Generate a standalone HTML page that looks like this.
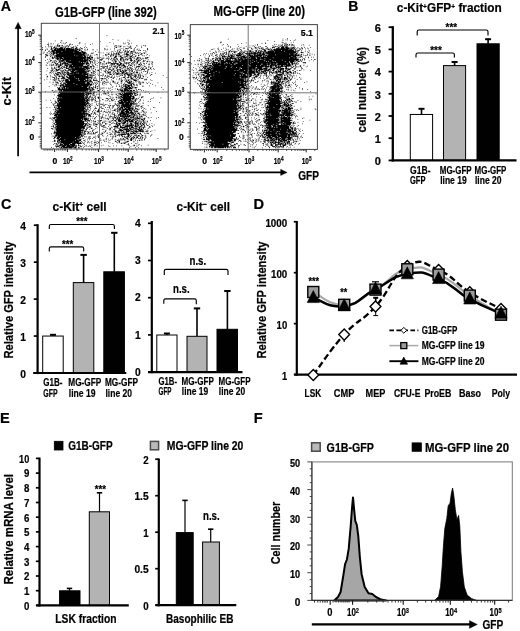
<!DOCTYPE html>
<html><head><meta charset="utf-8"><title>figure</title>
<style>html,body{margin:0;padding:0;background:#fff}svg{display:block;opacity:0.999;will-change:transform}text{stroke:#000;stroke-width:0.22px;font-family:"Liberation Sans",sans-serif;font-weight:bold}</style>
</head><body>
<svg width="520" height="631" viewBox="0 0 520 631">
<defs><filter id="soft" x="-2%" y="-2%" width="104%" height="104%"><feGaussianBlur stdDeviation="0.38"/></filter></defs>
<rect x="0" y="0" width="520" height="631" fill="#fff"/>
<text x="55.10" y="17.40" font-size="14.1" text-anchor="start" fill="#000" textLength="101.60" lengthAdjust="spacingAndGlyphs" >G1B-GFP (line 392)</text>
<text x="213.60" y="15.80" font-size="14.1" text-anchor="start" fill="#000" textLength="91.40" lengthAdjust="spacingAndGlyphs" >MG-GFP (line 20)</text>
<line x1="18.10" y1="28.00" x2="18.10" y2="156.20" stroke="#000" stroke-width="1.7" />
<path d="M18.1 22.2 L14.9 28.8 L21.3 28.8 Z" fill="#000" stroke="#000" stroke-width="0.3" />
<text transform="translate(11.40,91.30) rotate(-90)" x="0" y="0" font-size="13.4" text-anchor="middle" textLength="28.50" lengthAdjust="spacingAndGlyphs">c-Kit</text>
<line x1="29.50" y1="172.40" x2="281.50" y2="172.40" stroke="#000" stroke-width="1.7" />
<path d="M287.2 172.4 L280.6 169.2 L280.6 175.6 Z" fill="#000" stroke="#000" stroke-width="0.3" />
<text x="298.20" y="179.90" font-size="13.6" text-anchor="start" fill="#000" textLength="20.80" lengthAdjust="spacingAndGlyphs" >GFP</text>
<g filter="url(#soft)"><path d="M87 16h1v1h-1zM46 20h1v1h-1zM95 21h1v1h-1zM102 22h1v1h-1zM115 22h1v1h-1zM18 23h1v1h-1zM26 23h2v1h-2zM117 23h1v1h-1zM78 24h1v1h-1zM25 25h1v1h-1zM33 25h1v1h-1zM51 25h1v1h-1zM91 25h1v1h-1zM115 25h1v1h-1zM9 26h1v1h-1zM27 26h1v1h-1zM29 26h1v1h-1zM32 26h1v1h-1zM51 26h1v1h-1zM109 26h1v1h-1zM112 26h1v1h-1zM116 26h1v1h-1zM120 26h1v1h-1zM12 27h2v1h-2zM16 27h1v1h-1zM22 27h1v1h-1zM31 27h1v1h-1zM38 27h1v1h-1zM50 27h1v1h-1zM58 27h1v1h-1zM68 27h1v1h-1zM96 27h1v1h-1zM110 27h1v1h-1zM117 27h1v1h-1zM8 28h2v1h-2zM21 28h1v1h-1zM37 28h1v1h-1zM39 28h1v1h-1zM41 28h1v1h-1zM65 28h1v1h-1zM116 28h1v1h-1zM9 29h1v1h-1zM21 29h1v1h-1zM23 29h2v1h-2zM26 29h1v1h-1zM28 29h1v1h-1zM34 29h1v1h-1zM37 29h1v1h-1zM48 29h1v1h-1zM98 29h1v1h-1zM100 29h1v1h-1zM103 29h1v1h-1zM127 29h1v1h-1zM136 29h1v1h-1zM138 29h1v1h-1zM12 30h1v1h-1zM14 30h1v1h-1zM18 30h1v1h-1zM20 30h3v1h-3zM24 30h1v1h-1zM28 30h1v1h-1zM31 30h1v1h-1zM33 30h2v1h-2zM36 30h1v1h-1zM45 30h1v1h-1zM58 30h1v1h-1zM87 30h1v1h-1zM98 30h1v1h-1zM105 30h2v1h-2zM114 30h1v1h-1zM118 30h2v1h-2zM127 30h1v1h-1zM133 30h1v1h-1zM138 30h1v1h-1zM5 31h1v1h-1zM9 31h1v1h-1zM11 31h1v1h-1zM13 31h1v1h-1zM17 31h1v1h-1zM22 31h1v1h-1zM24 31h1v1h-1zM26 31h1v1h-1zM29 31h1v1h-1zM32 31h1v1h-1zM36 31h1v1h-1zM39 31h1v1h-1zM42 31h2v1h-2zM46 31h1v1h-1zM97 31h1v1h-1zM100 31h1v1h-1zM102 31h1v1h-1zM104 31h2v1h-2zM109 31h1v1h-1zM111 31h1v1h-1zM116 31h1v1h-1zM118 31h1v1h-1zM1 32h1v1h-1zM13 32h1v1h-1zM16 32h3v1h-3zM20 32h1v1h-1zM25 32h4v1h-4zM30 32h1v1h-1zM32 32h1v1h-1zM35 32h1v1h-1zM40 32h3v1h-3zM46 32h2v1h-2zM52 32h1v1h-1zM57 32h1v1h-1zM60 32h1v1h-1zM99 32h2v1h-2zM117 32h1v1h-1zM119 32h1v1h-1zM125 32h1v1h-1zM133 32h1v1h-1zM13 33h2v1h-2zM16 33h1v1h-1zM18 33h4v1h-4zM23 33h6v1h-6zM30 33h2v1h-2zM33 33h6v1h-6zM40 33h1v1h-1zM42 33h1v1h-1zM45 33h3v1h-3zM51 33h1v1h-1zM53 33h2v1h-2zM77 33h1v1h-1zM84 33h1v1h-1zM97 33h1v1h-1zM107 33h1v1h-1zM112 33h3v1h-3zM116 33h1v1h-1zM119 33h2v1h-2zM124 33h1v1h-1zM141 33h1v1h-1zM1 34h1v1h-1zM7 34h2v1h-2zM12 34h2v1h-2zM17 34h3v1h-3zM21 34h25v1h-25zM47 34h2v1h-2zM50 34h1v1h-1zM54 34h1v1h-1zM58 34h1v1h-1zM61 34h1v1h-1zM85 34h1v1h-1zM88 34h1v1h-1zM92 34h1v1h-1zM105 34h1v1h-1zM109 34h1v1h-1zM114 34h1v1h-1zM128 34h1v1h-1zM130 34h1v1h-1zM141 34h1v1h-1zM1 35h1v1h-1zM5 35h1v1h-1zM13 35h3v1h-3zM17 35h15v1h-15zM33 35h11v1h-11zM45 35h8v1h-8zM57 35h1v1h-1zM61 35h1v1h-1zM68 35h2v1h-2zM74 35h1v1h-1zM84 35h1v1h-1zM87 35h1v1h-1zM97 35h1v1h-1zM102 35h1v1h-1zM104 35h1v1h-1zM111 35h1v1h-1zM123 35h2v1h-2zM127 35h1v1h-1zM141 35h1v1h-1zM5 36h1v1h-1zM10 36h1v1h-1zM14 36h34v1h-34zM50 36h2v1h-2zM53 36h1v1h-1zM59 36h1v1h-1zM101 36h1v1h-1zM105 36h1v1h-1zM109 36h1v1h-1zM112 36h1v1h-1zM114 36h1v1h-1zM117 36h1v1h-1zM123 36h1v1h-1zM129 36h1v1h-1zM131 36h2v1h-2zM136 36h1v1h-1zM138 36h1v1h-1zM9 37h1v1h-1zM11 37h1v1h-1zM13 37h5v1h-5zM19 37h8v1h-8zM28 37h22v1h-22zM53 37h3v1h-3zM72 37h1v1h-1zM94 37h1v1h-1zM98 37h1v1h-1zM101 37h1v1h-1zM104 37h1v1h-1zM111 37h2v1h-2zM114 37h1v1h-1zM116 37h1v1h-1zM119 37h3v1h-3zM123 37h1v1h-1zM139 37h1v1h-1zM2 38h1v1h-1zM4 38h1v1h-1zM11 38h1v1h-1zM15 38h3v1h-3zM19 38h24v1h-24zM44 38h9v1h-9zM54 38h5v1h-5zM76 38h1v1h-1zM93 38h1v1h-1zM96 38h1v1h-1zM103 38h2v1h-2zM106 38h1v1h-1zM108 38h1v1h-1zM111 38h1v1h-1zM114 38h3v1h-3zM119 38h2v1h-2zM122 38h1v1h-1zM124 38h2v1h-2zM7 39h2v1h-2zM12 39h2v1h-2zM15 39h45v1h-45zM67 39h1v1h-1zM69 39h1v1h-1zM79 39h1v1h-1zM82 39h1v1h-1zM87 39h1v1h-1zM90 39h1v1h-1zM100 39h2v1h-2zM103 39h1v1h-1zM105 39h2v1h-2zM110 39h1v1h-1zM113 39h1v1h-1zM115 39h1v1h-1zM118 39h1v1h-1zM121 39h1v1h-1zM125 39h1v1h-1zM127 39h2v1h-2zM130 39h1v1h-1zM132 39h1v1h-1zM136 39h2v1h-2zM139 39h1v1h-1zM2 40h1v1h-1zM10 40h1v1h-1zM13 40h1v1h-1zM15 40h3v1h-3zM19 40h3v1h-3zM23 40h31v1h-31zM55 40h4v1h-4zM60 40h1v1h-1zM66 40h1v1h-1zM68 40h1v1h-1zM89 40h1v1h-1zM93 40h1v1h-1zM96 40h2v1h-2zM99 40h2v1h-2zM102 40h2v1h-2zM111 40h1v1h-1zM113 40h2v1h-2zM118 40h1v1h-1zM120 40h2v1h-2zM126 40h1v1h-1zM129 40h1v1h-1zM133 40h2v1h-2zM137 40h1v1h-1zM5 41h2v1h-2zM12 41h1v1h-1zM15 41h2v1h-2zM20 41h38v1h-38zM59 41h1v1h-1zM62 41h1v1h-1zM73 41h2v1h-2zM85 41h1v1h-1zM87 41h1v1h-1zM89 41h2v1h-2zM93 41h2v1h-2zM96 41h1v1h-1zM98 41h1v1h-1zM100 41h1v1h-1zM102 41h3v1h-3zM110 41h1v1h-1zM112 41h5v1h-5zM118 41h1v1h-1zM122 41h1v1h-1zM124 41h1v1h-1zM132 41h2v1h-2zM141 41h1v1h-1zM6 42h3v1h-3zM10 42h1v1h-1zM13 42h2v1h-2zM16 42h2v1h-2zM19 42h25v1h-25zM45 42h14v1h-14zM60 42h3v1h-3zM65 42h1v1h-1zM67 42h1v1h-1zM71 42h1v1h-1zM85 42h1v1h-1zM87 42h1v1h-1zM92 42h1v1h-1zM96 42h1v1h-1zM100 42h1v1h-1zM102 42h1v1h-1zM108 42h1v1h-1zM110 42h1v1h-1zM113 42h3v1h-3zM121 42h1v1h-1zM129 42h2v1h-2zM134 42h1v1h-1zM140 42h1v1h-1zM6 43h1v1h-1zM8 43h1v1h-1zM12 43h1v1h-1zM18 43h29v1h-29zM48 43h7v1h-7zM56 43h3v1h-3zM63 43h1v1h-1zM65 43h1v1h-1zM74 43h1v1h-1zM82 43h1v1h-1zM86 43h1v1h-1zM92 43h3v1h-3zM96 43h1v1h-1zM98 43h2v1h-2zM104 43h3v1h-3zM114 43h1v1h-1zM116 43h3v1h-3zM120 43h2v1h-2zM125 43h2v1h-2zM129 43h1v1h-1zM135 43h1v1h-1zM137 43h1v1h-1zM144 43h1v1h-1zM5 44h1v1h-1zM12 44h1v1h-1zM14 44h1v1h-1zM17 44h1v1h-1zM19 44h37v1h-37zM57 44h3v1h-3zM61 44h1v1h-1zM64 44h2v1h-2zM67 44h1v1h-1zM89 44h1v1h-1zM92 44h1v1h-1zM98 44h3v1h-3zM103 44h1v1h-1zM105 44h2v1h-2zM110 44h1v1h-1zM112 44h3v1h-3zM118 44h3v1h-3zM123 44h1v1h-1zM125 44h1v1h-1zM5 45h1v1h-1zM14 45h2v1h-2zM17 45h2v1h-2zM20 45h3v1h-3zM24 45h4v1h-4zM29 45h31v1h-31zM61 45h4v1h-4zM66 45h3v1h-3zM74 45h1v1h-1zM77 45h2v1h-2zM97 45h3v1h-3zM106 45h3v1h-3zM110 45h1v1h-1zM112 45h1v1h-1zM115 45h1v1h-1zM118 45h1v1h-1zM121 45h1v1h-1zM123 45h1v1h-1zM128 45h2v1h-2zM131 45h1v1h-1zM139 45h1v1h-1zM141 45h2v1h-2zM11 46h1v1h-1zM14 46h3v1h-3zM18 46h1v1h-1zM20 46h9v1h-9zM30 46h36v1h-36zM67 46h2v1h-2zM71 46h1v1h-1zM75 46h2v1h-2zM80 46h4v1h-4zM87 46h4v1h-4zM93 46h1v1h-1zM96 46h2v1h-2zM100 46h1v1h-1zM105 46h1v1h-1zM107 46h1v1h-1zM109 46h1v1h-1zM117 46h4v1h-4zM124 46h1v1h-1zM127 46h2v1h-2zM130 46h1v1h-1zM132 46h1v1h-1zM135 46h1v1h-1zM138 46h4v1h-4zM15 47h1v1h-1zM19 47h5v1h-5zM25 47h34v1h-34zM61 47h1v1h-1zM63 47h4v1h-4zM74 47h1v1h-1zM86 47h1v1h-1zM93 47h1v1h-1zM95 47h1v1h-1zM98 47h1v1h-1zM100 47h2v1h-2zM105 47h4v1h-4zM112 47h3v1h-3zM116 47h1v1h-1zM118 47h2v1h-2zM123 47h1v1h-1zM126 47h1v1h-1zM128 47h2v1h-2zM132 47h1v1h-1zM134 47h1v1h-1zM136 47h1v1h-1zM139 47h1v1h-1zM8 48h1v1h-1zM11 48h1v1h-1zM21 48h2v1h-2zM24 48h2v1h-2zM28 48h28v1h-28zM57 48h6v1h-6zM65 48h2v1h-2zM68 48h1v1h-1zM70 48h1v1h-1zM78 48h4v1h-4zM89 48h1v1h-1zM92 48h1v1h-1zM96 48h2v1h-2zM99 48h1v1h-1zM101 48h1v1h-1zM105 48h2v1h-2zM109 48h2v1h-2zM112 48h1v1h-1zM114 48h2v1h-2zM119 48h2v1h-2zM126 48h2v1h-2zM130 48h1v1h-1zM133 48h1v1h-1zM142 48h1v1h-1zM5 49h1v1h-1zM12 49h2v1h-2zM18 49h1v1h-1zM22 49h1v1h-1zM24 49h7v1h-7zM32 49h6v1h-6zM39 49h23v1h-23zM63 49h2v1h-2zM69 49h1v1h-1zM71 49h1v1h-1zM78 49h1v1h-1zM80 49h1v1h-1zM94 49h1v1h-1zM97 49h1v1h-1zM99 49h1v1h-1zM102 49h1v1h-1zM105 49h2v1h-2zM109 49h1v1h-1zM111 49h1v1h-1zM114 49h1v1h-1zM118 49h4v1h-4zM124 49h1v1h-1zM127 49h1v1h-1zM129 49h2v1h-2zM132 49h1v1h-1zM136 49h1v1h-1zM138 49h1v1h-1zM12 50h1v1h-1zM14 50h1v1h-1zM16 50h3v1h-3zM20 50h1v1h-1zM24 50h1v1h-1zM26 50h1v1h-1zM28 50h4v1h-4zM33 50h29v1h-29zM63 50h3v1h-3zM67 50h1v1h-1zM71 50h1v1h-1zM74 50h1v1h-1zM83 50h1v1h-1zM89 50h1v1h-1zM94 50h1v1h-1zM96 50h1v1h-1zM98 50h2v1h-2zM108 50h2v1h-2zM119 50h2v1h-2zM123 50h3v1h-3zM128 50h3v1h-3zM136 50h2v1h-2zM141 50h1v1h-1zM143 50h1v1h-1zM9 51h1v1h-1zM11 51h1v1h-1zM20 51h1v1h-1zM23 51h6v1h-6zM31 51h1v1h-1zM33 51h17v1h-17zM51 51h9v1h-9zM61 51h1v1h-1zM65 51h2v1h-2zM68 51h1v1h-1zM71 51h1v1h-1zM83 51h2v1h-2zM98 51h3v1h-3zM103 51h2v1h-2zM106 51h1v1h-1zM110 51h2v1h-2zM123 51h1v1h-1zM127 51h2v1h-2zM134 51h1v1h-1zM136 51h1v1h-1zM140 51h2v1h-2zM144 51h1v1h-1zM146 51h1v1h-1zM148 51h1v1h-1zM7 52h1v1h-1zM14 52h2v1h-2zM17 52h2v1h-2zM23 52h1v1h-1zM25 52h1v1h-1zM29 52h4v1h-4zM34 52h1v1h-1zM36 52h17v1h-17zM54 52h2v1h-2zM57 52h1v1h-1zM59 52h4v1h-4zM65 52h1v1h-1zM68 52h1v1h-1zM71 52h1v1h-1zM76 52h1v1h-1zM78 52h2v1h-2zM87 52h1v1h-1zM89 52h4v1h-4zM96 52h1v1h-1zM98 52h1v1h-1zM104 52h2v1h-2zM111 52h1v1h-1zM113 52h2v1h-2zM116 52h3v1h-3zM121 52h2v1h-2zM124 52h1v1h-1zM127 52h2v1h-2zM132 52h1v1h-1zM148 52h1v1h-1zM8 53h1v1h-1zM18 53h2v1h-2zM21 53h1v1h-1zM25 53h1v1h-1zM27 53h9v1h-9zM38 53h1v1h-1zM40 53h18v1h-18zM59 53h5v1h-5zM65 53h1v1h-1zM70 53h1v1h-1zM74 53h1v1h-1zM78 53h1v1h-1zM81 53h1v1h-1zM83 53h1v1h-1zM86 53h2v1h-2zM89 53h1v1h-1zM91 53h1v1h-1zM93 53h10v1h-10zM105 53h3v1h-3zM110 53h1v1h-1zM112 53h2v1h-2zM115 53h2v1h-2zM120 53h1v1h-1zM122 53h1v1h-1zM126 53h1v1h-1zM128 53h1v1h-1zM132 53h1v1h-1zM136 53h2v1h-2zM140 53h1v1h-1zM147 53h1v1h-1zM11 54h1v1h-1zM13 54h1v1h-1zM16 54h1v1h-1zM19 54h4v1h-4zM25 54h2v1h-2zM28 54h1v1h-1zM31 54h2v1h-2zM34 54h5v1h-5zM40 54h18v1h-18zM59 54h3v1h-3zM63 54h1v1h-1zM67 54h2v1h-2zM72 54h1v1h-1zM79 54h1v1h-1zM86 54h1v1h-1zM92 54h3v1h-3zM97 54h1v1h-1zM101 54h1v1h-1zM103 54h1v1h-1zM105 54h2v1h-2zM109 54h1v1h-1zM113 54h1v1h-1zM117 54h1v1h-1zM120 54h2v1h-2zM124 54h1v1h-1zM130 54h2v1h-2zM133 54h1v1h-1zM143 54h2v1h-2zM147 54h1v1h-1zM6 55h1v1h-1zM14 55h1v1h-1zM16 55h1v1h-1zM20 55h1v1h-1zM22 55h1v1h-1zM24 55h3v1h-3zM28 55h1v1h-1zM30 55h1v1h-1zM32 55h3v1h-3zM36 55h1v1h-1zM38 55h18v1h-18zM60 55h1v1h-1zM62 55h1v1h-1zM64 55h1v1h-1zM72 55h1v1h-1zM77 55h1v1h-1zM81 55h2v1h-2zM84 55h1v1h-1zM94 55h4v1h-4zM100 55h7v1h-7zM108 55h3v1h-3zM116 55h1v1h-1zM118 55h1v1h-1zM123 55h1v1h-1zM126 55h1v1h-1zM129 55h3v1h-3zM133 55h1v1h-1zM137 55h1v1h-1zM143 55h1v1h-1zM148 55h1v1h-1zM7 56h1v1h-1zM11 56h1v1h-1zM13 56h1v1h-1zM15 56h1v1h-1zM18 56h1v1h-1zM20 56h1v1h-1zM22 56h1v1h-1zM24 56h3v1h-3zM31 56h5v1h-5zM37 56h4v1h-4zM42 56h14v1h-14zM58 56h1v1h-1zM61 56h3v1h-3zM68 56h2v1h-2zM74 56h1v1h-1zM88 56h1v1h-1zM91 56h1v1h-1zM93 56h1v1h-1zM98 56h1v1h-1zM103 56h2v1h-2zM106 56h1v1h-1zM108 56h4v1h-4zM116 56h1v1h-1zM118 56h3v1h-3zM124 56h1v1h-1zM132 56h1v1h-1zM135 56h1v1h-1zM22 57h3v1h-3zM28 57h1v1h-1zM30 57h1v1h-1zM33 57h3v1h-3zM37 57h25v1h-25zM63 57h1v1h-1zM65 57h3v1h-3zM69 57h2v1h-2zM79 57h3v1h-3zM83 57h1v1h-1zM85 57h2v1h-2zM88 57h1v1h-1zM93 57h1v1h-1zM96 57h4v1h-4zM101 57h1v1h-1zM103 57h1v1h-1zM107 57h1v1h-1zM110 57h3v1h-3zM114 57h1v1h-1zM121 57h1v1h-1zM127 57h5v1h-5zM137 57h2v1h-2zM143 57h1v1h-1zM148 57h1v1h-1zM13 58h1v1h-1zM17 58h1v1h-1zM20 58h1v1h-1zM22 58h3v1h-3zM26 58h2v1h-2zM29 58h3v1h-3zM33 58h1v1h-1zM37 58h14v1h-14zM52 58h2v1h-2zM56 58h8v1h-8zM65 58h2v1h-2zM74 58h1v1h-1zM83 58h2v1h-2zM87 58h2v1h-2zM91 58h1v1h-1zM94 58h1v1h-1zM101 58h1v1h-1zM104 58h2v1h-2zM107 58h1v1h-1zM109 58h1v1h-1zM111 58h1v1h-1zM114 58h2v1h-2zM117 58h1v1h-1zM119 58h1v1h-1zM124 58h1v1h-1zM126 58h2v1h-2zM129 58h1v1h-1zM131 58h1v1h-1zM133 58h1v1h-1zM135 58h1v1h-1zM143 58h1v1h-1zM14 59h1v1h-1zM17 59h1v1h-1zM19 59h1v1h-1zM22 59h1v1h-1zM26 59h1v1h-1zM30 59h1v1h-1zM32 59h3v1h-3zM36 59h2v1h-2zM39 59h3v1h-3zM43 59h1v1h-1zM45 59h17v1h-17zM63 59h1v1h-1zM66 59h1v1h-1zM69 59h1v1h-1zM71 59h1v1h-1zM81 59h3v1h-3zM91 59h2v1h-2zM97 59h1v1h-1zM99 59h3v1h-3zM104 59h2v1h-2zM109 59h1v1h-1zM111 59h2v1h-2zM118 59h2v1h-2zM126 59h1v1h-1zM136 59h1v1h-1zM139 59h2v1h-2zM143 59h1v1h-1zM145 59h2v1h-2zM8 60h1v1h-1zM13 60h1v1h-1zM15 60h1v1h-1zM17 60h1v1h-1zM19 60h1v1h-1zM24 60h2v1h-2zM27 60h2v1h-2zM33 60h4v1h-4zM38 60h1v1h-1zM40 60h18v1h-18zM59 60h6v1h-6zM67 60h1v1h-1zM69 60h1v1h-1zM78 60h1v1h-1zM80 60h1v1h-1zM83 60h1v1h-1zM86 60h1v1h-1zM88 60h1v1h-1zM90 60h1v1h-1zM95 60h2v1h-2zM100 60h1v1h-1zM106 60h1v1h-1zM108 60h1v1h-1zM114 60h3v1h-3zM118 60h1v1h-1zM120 60h2v1h-2zM125 60h1v1h-1zM129 60h1v1h-1zM132 60h1v1h-1zM134 60h2v1h-2zM138 60h1v1h-1zM140 60h1v1h-1zM145 60h1v1h-1zM149 60h1v1h-1zM15 61h1v1h-1zM19 61h2v1h-2zM22 61h3v1h-3zM31 61h1v1h-1zM36 61h24v1h-24zM61 61h1v1h-1zM67 61h1v1h-1zM72 61h1v1h-1zM79 61h1v1h-1zM85 61h1v1h-1zM89 61h4v1h-4zM95 61h2v1h-2zM101 61h1v1h-1zM103 61h3v1h-3zM111 61h1v1h-1zM115 61h1v1h-1zM117 61h1v1h-1zM120 61h1v1h-1zM123 61h1v1h-1zM125 61h1v1h-1zM128 61h1v1h-1zM133 61h5v1h-5zM142 61h2v1h-2zM146 61h1v1h-1zM150 61h1v1h-1zM13 62h3v1h-3zM19 62h5v1h-5zM25 62h1v1h-1zM27 62h1v1h-1zM29 62h1v1h-1zM31 62h2v1h-2zM36 62h3v1h-3zM41 62h17v1h-17zM59 62h6v1h-6zM69 62h1v1h-1zM72 62h1v1h-1zM75 62h2v1h-2zM80 62h1v1h-1zM86 62h1v1h-1zM93 62h2v1h-2zM97 62h1v1h-1zM100 62h3v1h-3zM105 62h1v1h-1zM107 62h2v1h-2zM110 62h1v1h-1zM112 62h3v1h-3zM116 62h2v1h-2zM119 62h3v1h-3zM126 62h1v1h-1zM129 62h1v1h-1zM131 62h1v1h-1zM137 62h1v1h-1zM141 62h1v1h-1zM7 63h1v1h-1zM12 63h1v1h-1zM14 63h1v1h-1zM17 63h1v1h-1zM20 63h2v1h-2zM26 63h1v1h-1zM28 63h2v1h-2zM32 63h5v1h-5zM38 63h7v1h-7zM46 63h1v1h-1zM48 63h11v1h-11zM63 63h1v1h-1zM65 63h1v1h-1zM68 63h1v1h-1zM74 63h1v1h-1zM76 63h1v1h-1zM83 63h1v1h-1zM85 63h1v1h-1zM87 63h1v1h-1zM89 63h1v1h-1zM93 63h1v1h-1zM95 63h1v1h-1zM98 63h1v1h-1zM101 63h1v1h-1zM104 63h2v1h-2zM108 63h2v1h-2zM111 63h3v1h-3zM118 63h1v1h-1zM121 63h1v1h-1zM126 63h1v1h-1zM128 63h1v1h-1zM131 63h1v1h-1zM133 63h1v1h-1zM142 63h1v1h-1zM13 64h1v1h-1zM16 64h1v1h-1zM19 64h1v1h-1zM26 64h1v1h-1zM28 64h1v1h-1zM30 64h1v1h-1zM34 64h1v1h-1zM39 64h5v1h-5zM45 64h19v1h-19zM69 64h3v1h-3zM77 64h1v1h-1zM84 64h2v1h-2zM88 64h1v1h-1zM90 64h1v1h-1zM92 64h1v1h-1zM96 64h2v1h-2zM101 64h2v1h-2zM105 64h3v1h-3zM109 64h2v1h-2zM112 64h1v1h-1zM117 64h1v1h-1zM120 64h2v1h-2zM124 64h1v1h-1zM127 64h1v1h-1zM136 64h1v1h-1zM138 64h2v1h-2zM141 64h1v1h-1zM11 65h2v1h-2zM15 65h1v1h-1zM21 65h4v1h-4zM26 65h1v1h-1zM28 65h1v1h-1zM30 65h3v1h-3zM34 65h3v1h-3zM40 65h21v1h-21zM66 65h2v1h-2zM69 65h1v1h-1zM72 65h1v1h-1zM79 65h1v1h-1zM85 65h1v1h-1zM88 65h5v1h-5zM96 65h1v1h-1zM98 65h2v1h-2zM103 65h1v1h-1zM107 65h4v1h-4zM113 65h1v1h-1zM115 65h1v1h-1zM118 65h1v1h-1zM122 65h2v1h-2zM126 65h3v1h-3zM133 65h1v1h-1zM141 65h1v1h-1zM147 65h1v1h-1zM13 66h1v1h-1zM18 66h2v1h-2zM22 66h1v1h-1zM24 66h2v1h-2zM28 66h2v1h-2zM33 66h2v1h-2zM36 66h11v1h-11zM48 66h1v1h-1zM50 66h10v1h-10zM61 66h3v1h-3zM67 66h1v1h-1zM70 66h1v1h-1zM75 66h1v1h-1zM77 66h1v1h-1zM86 66h1v1h-1zM89 66h1v1h-1zM94 66h1v1h-1zM100 66h4v1h-4zM107 66h3v1h-3zM111 66h3v1h-3zM115 66h1v1h-1zM117 66h1v1h-1zM120 66h1v1h-1zM124 66h1v1h-1zM126 66h1v1h-1zM128 66h1v1h-1zM130 66h2v1h-2zM141 66h1v1h-1zM144 66h1v1h-1zM152 66h1v1h-1zM11 67h1v1h-1zM16 67h1v1h-1zM19 67h4v1h-4zM25 67h2v1h-2zM28 67h1v1h-1zM30 67h2v1h-2zM34 67h3v1h-3zM38 67h4v1h-4zM43 67h12v1h-12zM56 67h6v1h-6zM67 67h1v1h-1zM69 67h2v1h-2zM82 67h1v1h-1zM88 67h1v1h-1zM90 67h3v1h-3zM96 67h3v1h-3zM100 67h3v1h-3zM104 67h3v1h-3zM108 67h1v1h-1zM110 67h1v1h-1zM112 67h4v1h-4zM118 67h5v1h-5zM134 67h1v1h-1zM140 67h1v1h-1zM6 68h1v1h-1zM17 68h1v1h-1zM20 68h4v1h-4zM26 68h1v1h-1zM29 68h2v1h-2zM32 68h1v1h-1zM34 68h5v1h-5zM40 68h23v1h-23zM64 68h2v1h-2zM67 68h1v1h-1zM72 68h1v1h-1zM75 68h1v1h-1zM82 68h1v1h-1zM91 68h3v1h-3zM96 68h1v1h-1zM100 68h2v1h-2zM103 68h1v1h-1zM107 68h1v1h-1zM110 68h2v1h-2zM114 68h5v1h-5zM120 68h1v1h-1zM124 68h2v1h-2zM127 68h1v1h-1zM129 68h2v1h-2zM132 68h1v1h-1zM138 68h1v1h-1zM146 68h2v1h-2zM12 69h1v1h-1zM17 69h1v1h-1zM19 69h1v1h-1zM21 69h1v1h-1zM23 69h1v1h-1zM27 69h1v1h-1zM30 69h2v1h-2zM35 69h24v1h-24zM61 69h2v1h-2zM64 69h3v1h-3zM68 69h3v1h-3zM76 69h1v1h-1zM78 69h1v1h-1zM80 69h1v1h-1zM82 69h1v1h-1zM85 69h1v1h-1zM88 69h1v1h-1zM94 69h1v1h-1zM105 69h1v1h-1zM107 69h2v1h-2zM111 69h1v1h-1zM115 69h4v1h-4zM120 69h2v1h-2zM123 69h1v1h-1zM125 69h2v1h-2zM129 69h2v1h-2zM132 69h1v1h-1zM134 69h1v1h-1zM145 69h1v1h-1zM162 69h1v1h-1zM8 70h1v1h-1zM19 70h1v1h-1zM23 70h4v1h-4zM28 70h1v1h-1zM33 70h1v1h-1zM37 70h26v1h-26zM66 70h2v1h-2zM72 70h1v1h-1zM81 70h1v1h-1zM85 70h1v1h-1zM89 70h2v1h-2zM97 70h1v1h-1zM100 70h1v1h-1zM103 70h2v1h-2zM111 70h2v1h-2zM116 70h1v1h-1zM118 70h1v1h-1zM123 70h3v1h-3zM127 70h1v1h-1zM132 70h1v1h-1zM136 70h1v1h-1zM139 70h1v1h-1zM7 71h2v1h-2zM12 71h1v1h-1zM14 71h1v1h-1zM18 71h1v1h-1zM20 71h1v1h-1zM23 71h2v1h-2zM27 71h5v1h-5zM33 71h3v1h-3zM37 71h7v1h-7zM45 71h18v1h-18zM64 71h2v1h-2zM68 71h1v1h-1zM77 71h1v1h-1zM84 71h1v1h-1zM87 71h2v1h-2zM90 71h1v1h-1zM93 71h2v1h-2zM101 71h1v1h-1zM110 71h1v1h-1zM116 71h1v1h-1zM118 71h3v1h-3zM124 71h2v1h-2zM127 71h1v1h-1zM129 71h2v1h-2zM132 71h1v1h-1zM135 71h2v1h-2zM15 72h3v1h-3zM20 72h1v1h-1zM28 72h3v1h-3zM34 72h34v1h-34zM70 72h1v1h-1zM72 72h1v1h-1zM87 72h1v1h-1zM92 72h2v1h-2zM96 72h2v1h-2zM107 72h1v1h-1zM109 72h3v1h-3zM114 72h3v1h-3zM118 72h1v1h-1zM120 72h1v1h-1zM122 72h1v1h-1zM125 72h1v1h-1zM128 72h1v1h-1zM130 72h1v1h-1zM132 72h1v1h-1zM141 72h1v1h-1zM167 72h1v1h-1zM17 73h1v1h-1zM20 73h1v1h-1zM22 73h2v1h-2zM26 73h6v1h-6zM36 73h10v1h-10zM47 73h2v1h-2zM50 73h14v1h-14zM66 73h2v1h-2zM71 73h1v1h-1zM79 73h4v1h-4zM84 73h2v1h-2zM89 73h1v1h-1zM95 73h2v1h-2zM104 73h1v1h-1zM106 73h1v1h-1zM112 73h1v1h-1zM119 73h3v1h-3zM126 73h1v1h-1zM130 73h2v1h-2zM133 73h3v1h-3zM7 74h1v1h-1zM12 74h1v1h-1zM17 74h3v1h-3zM22 74h1v1h-1zM27 74h1v1h-1zM30 74h1v1h-1zM32 74h27v1h-27zM61 74h1v1h-1zM64 74h1v1h-1zM66 74h1v1h-1zM69 74h1v1h-1zM71 74h1v1h-1zM73 74h1v1h-1zM81 74h1v1h-1zM86 74h1v1h-1zM100 74h1v1h-1zM104 74h1v1h-1zM110 74h1v1h-1zM112 74h1v1h-1zM115 74h1v1h-1zM119 74h5v1h-5zM126 74h1v1h-1zM128 74h1v1h-1zM138 74h1v1h-1zM140 74h1v1h-1zM4 75h1v1h-1zM15 75h2v1h-2zM20 75h1v1h-1zM23 75h1v1h-1zM29 75h1v1h-1zM32 75h4v1h-4zM38 75h11v1h-11zM50 75h10v1h-10zM61 75h3v1h-3zM65 75h1v1h-1zM69 75h1v1h-1zM80 75h1v1h-1zM83 75h1v1h-1zM87 75h1v1h-1zM93 75h1v1h-1zM103 75h1v1h-1zM106 75h2v1h-2zM113 75h1v1h-1zM116 75h2v1h-2zM123 75h3v1h-3zM129 75h1v1h-1zM137 75h2v1h-2zM140 75h1v1h-1zM145 75h1v1h-1zM17 76h2v1h-2zM22 76h1v1h-1zM24 76h1v1h-1zM26 76h1v1h-1zM28 76h2v1h-2zM31 76h6v1h-6zM38 76h12v1h-12zM51 76h6v1h-6zM58 76h5v1h-5zM64 76h3v1h-3zM69 76h6v1h-6zM80 76h1v1h-1zM87 76h1v1h-1zM95 76h1v1h-1zM106 76h1v1h-1zM108 76h1v1h-1zM111 76h1v1h-1zM113 76h1v1h-1zM115 76h2v1h-2zM119 76h1v1h-1zM123 76h5v1h-5zM147 76h1v1h-1zM19 77h1v1h-1zM24 77h2v1h-2zM28 77h1v1h-1zM32 77h30v1h-30zM63 77h5v1h-5zM75 77h3v1h-3zM83 77h2v1h-2zM95 77h2v1h-2zM106 77h2v1h-2zM112 77h3v1h-3zM117 77h1v1h-1zM119 77h2v1h-2zM125 77h1v1h-1zM127 77h1v1h-1zM130 77h1v1h-1zM11 78h1v1h-1zM16 78h1v1h-1zM19 78h1v1h-1zM21 78h1v1h-1zM27 78h1v1h-1zM29 78h1v1h-1zM31 78h28v1h-28zM61 78h3v1h-3zM65 78h1v1h-1zM67 78h1v1h-1zM71 78h1v1h-1zM73 78h1v1h-1zM78 78h1v1h-1zM81 78h1v1h-1zM85 78h1v1h-1zM87 78h3v1h-3zM92 78h1v1h-1zM95 78h2v1h-2zM98 78h1v1h-1zM102 78h1v1h-1zM106 78h1v1h-1zM114 78h5v1h-5zM120 78h1v1h-1zM122 78h1v1h-1zM129 78h2v1h-2zM132 78h1v1h-1zM134 78h1v1h-1zM136 78h1v1h-1zM143 78h1v1h-1zM15 79h1v1h-1zM19 79h4v1h-4zM26 79h1v1h-1zM31 79h1v1h-1zM33 79h26v1h-26zM60 79h5v1h-5zM67 79h2v1h-2zM71 79h1v1h-1zM75 79h1v1h-1zM82 79h2v1h-2zM86 79h1v1h-1zM97 79h1v1h-1zM101 79h1v1h-1zM107 79h1v1h-1zM111 79h1v1h-1zM114 79h1v1h-1zM116 79h4v1h-4zM123 79h1v1h-1zM126 79h1v1h-1zM131 79h1v1h-1zM134 79h1v1h-1zM136 79h1v1h-1zM140 79h1v1h-1zM155 79h1v1h-1zM22 80h1v1h-1zM25 80h2v1h-2zM29 80h4v1h-4zM34 80h9v1h-9zM44 80h15v1h-15zM60 80h5v1h-5zM66 80h1v1h-1zM69 80h1v1h-1zM72 80h1v1h-1zM74 80h1v1h-1zM81 80h1v1h-1zM84 80h1v1h-1zM91 80h1v1h-1zM99 80h1v1h-1zM101 80h1v1h-1zM106 80h1v1h-1zM110 80h1v1h-1zM116 80h3v1h-3zM120 80h3v1h-3zM130 80h1v1h-1zM132 80h1v1h-1zM141 80h1v1h-1zM145 80h1v1h-1zM15 81h1v1h-1zM18 81h1v1h-1zM20 81h1v1h-1zM26 81h1v1h-1zM28 81h2v1h-2zM31 81h16v1h-16zM48 81h20v1h-20zM69 81h1v1h-1zM73 81h1v1h-1zM81 81h1v1h-1zM86 81h1v1h-1zM92 81h1v1h-1zM103 81h1v1h-1zM109 81h1v1h-1zM111 81h4v1h-4zM119 81h2v1h-2zM122 81h2v1h-2zM127 81h1v1h-1zM131 81h2v1h-2zM148 81h1v1h-1zM20 82h1v1h-1zM22 82h1v1h-1zM25 82h5v1h-5zM32 82h32v1h-32zM65 82h3v1h-3zM72 82h1v1h-1zM76 82h1v1h-1zM83 82h1v1h-1zM93 82h1v1h-1zM100 82h1v1h-1zM107 82h1v1h-1zM109 82h1v1h-1zM112 82h1v1h-1zM115 82h6v1h-6zM123 82h2v1h-2zM126 82h2v1h-2zM17 83h1v1h-1zM19 83h1v1h-1zM24 83h3v1h-3zM28 83h35v1h-35zM64 83h2v1h-2zM72 83h1v1h-1zM77 83h1v1h-1zM104 83h1v1h-1zM107 83h1v1h-1zM110 83h8v1h-8zM119 83h2v1h-2zM128 83h1v1h-1zM135 83h1v1h-1zM144 83h1v1h-1zM152 83h1v1h-1zM10 84h1v1h-1zM25 84h1v1h-1zM27 84h1v1h-1zM29 84h25v1h-25zM55 84h7v1h-7zM63 84h2v1h-2zM69 84h1v1h-1zM72 84h1v1h-1zM74 84h2v1h-2zM95 84h1v1h-1zM100 84h1v1h-1zM104 84h1v1h-1zM106 84h1v1h-1zM109 84h1v1h-1zM111 84h3v1h-3zM115 84h3v1h-3zM120 84h2v1h-2zM123 84h1v1h-1zM135 84h1v1h-1zM21 85h1v1h-1zM24 85h1v1h-1zM26 85h1v1h-1zM28 85h4v1h-4zM33 85h28v1h-28zM63 85h2v1h-2zM66 85h2v1h-2zM69 85h1v1h-1zM71 85h2v1h-2zM83 85h1v1h-1zM94 85h1v1h-1zM107 85h2v1h-2zM112 85h4v1h-4zM117 85h3v1h-3zM121 85h2v1h-2zM124 85h4v1h-4zM160 85h1v1h-1zM22 86h3v1h-3zM27 86h2v1h-2zM30 86h2v1h-2zM33 86h2v1h-2zM36 86h27v1h-27zM64 86h2v1h-2zM67 86h2v1h-2zM72 86h1v1h-1zM74 86h2v1h-2zM78 86h1v1h-1zM80 86h2v1h-2zM86 86h1v1h-1zM89 86h1v1h-1zM92 86h1v1h-1zM105 86h1v1h-1zM107 86h1v1h-1zM109 86h1v1h-1zM111 86h10v1h-10zM125 86h1v1h-1zM22 87h4v1h-4zM27 87h38v1h-38zM67 87h3v1h-3zM74 87h1v1h-1zM83 87h1v1h-1zM90 87h1v1h-1zM98 87h1v1h-1zM101 87h1v1h-1zM107 87h1v1h-1zM110 87h4v1h-4zM115 87h7v1h-7zM123 87h1v1h-1zM126 87h1v1h-1zM22 88h41v1h-41zM64 88h3v1h-3zM68 88h3v1h-3zM78 88h1v1h-1zM94 88h1v1h-1zM101 88h2v1h-2zM104 88h3v1h-3zM108 88h1v1h-1zM110 88h6v1h-6zM117 88h1v1h-1zM126 88h1v1h-1zM129 88h2v1h-2zM132 88h1v1h-1zM162 88h1v1h-1zM14 89h2v1h-2zM19 89h1v1h-1zM22 89h1v1h-1zM24 89h4v1h-4zM29 89h33v1h-33zM63 89h1v1h-1zM65 89h2v1h-2zM68 89h1v1h-1zM75 89h2v1h-2zM81 89h1v1h-1zM88 89h1v1h-1zM92 89h1v1h-1zM103 89h1v1h-1zM105 89h4v1h-4zM110 89h7v1h-7zM118 89h3v1h-3zM122 89h3v1h-3zM127 89h1v1h-1zM133 89h1v1h-1zM136 89h1v1h-1zM24 90h1v1h-1zM26 90h2v1h-2zM29 90h31v1h-31zM61 90h1v1h-1zM64 90h4v1h-4zM69 90h1v1h-1zM71 90h1v1h-1zM74 90h1v1h-1zM76 90h1v1h-1zM83 90h2v1h-2zM103 90h1v1h-1zM106 90h7v1h-7zM114 90h7v1h-7zM123 90h1v1h-1zM127 90h1v1h-1zM139 90h1v1h-1zM5 91h1v1h-1zM17 91h1v1h-1zM19 91h1v1h-1zM24 91h38v1h-38zM63 91h3v1h-3zM70 91h1v1h-1zM83 91h1v1h-1zM89 91h1v1h-1zM94 91h1v1h-1zM107 91h5v1h-5zM113 91h2v1h-2zM116 91h6v1h-6zM123 91h1v1h-1zM125 91h1v1h-1zM127 91h1v1h-1zM142 91h1v1h-1zM16 92h1v1h-1zM23 92h30v1h-30zM54 92h3v1h-3zM58 92h6v1h-6zM65 92h1v1h-1zM67 92h1v1h-1zM69 92h3v1h-3zM73 92h1v1h-1zM84 92h1v1h-1zM88 92h2v1h-2zM93 92h1v1h-1zM107 92h1v1h-1zM110 92h2v1h-2zM113 92h8v1h-8zM122 92h3v1h-3zM127 92h2v1h-2zM138 92h1v1h-1zM155 92h1v1h-1zM22 93h1v1h-1zM25 93h34v1h-34zM60 93h8v1h-8zM69 93h2v1h-2zM82 93h1v1h-1zM84 93h2v1h-2zM87 93h1v1h-1zM89 93h1v1h-1zM102 93h1v1h-1zM104 93h2v1h-2zM108 93h1v1h-1zM110 93h12v1h-12zM123 93h4v1h-4zM144 93h1v1h-1zM23 94h34v1h-34zM59 94h2v1h-2zM62 94h2v1h-2zM65 94h1v1h-1zM69 94h1v1h-1zM74 94h1v1h-1zM76 94h2v1h-2zM83 94h1v1h-1zM85 94h1v1h-1zM93 94h1v1h-1zM95 94h1v1h-1zM98 94h1v1h-1zM100 94h1v1h-1zM103 94h19v1h-19zM124 94h1v1h-1zM128 94h1v1h-1zM131 94h2v1h-2zM17 95h1v1h-1zM22 95h42v1h-42zM67 95h2v1h-2zM70 95h1v1h-1zM73 95h1v1h-1zM80 95h1v1h-1zM87 95h1v1h-1zM90 95h1v1h-1zM94 95h1v1h-1zM100 95h1v1h-1zM105 95h3v1h-3zM109 95h11v1h-11zM121 95h1v1h-1zM124 95h2v1h-2zM127 95h2v1h-2zM21 96h37v1h-37zM60 96h2v1h-2zM65 96h1v1h-1zM69 96h1v1h-1zM71 96h1v1h-1zM89 96h1v1h-1zM101 96h1v1h-1zM103 96h1v1h-1zM107 96h10v1h-10zM118 96h3v1h-3zM123 96h1v1h-1zM125 96h2v1h-2zM131 96h1v1h-1zM22 97h35v1h-35zM58 97h1v1h-1zM60 97h2v1h-2zM64 97h2v1h-2zM72 97h1v1h-1zM91 97h1v1h-1zM103 97h1v1h-1zM105 97h3v1h-3zM109 97h15v1h-15zM135 97h1v1h-1zM20 98h1v1h-1zM23 98h39v1h-39zM63 98h1v1h-1zM65 98h1v1h-1zM67 98h2v1h-2zM70 98h2v1h-2zM75 98h2v1h-2zM92 98h1v1h-1zM94 98h1v1h-1zM99 98h2v1h-2zM102 98h1v1h-1zM104 98h1v1h-1zM106 98h14v1h-14zM122 98h2v1h-2zM130 98h1v1h-1zM133 98h3v1h-3zM22 99h2v1h-2zM25 99h1v1h-1zM27 99h30v1h-30zM58 99h1v1h-1zM60 99h2v1h-2zM63 99h2v1h-2zM67 99h1v1h-1zM72 99h1v1h-1zM75 99h2v1h-2zM79 99h1v1h-1zM96 99h1v1h-1zM100 99h1v1h-1zM102 99h1v1h-1zM104 99h2v1h-2zM107 99h13v1h-13zM121 99h4v1h-4zM133 99h1v1h-1zM149 99h1v1h-1zM159 99h1v1h-1zM16 100h1v1h-1zM21 100h40v1h-40zM62 100h2v1h-2zM67 100h1v1h-1zM69 100h1v1h-1zM72 100h1v1h-1zM76 100h1v1h-1zM86 100h3v1h-3zM90 100h1v1h-1zM92 100h1v1h-1zM94 100h1v1h-1zM103 100h1v1h-1zM105 100h1v1h-1zM107 100h1v1h-1zM109 100h15v1h-15zM126 100h2v1h-2zM129 100h1v1h-1zM147 100h1v1h-1zM21 101h1v1h-1zM23 101h36v1h-36zM60 101h3v1h-3zM64 101h1v1h-1zM66 101h1v1h-1zM68 101h2v1h-2zM71 101h1v1h-1zM77 101h1v1h-1zM81 101h2v1h-2zM89 101h1v1h-1zM93 101h1v1h-1zM97 101h1v1h-1zM100 101h1v1h-1zM106 101h14v1h-14zM121 101h1v1h-1zM123 101h1v1h-1zM125 101h1v1h-1zM127 101h1v1h-1zM132 101h1v1h-1zM145 101h1v1h-1zM6 102h1v1h-1zM12 102h1v1h-1zM18 102h1v1h-1zM22 102h37v1h-37zM60 102h3v1h-3zM66 102h3v1h-3zM72 102h1v1h-1zM77 102h1v1h-1zM88 102h1v1h-1zM93 102h4v1h-4zM104 102h4v1h-4zM109 102h11v1h-11zM121 102h1v1h-1zM123 102h1v1h-1zM125 102h2v1h-2zM131 102h1v1h-1zM136 102h1v1h-1zM21 103h44v1h-44zM71 103h2v1h-2zM77 103h2v1h-2zM85 103h1v1h-1zM87 103h1v1h-1zM90 103h1v1h-1zM94 103h1v1h-1zM103 103h18v1h-18zM124 103h2v1h-2zM132 103h1v1h-1zM18 104h2v1h-2zM22 104h2v1h-2zM25 104h33v1h-33zM59 104h3v1h-3zM67 104h1v1h-1zM73 104h1v1h-1zM75 104h1v1h-1zM77 104h1v1h-1zM91 104h1v1h-1zM98 104h1v1h-1zM102 104h2v1h-2zM106 104h3v1h-3zM110 104h4v1h-4zM115 104h4v1h-4zM120 104h4v1h-4zM125 104h1v1h-1zM130 104h1v1h-1zM142 104h1v1h-1zM145 104h1v1h-1zM13 105h1v1h-1zM19 105h2v1h-2zM23 105h37v1h-37zM61 105h2v1h-2zM71 105h1v1h-1zM103 105h16v1h-16zM120 105h1v1h-1zM122 105h2v1h-2zM129 105h1v1h-1zM157 105h1v1h-1zM18 106h2v1h-2zM21 106h43v1h-43zM73 106h1v1h-1zM77 106h1v1h-1zM82 106h1v1h-1zM98 106h1v1h-1zM103 106h8v1h-8zM112 106h10v1h-10zM123 106h2v1h-2zM126 106h1v1h-1zM135 106h2v1h-2zM15 107h1v1h-1zM17 107h1v1h-1zM21 107h1v1h-1zM23 107h36v1h-36zM60 107h3v1h-3zM64 107h1v1h-1zM66 107h1v1h-1zM68 107h1v1h-1zM76 107h1v1h-1zM79 107h1v1h-1zM91 107h1v1h-1zM98 107h1v1h-1zM101 107h2v1h-2zM104 107h6v1h-6zM111 107h6v1h-6zM118 107h6v1h-6zM125 107h2v1h-2zM128 107h1v1h-1zM131 107h1v1h-1zM16 108h1v1h-1zM21 108h40v1h-40zM63 108h1v1h-1zM65 108h1v1h-1zM73 108h1v1h-1zM78 108h1v1h-1zM80 108h2v1h-2zM83 108h1v1h-1zM85 108h1v1h-1zM87 108h1v1h-1zM98 108h1v1h-1zM100 108h1v1h-1zM103 108h1v1h-1zM107 108h14v1h-14zM122 108h1v1h-1zM124 108h1v1h-1zM126 108h1v1h-1zM16 109h1v1h-1zM18 109h1v1h-1zM20 109h40v1h-40zM61 109h1v1h-1zM63 109h2v1h-2zM67 109h1v1h-1zM74 109h2v1h-2zM82 109h1v1h-1zM84 109h1v1h-1zM89 109h1v1h-1zM91 109h2v1h-2zM95 109h1v1h-1zM97 109h1v1h-1zM100 109h3v1h-3zM104 109h1v1h-1zM106 109h15v1h-15zM127 109h1v1h-1zM129 109h2v1h-2zM135 109h1v1h-1zM142 109h1v1h-1zM18 110h1v1h-1zM20 110h40v1h-40zM61 110h1v1h-1zM64 110h2v1h-2zM71 110h1v1h-1zM83 110h1v1h-1zM95 110h2v1h-2zM102 110h1v1h-1zM104 110h1v1h-1zM106 110h1v1h-1zM108 110h12v1h-12zM121 110h3v1h-3zM125 110h4v1h-4zM133 110h1v1h-1zM17 111h1v1h-1zM22 111h35v1h-35zM59 111h2v1h-2zM62 111h1v1h-1zM65 111h1v1h-1zM77 111h1v1h-1zM79 111h2v1h-2zM90 111h2v1h-2zM95 111h1v1h-1zM101 111h1v1h-1zM104 111h1v1h-1zM106 111h14v1h-14zM129 111h1v1h-1zM132 111h3v1h-3zM7 112h1v1h-1zM11 112h1v1h-1zM17 112h2v1h-2zM20 112h1v1h-1zM22 112h3v1h-3zM26 112h33v1h-33zM61 112h1v1h-1zM63 112h2v1h-2zM72 112h1v1h-1zM79 112h1v1h-1zM85 112h1v1h-1zM88 112h1v1h-1zM90 112h1v1h-1zM95 112h1v1h-1zM102 112h2v1h-2zM105 112h4v1h-4zM110 112h2v1h-2zM113 112h6v1h-6zM120 112h2v1h-2zM123 112h1v1h-1zM125 112h1v1h-1zM135 112h1v1h-1zM149 112h1v1h-1zM151 112h1v1h-1zM19 113h1v1h-1zM21 113h38v1h-38zM61 113h1v1h-1zM65 113h1v1h-1zM71 113h3v1h-3zM77 113h1v1h-1zM80 113h3v1h-3zM91 113h1v1h-1zM94 113h1v1h-1zM101 113h1v1h-1zM104 113h2v1h-2zM107 113h2v1h-2zM111 113h3v1h-3zM115 113h8v1h-8zM125 113h3v1h-3zM133 113h1v1h-1zM137 113h1v1h-1zM18 114h42v1h-42zM62 114h1v1h-1zM70 114h1v1h-1zM76 114h1v1h-1zM98 114h1v1h-1zM100 114h20v1h-20zM121 114h2v1h-2zM125 114h1v1h-1zM128 114h1v1h-1zM130 114h1v1h-1zM136 114h1v1h-1zM139 114h1v1h-1zM145 114h1v1h-1zM16 115h1v1h-1zM18 115h1v1h-1zM23 115h34v1h-34zM59 115h4v1h-4zM65 115h1v1h-1zM76 115h1v1h-1zM84 115h1v1h-1zM87 115h1v1h-1zM89 115h1v1h-1zM92 115h1v1h-1zM97 115h2v1h-2zM104 115h2v1h-2zM108 115h11v1h-11zM120 115h2v1h-2zM123 115h2v1h-2zM127 115h3v1h-3zM19 116h40v1h-40zM60 116h1v1h-1zM64 116h1v1h-1zM69 116h1v1h-1zM72 116h1v1h-1zM75 116h2v1h-2zM80 116h1v1h-1zM94 116h1v1h-1zM96 116h3v1h-3zM101 116h2v1h-2zM104 116h1v1h-1zM106 116h5v1h-5zM113 116h3v1h-3zM117 116h4v1h-4zM122 116h1v1h-1zM124 116h1v1h-1zM126 116h1v1h-1zM134 116h2v1h-2zM18 117h2v1h-2zM21 117h40v1h-40zM62 117h1v1h-1zM68 117h1v1h-1zM74 117h3v1h-3zM78 117h1v1h-1zM80 117h1v1h-1zM83 117h2v1h-2zM89 117h1v1h-1zM91 117h1v1h-1zM99 117h1v1h-1zM101 117h1v1h-1zM103 117h1v1h-1zM106 117h4v1h-4zM111 117h6v1h-6zM119 117h2v1h-2zM124 117h5v1h-5zM135 117h2v1h-2zM153 117h1v1h-1zM12 118h1v1h-1zM17 118h1v1h-1zM19 118h35v1h-35zM55 118h4v1h-4zM62 118h1v1h-1zM64 118h1v1h-1zM68 118h1v1h-1zM71 118h1v1h-1zM74 118h1v1h-1zM76 118h2v1h-2zM85 118h3v1h-3zM92 118h1v1h-1zM95 118h1v1h-1zM101 118h1v1h-1zM103 118h2v1h-2zM106 118h5v1h-5zM112 118h11v1h-11zM124 118h1v1h-1zM128 118h1v1h-1zM133 118h1v1h-1zM137 118h2v1h-2zM140 118h1v1h-1zM18 119h1v1h-1zM20 119h38v1h-38zM59 119h2v1h-2zM70 119h2v1h-2zM82 119h1v1h-1zM88 119h1v1h-1zM90 119h2v1h-2zM95 119h1v1h-1zM105 119h7v1h-7zM113 119h4v1h-4zM118 119h4v1h-4zM123 119h1v1h-1zM125 119h2v1h-2zM129 119h1v1h-1zM131 119h1v1h-1zM136 119h1v1h-1zM146 119h1v1h-1zM11 120h1v1h-1zM13 120h1v1h-1zM16 120h3v1h-3zM20 120h3v1h-3zM24 120h39v1h-39zM66 120h2v1h-2zM70 120h1v1h-1zM72 120h1v1h-1zM78 120h1v1h-1zM94 120h1v1h-1zM97 120h1v1h-1zM101 120h1v1h-1zM104 120h11v1h-11zM116 120h3v1h-3zM120 120h4v1h-4zM125 120h1v1h-1zM128 120h3v1h-3zM138 120h1v1h-1zM12 121h1v1h-1zM15 121h1v1h-1zM18 121h41v1h-41zM60 121h5v1h-5zM66 121h1v1h-1zM69 121h1v1h-1zM72 121h1v1h-1zM74 121h1v1h-1zM77 121h1v1h-1zM82 121h1v1h-1zM89 121h1v1h-1zM94 121h1v1h-1zM96 121h2v1h-2zM103 121h4v1h-4zM108 121h9v1h-9zM120 121h5v1h-5zM126 121h1v1h-1zM130 121h2v1h-2zM134 121h1v1h-1zM136 121h1v1h-1zM17 122h39v1h-39zM57 122h4v1h-4zM63 122h3v1h-3zM81 122h1v1h-1zM86 122h1v1h-1zM92 122h1v1h-1zM97 122h1v1h-1zM99 122h1v1h-1zM102 122h2v1h-2zM105 122h8v1h-8zM114 122h2v1h-2zM117 122h4v1h-4zM124 122h3v1h-3zM128 122h1v1h-1zM131 122h1v1h-1zM135 122h5v1h-5zM17 123h4v1h-4zM22 123h36v1h-36zM60 123h1v1h-1zM62 123h4v1h-4zM76 123h1v1h-1zM85 123h1v1h-1zM89 123h1v1h-1zM97 123h1v1h-1zM99 123h1v1h-1zM102 123h1v1h-1zM104 123h3v1h-3zM108 123h2v1h-2zM111 123h8v1h-8zM121 123h4v1h-4zM127 123h1v1h-1zM130 123h1v1h-1zM133 123h1v1h-1zM19 124h41v1h-41zM63 124h1v1h-1zM65 124h1v1h-1zM67 124h1v1h-1zM69 124h1v1h-1zM73 124h1v1h-1zM77 124h1v1h-1zM79 124h1v1h-1zM81 124h1v1h-1zM91 124h3v1h-3zM95 124h1v1h-1zM97 124h1v1h-1zM100 124h1v1h-1zM102 124h1v1h-1zM105 124h14v1h-14zM120 124h1v1h-1zM122 124h2v1h-2zM126 124h1v1h-1zM128 124h1v1h-1zM130 124h1v1h-1zM132 124h3v1h-3zM140 124h1v1h-1zM15 125h1v1h-1zM17 125h41v1h-41zM59 125h1v1h-1zM72 125h1v1h-1zM80 125h2v1h-2zM83 125h1v1h-1zM91 125h1v1h-1zM95 125h1v1h-1zM97 125h3v1h-3zM101 125h1v1h-1zM103 125h2v1h-2zM108 125h4v1h-4zM113 125h1v1h-1zM115 125h2v1h-2zM118 125h6v1h-6zM125 125h1v1h-1zM127 125h2v1h-2zM131 125h1v1h-1zM134 125h1v1h-1zM142 125h1v1h-1zM146 125h1v1h-1zM156 125h1v1h-1zM11 126h2v1h-2zM15 126h4v1h-4zM20 126h36v1h-36zM57 126h7v1h-7zM65 126h1v1h-1zM68 126h1v1h-1zM71 126h1v1h-1zM78 126h1v1h-1zM80 126h1v1h-1zM85 126h1v1h-1zM88 126h1v1h-1zM91 126h1v1h-1zM94 126h1v1h-1zM96 126h1v1h-1zM98 126h1v1h-1zM101 126h1v1h-1zM103 126h2v1h-2zM106 126h2v1h-2zM110 126h5v1h-5zM119 126h1v1h-1zM122 126h1v1h-1zM124 126h1v1h-1zM126 126h1v1h-1zM128 126h5v1h-5zM137 126h2v1h-2zM143 126h1v1h-1zM153 126h1v1h-1zM13 127h1v1h-1zM16 127h2v1h-2zM20 127h41v1h-41zM62 127h1v1h-1zM70 127h2v1h-2zM77 127h1v1h-1zM80 127h1v1h-1zM83 127h1v1h-1zM86 127h1v1h-1zM88 127h2v1h-2zM94 127h1v1h-1zM96 127h1v1h-1zM99 127h4v1h-4zM104 127h6v1h-6zM111 127h8v1h-8zM120 127h1v1h-1zM122 127h1v1h-1zM124 127h7v1h-7zM133 127h1v1h-1zM135 127h3v1h-3zM14 128h1v1h-1zM18 128h35v1h-35zM54 128h2v1h-2zM57 128h6v1h-6zM65 128h1v1h-1zM89 128h1v1h-1zM96 128h1v1h-1zM100 128h1v1h-1zM102 128h3v1h-3zM106 128h1v1h-1zM108 128h1v1h-1zM110 128h3v1h-3zM115 128h5v1h-5zM121 128h3v1h-3zM125 128h1v1h-1zM127 128h1v1h-1zM131 128h1v1h-1zM133 128h3v1h-3zM137 128h1v1h-1zM15 129h1v1h-1zM18 129h37v1h-37zM58 129h2v1h-2zM61 129h4v1h-4zM66 129h1v1h-1zM69 129h1v1h-1zM75 129h1v1h-1zM78 129h3v1h-3zM94 129h2v1h-2zM97 129h3v1h-3zM102 129h5v1h-5zM108 129h3v1h-3zM112 129h6v1h-6zM119 129h4v1h-4zM124 129h1v1h-1zM127 129h2v1h-2zM130 129h1v1h-1zM135 129h2v1h-2zM145 129h1v1h-1zM16 130h1v1h-1zM18 130h43v1h-43zM63 130h1v1h-1zM67 130h1v1h-1zM72 130h1v1h-1zM76 130h1v1h-1zM78 130h1v1h-1zM82 130h1v1h-1zM84 130h2v1h-2zM87 130h1v1h-1zM90 130h1v1h-1zM92 130h2v1h-2zM98 130h2v1h-2zM102 130h4v1h-4zM109 130h1v1h-1zM111 130h5v1h-5zM117 130h6v1h-6zM125 130h2v1h-2zM129 130h1v1h-1zM131 130h4v1h-4zM136 130h2v1h-2zM139 130h1v1h-1zM141 130h1v1h-1zM19 131h38v1h-38zM61 131h1v1h-1zM64 131h1v1h-1zM69 131h4v1h-4zM78 131h1v1h-1zM90 131h1v1h-1zM96 131h1v1h-1zM100 131h1v1h-1zM103 131h6v1h-6zM110 131h3v1h-3zM114 131h2v1h-2zM117 131h6v1h-6zM125 131h3v1h-3zM130 131h1v1h-1zM136 131h1v1h-1zM141 131h1v1h-1zM15 132h1v1h-1zM18 132h39v1h-39zM61 132h1v1h-1zM66 132h1v1h-1zM75 132h1v1h-1zM81 132h2v1h-2zM84 132h1v1h-1zM90 132h1v1h-1zM92 132h1v1h-1zM95 132h1v1h-1zM100 132h2v1h-2zM107 132h1v1h-1zM109 132h4v1h-4zM115 132h1v1h-1zM119 132h1v1h-1zM122 132h1v1h-1zM124 132h3v1h-3zM128 132h2v1h-2zM132 132h2v1h-2zM136 132h2v1h-2zM139 132h1v1h-1zM16 133h2v1h-2zM20 133h39v1h-39zM60 133h1v1h-1zM62 133h1v1h-1zM69 133h1v1h-1zM71 133h1v1h-1zM76 133h1v1h-1zM78 133h1v1h-1zM81 133h1v1h-1zM85 133h1v1h-1zM87 133h1v1h-1zM93 133h1v1h-1zM95 133h1v1h-1zM97 133h1v1h-1zM99 133h2v1h-2zM102 133h4v1h-4zM107 133h5v1h-5zM114 133h2v1h-2zM118 133h3v1h-3zM124 133h6v1h-6zM131 133h2v1h-2zM134 133h2v1h-2zM137 133h1v1h-1zM139 133h1v1h-1zM147 133h1v1h-1zM17 134h1v1h-1zM19 134h38v1h-38zM58 134h4v1h-4zM63 134h2v1h-2zM70 134h1v1h-1zM72 134h3v1h-3zM78 134h1v1h-1zM85 134h2v1h-2zM100 134h2v1h-2zM103 134h2v1h-2zM109 134h2v1h-2zM113 134h1v1h-1zM115 134h1v1h-1zM119 134h4v1h-4zM125 134h1v1h-1zM127 134h2v1h-2zM132 134h1v1h-1zM135 134h2v1h-2zM140 134h1v1h-1zM144 134h1v1h-1zM15 135h1v1h-1zM18 135h39v1h-39zM58 135h2v1h-2zM64 135h3v1h-3zM69 135h1v1h-1zM72 135h3v1h-3zM79 135h2v1h-2zM90 135h3v1h-3zM99 135h3v1h-3zM103 135h3v1h-3zM108 135h1v1h-1zM112 135h1v1h-1zM114 135h2v1h-2zM117 135h4v1h-4zM123 135h1v1h-1zM125 135h2v1h-2zM128 135h3v1h-3zM132 135h2v1h-2zM135 135h3v1h-3zM140 135h1v1h-1zM150 135h1v1h-1zM16 136h1v1h-1zM19 136h1v1h-1zM21 136h35v1h-35zM57 136h3v1h-3zM61 136h2v1h-2zM70 136h1v1h-1zM79 136h1v1h-1zM82 136h3v1h-3zM98 136h1v1h-1zM101 136h3v1h-3zM105 136h1v1h-1zM108 136h3v1h-3zM112 136h12v1h-12zM125 136h2v1h-2zM128 136h2v1h-2zM133 136h2v1h-2zM137 136h1v1h-1zM141 136h2v1h-2zM147 136h1v1h-1zM13 137h1v1h-1zM15 137h2v1h-2zM19 137h40v1h-40zM64 137h2v1h-2zM72 137h2v1h-2zM80 137h3v1h-3zM89 137h1v1h-1zM96 137h7v1h-7zM105 137h2v1h-2zM111 137h8v1h-8zM120 137h2v1h-2zM124 137h5v1h-5zM131 137h3v1h-3zM137 137h1v1h-1zM144 137h1v1h-1zM148 137h1v1h-1zM16 138h1v1h-1zM19 138h39v1h-39zM60 138h6v1h-6zM77 138h1v1h-1zM83 138h3v1h-3zM93 138h1v1h-1zM97 138h5v1h-5zM105 138h11v1h-11zM117 138h1v1h-1zM119 138h4v1h-4zM125 138h2v1h-2zM129 138h3v1h-3zM134 138h1v1h-1zM136 138h3v1h-3zM144 138h2v1h-2zM17 139h3v1h-3zM21 139h37v1h-37zM67 139h1v1h-1zM74 139h1v1h-1zM77 139h1v1h-1zM82 139h1v1h-1zM86 139h1v1h-1zM91 139h1v1h-1zM94 139h1v1h-1zM101 139h1v1h-1zM103 139h1v1h-1zM105 139h7v1h-7zM114 139h1v1h-1zM117 139h1v1h-1zM119 139h5v1h-5zM126 139h1v1h-1zM128 139h1v1h-1zM130 139h2v1h-2zM133 139h1v1h-1zM135 139h2v1h-2zM143 139h1v1h-1zM13 140h3v1h-3zM19 140h35v1h-35zM55 140h3v1h-3zM60 140h2v1h-2zM66 140h2v1h-2zM72 140h1v1h-1zM88 140h1v1h-1zM91 140h2v1h-2zM97 140h1v1h-1zM99 140h1v1h-1zM102 140h1v1h-1zM104 140h1v1h-1zM108 140h1v1h-1zM110 140h1v1h-1zM112 140h4v1h-4zM117 140h3v1h-3zM122 140h1v1h-1zM124 140h4v1h-4zM130 140h2v1h-2zM133 140h1v1h-1zM136 140h1v1h-1zM142 140h1v1h-1zM15 141h1v1h-1zM19 141h34v1h-34zM54 141h1v1h-1zM56 141h1v1h-1zM59 141h2v1h-2zM64 141h1v1h-1zM70 141h1v1h-1zM81 141h1v1h-1zM83 141h1v1h-1zM90 141h1v1h-1zM92 141h1v1h-1zM96 141h2v1h-2zM104 141h3v1h-3zM109 141h8v1h-8zM118 141h5v1h-5zM125 141h1v1h-1zM127 141h4v1h-4zM132 141h3v1h-3zM138 141h1v1h-1zM17 142h1v1h-1zM19 142h37v1h-37zM59 142h1v1h-1zM68 142h2v1h-2zM86 142h1v1h-1zM91 142h1v1h-1zM97 142h1v1h-1zM99 142h1v1h-1zM104 142h5v1h-5zM110 142h1v1h-1zM112 142h3v1h-3zM116 142h3v1h-3zM123 142h2v1h-2zM126 142h1v1h-1zM129 142h8v1h-8zM141 142h1v1h-1zM151 142h1v1h-1zM20 143h38v1h-38zM59 143h1v1h-1zM68 143h1v1h-1zM85 143h1v1h-1zM94 143h1v1h-1zM98 143h2v1h-2zM102 143h8v1h-8zM113 143h5v1h-5zM119 143h2v1h-2zM122 143h2v1h-2zM125 143h3v1h-3zM130 143h3v1h-3zM134 143h1v1h-1zM140 143h1v1h-1zM142 143h1v1h-1zM147 143h1v1h-1zM17 144h2v1h-2zM20 144h33v1h-33zM54 144h1v1h-1zM57 144h3v1h-3zM61 144h1v1h-1zM63 144h1v1h-1zM65 144h1v1h-1zM68 144h1v1h-1zM74 144h1v1h-1zM83 144h1v1h-1zM85 144h1v1h-1zM95 144h1v1h-1zM98 144h3v1h-3zM102 144h1v1h-1zM106 144h1v1h-1zM109 144h1v1h-1zM111 144h1v1h-1zM113 144h4v1h-4zM118 144h1v1h-1zM120 144h3v1h-3zM124 144h6v1h-6zM131 144h6v1h-6zM138 144h1v1h-1zM140 144h2v1h-2zM145 144h1v1h-1zM17 145h39v1h-39zM57 145h1v1h-1zM62 145h2v1h-2zM69 145h1v1h-1zM72 145h3v1h-3zM84 145h1v1h-1zM91 145h1v1h-1zM95 145h1v1h-1zM98 145h1v1h-1zM100 145h5v1h-5zM106 145h1v1h-1zM108 145h3v1h-3zM112 145h2v1h-2zM118 145h1v1h-1zM122 145h2v1h-2zM126 145h2v1h-2zM135 145h1v1h-1zM16 146h2v1h-2zM19 146h34v1h-34zM55 146h1v1h-1zM57 146h2v1h-2zM62 146h1v1h-1zM66 146h2v1h-2zM69 146h1v1h-1zM72 146h1v1h-1zM80 146h3v1h-3zM87 146h2v1h-2zM97 146h2v1h-2zM102 146h1v1h-1zM104 146h1v1h-1zM106 146h1v1h-1zM110 146h2v1h-2zM113 146h4v1h-4zM119 146h7v1h-7zM128 146h2v1h-2zM131 146h2v1h-2zM137 146h1v1h-1zM140 146h3v1h-3zM13 147h1v1h-1zM17 147h1v1h-1zM19 147h36v1h-36zM56 147h1v1h-1zM58 147h1v1h-1zM61 147h2v1h-2zM64 147h2v1h-2zM69 147h3v1h-3zM81 147h1v1h-1zM92 147h2v1h-2zM98 147h1v1h-1zM107 147h3v1h-3zM111 147h1v1h-1zM113 147h1v1h-1zM115 147h2v1h-2zM118 147h4v1h-4zM123 147h3v1h-3zM127 147h1v1h-1zM131 147h2v1h-2zM138 147h1v1h-1zM142 147h1v1h-1zM19 148h35v1h-35zM55 148h1v1h-1zM57 148h2v1h-2zM67 148h1v1h-1zM76 148h1v1h-1zM78 148h1v1h-1zM80 148h1v1h-1zM90 148h1v1h-1zM92 148h1v1h-1zM94 148h1v1h-1zM97 148h1v1h-1zM99 148h1v1h-1zM102 148h11v1h-11zM114 148h4v1h-4zM126 148h1v1h-1zM133 148h1v1h-1zM147 148h1v1h-1zM18 149h34v1h-34zM53 149h2v1h-2zM56 149h1v1h-1zM75 149h1v1h-1zM81 149h1v1h-1zM88 149h1v1h-1zM99 149h1v1h-1zM101 149h2v1h-2zM104 149h1v1h-1zM106 149h2v1h-2zM115 149h3v1h-3zM120 149h1v1h-1zM124 149h2v1h-2zM127 149h1v1h-1zM129 149h2v1h-2zM134 149h2v1h-2zM138 149h1v1h-1zM146 149h1v1h-1zM14 150h1v1h-1zM16 150h1v1h-1zM19 150h2v1h-2zM22 150h34v1h-34zM72 150h1v1h-1zM76 150h1v1h-1zM82 150h1v1h-1zM92 150h1v1h-1zM95 150h2v1h-2zM98 150h1v1h-1zM104 150h1v1h-1zM107 150h2v1h-2zM110 150h2v1h-2zM115 150h2v1h-2zM118 150h2v1h-2zM123 150h1v1h-1zM126 150h2v1h-2zM129 150h2v1h-2zM133 150h2v1h-2zM139 150h1v1h-1zM145 150h1v1h-1zM17 151h3v1h-3zM21 151h29v1h-29zM51 151h1v1h-1zM54 151h1v1h-1zM57 151h2v1h-2zM60 151h1v1h-1zM63 151h3v1h-3zM70 151h1v1h-1zM74 151h1v1h-1zM76 151h1v1h-1zM87 151h1v1h-1zM94 151h1v1h-1zM98 151h2v1h-2zM108 151h1v1h-1zM110 151h1v1h-1zM113 151h4v1h-4zM118 151h1v1h-1zM122 151h2v1h-2zM128 151h1v1h-1zM132 151h1v1h-1zM138 151h1v1h-1zM17 152h2v1h-2zM21 152h4v1h-4zM26 152h19v1h-19zM46 152h7v1h-7zM63 152h1v1h-1zM69 152h1v1h-1zM71 152h1v1h-1zM76 152h1v1h-1zM95 152h1v1h-1zM111 152h2v1h-2zM114 152h1v1h-1zM117 152h1v1h-1zM120 152h2v1h-2zM123 152h2v1h-2zM126 152h3v1h-3zM132 152h1v1h-1zM134 152h2v1h-2zM139 152h1v1h-1zM16 153h2v1h-2zM20 153h4v1h-4zM25 153h26v1h-26zM55 153h2v1h-2zM62 153h1v1h-1zM64 153h2v1h-2zM68 153h1v1h-1zM72 153h1v1h-1zM78 153h1v1h-1zM86 153h1v1h-1zM94 153h1v1h-1zM105 153h1v1h-1zM107 153h1v1h-1zM109 153h1v1h-1zM113 153h3v1h-3zM119 153h2v1h-2zM122 153h2v1h-2zM126 153h1v1h-1zM129 153h2v1h-2zM132 153h1v1h-1zM134 153h1v1h-1zM138 153h1v1h-1zM155 153h1v1h-1zM21 154h27v1h-27zM49 154h2v1h-2zM52 154h2v1h-2zM86 154h1v1h-1zM89 154h1v1h-1zM94 154h1v1h-1zM103 154h1v1h-1zM109 154h2v1h-2zM112 154h1v1h-1zM115 154h1v1h-1zM119 154h3v1h-3zM125 154h1v1h-1zM131 154h1v1h-1zM134 154h1v1h-1zM137 154h1v1h-1zM17 155h1v1h-1zM23 155h8v1h-8zM32 155h17v1h-17zM50 155h3v1h-3zM58 155h1v1h-1zM61 155h1v1h-1zM64 155h1v1h-1zM77 155h1v1h-1zM79 155h1v1h-1zM83 155h1v1h-1zM86 155h1v1h-1zM92 155h1v1h-1zM98 155h2v1h-2zM103 155h1v1h-1zM105 155h4v1h-4zM110 155h1v1h-1zM114 155h1v1h-1zM116 155h1v1h-1zM118 155h3v1h-3zM123 155h1v1h-1zM133 155h1v1h-1zM137 155h1v1h-1zM17 156h2v1h-2zM21 156h4v1h-4zM26 156h19v1h-19zM46 156h7v1h-7zM56 156h2v1h-2zM71 156h1v1h-1zM79 156h1v1h-1zM83 156h1v1h-1zM90 156h1v1h-1zM101 156h2v1h-2zM104 156h1v1h-1zM111 156h1v1h-1zM119 156h2v1h-2zM125 156h1v1h-1zM128 156h1v1h-1zM130 156h2v1h-2zM134 156h1v1h-1zM15 157h1v1h-1zM17 157h2v1h-2zM21 157h2v1h-2zM24 157h27v1h-27zM53 157h1v1h-1zM58 157h1v1h-1zM62 157h1v1h-1zM67 157h1v1h-1zM74 157h1v1h-1zM77 157h1v1h-1zM84 157h1v1h-1zM86 157h1v1h-1zM98 157h2v1h-2zM103 157h2v1h-2zM114 157h3v1h-3zM123 157h1v1h-1zM21 158h1v1h-1zM23 158h1v1h-1zM26 158h16v1h-16zM43 158h7v1h-7zM52 158h1v1h-1zM54 158h1v1h-1zM62 158h1v1h-1zM66 158h1v1h-1zM71 158h2v1h-2zM76 158h1v1h-1zM89 158h1v1h-1zM100 158h1v1h-1zM102 158h1v1h-1zM104 158h1v1h-1zM111 158h4v1h-4zM123 158h1v1h-1zM128 158h1v1h-1zM22 159h31v1h-31zM55 159h1v1h-1zM57 159h1v1h-1zM61 159h1v1h-1zM64 159h1v1h-1zM70 159h2v1h-2zM73 159h1v1h-1zM76 159h1v1h-1zM80 159h1v1h-1zM91 159h1v1h-1zM101 159h1v1h-1zM104 159h1v1h-1zM107 159h1v1h-1zM109 159h1v1h-1zM111 159h1v1h-1zM17 160h1v1h-1zM19 160h2v1h-2zM22 160h1v1h-1zM25 160h1v1h-1zM27 160h1v1h-1zM29 160h10v1h-10zM41 160h5v1h-5zM47 160h7v1h-7zM56 160h1v1h-1zM67 160h1v1h-1zM74 160h1v1h-1zM95 160h1v1h-1zM106 160h2v1h-2zM110 160h2v1h-2zM116 160h1v1h-1zM120 160h1v1h-1zM125 160h1v1h-1zM127 160h1v1h-1zM16 161h1v1h-1zM20 161h2v1h-2zM25 161h4v1h-4zM30 161h7v1h-7zM38 161h7v1h-7zM49 161h1v1h-1zM57 161h1v1h-1zM71 161h2v1h-2zM114 161h1v1h-1zM116 161h1v1h-1zM130 161h1v1h-1zM19 162h1v1h-1zM22 162h1v1h-1zM24 162h3v1h-3zM28 162h19v1h-19zM49 162h1v1h-1zM51 162h1v1h-1zM66 162h1v1h-1zM70 162h1v1h-1zM82 162h1v1h-1zM116 162h1v1h-1zM123 162h2v1h-2zM127 162h1v1h-1zM129 162h1v1h-1zM142 162h1v1h-1zM19 163h1v1h-1zM21 163h1v1h-1zM23 163h10v1h-10zM34 163h5v1h-5zM40 163h5v1h-5zM46 163h2v1h-2zM49 163h2v1h-2zM52 163h1v1h-1zM55 163h1v1h-1zM59 163h2v1h-2zM64 163h1v1h-1zM71 163h1v1h-1zM74 163h1v1h-1zM80 163h1v1h-1zM89 163h1v1h-1zM96 163h1v1h-1zM100 163h1v1h-1zM107 163h1v1h-1zM117 163h1v1h-1zM122 163h1v1h-1zM124 163h1v1h-1zM133 163h1v1h-1zM19 164h5v1h-5zM27 164h5v1h-5zM33 164h11v1h-11zM45 164h2v1h-2zM52 164h2v1h-2zM57 164h1v1h-1zM62 164h1v1h-1zM65 164h1v1h-1zM91 164h1v1h-1zM119 164h1v1h-1zM127 164h1v1h-1zM13 165h1v1h-1zM20 165h1v1h-1zM24 165h1v1h-1zM26 165h2v1h-2zM29 165h14v1h-14zM44 165h3v1h-3zM49 165h2v1h-2zM56 165h1v1h-1zM67 165h1v1h-1zM117 165h1v1h-1zM125 165h1v1h-1zM129 165h1v1h-1zM16 166h1v1h-1zM22 166h1v1h-1zM25 166h11v1h-11zM37 166h4v1h-4zM43 166h4v1h-4zM49 166h1v1h-1zM51 166h1v1h-1zM53 166h1v1h-1zM109 166h1v1h-1z" fill="#000" stroke="none" transform="translate(41.3,23.3) scale(0.75)"/></g>
<rect x="41.30" y="23.30" width="126.90" height="125.70" fill="none" stroke="#444" stroke-width="1"/>
<line x1="99.50" y1="23.30" x2="99.50" y2="149.00" stroke="#666" stroke-width="0.9" />
<line x1="41.30" y1="92.00" x2="168.20" y2="92.00" stroke="#666" stroke-width="0.9" />
<text x="152.40" y="34.40" font-size="9.4" text-anchor="start" fill="#000" textLength="12.20" lengthAdjust="spacingAndGlyphs" >2.1</text>
<line x1="38.30" y1="35.20" x2="41.30" y2="35.20" stroke="#222" stroke-width="1.0" />
<text x="29.80" y="37.20" font-size="9.6" text-anchor="middle" textLength="9.80" lengthAdjust="spacingAndGlyphs">10<tspan font-size="6.91" dy="-3.4">5</tspan></text>
<line x1="38.30" y1="62.60" x2="41.30" y2="62.60" stroke="#222" stroke-width="1.0" />
<text x="29.80" y="64.60" font-size="9.6" text-anchor="middle" textLength="9.80" lengthAdjust="spacingAndGlyphs">10<tspan font-size="6.91" dy="-3.4">4</tspan></text>
<line x1="38.30" y1="92.20" x2="41.30" y2="92.20" stroke="#222" stroke-width="1.0" />
<text x="29.80" y="94.20" font-size="9.6" text-anchor="middle" textLength="9.80" lengthAdjust="spacingAndGlyphs">10<tspan font-size="6.91" dy="-3.4">3</tspan></text>
<line x1="38.30" y1="122.80" x2="41.30" y2="122.80" stroke="#222" stroke-width="1.0" />
<text x="29.80" y="124.80" font-size="9.6" text-anchor="middle" textLength="9.80" lengthAdjust="spacingAndGlyphs">10<tspan font-size="6.91" dy="-3.4">2</tspan></text>
<text x="31.80" y="139.80" font-size="9.6" text-anchor="middle" fill="#000" textLength="4.80" lengthAdjust="spacingAndGlyphs" >0</text>
<line x1="38.30" y1="137.00" x2="41.30" y2="137.00" stroke="#222" stroke-width="1.0" />
<line x1="39.70" y1="113.59" x2="41.30" y2="113.59" stroke="#333" stroke-width="0.8" />
<line x1="39.70" y1="108.20" x2="41.30" y2="108.20" stroke="#333" stroke-width="0.8" />
<line x1="39.70" y1="104.38" x2="41.30" y2="104.38" stroke="#333" stroke-width="0.8" />
<line x1="39.70" y1="101.41" x2="41.30" y2="101.41" stroke="#333" stroke-width="0.8" />
<line x1="39.70" y1="98.99" x2="41.30" y2="98.99" stroke="#333" stroke-width="0.8" />
<line x1="39.70" y1="96.94" x2="41.30" y2="96.94" stroke="#333" stroke-width="0.8" />
<line x1="39.70" y1="95.17" x2="41.30" y2="95.17" stroke="#333" stroke-width="0.8" />
<line x1="39.70" y1="93.60" x2="41.30" y2="93.60" stroke="#333" stroke-width="0.8" />
<line x1="39.70" y1="83.29" x2="41.30" y2="83.29" stroke="#333" stroke-width="0.8" />
<line x1="39.70" y1="78.08" x2="41.30" y2="78.08" stroke="#333" stroke-width="0.8" />
<line x1="39.70" y1="74.38" x2="41.30" y2="74.38" stroke="#333" stroke-width="0.8" />
<line x1="39.70" y1="71.51" x2="41.30" y2="71.51" stroke="#333" stroke-width="0.8" />
<line x1="39.70" y1="69.17" x2="41.30" y2="69.17" stroke="#333" stroke-width="0.8" />
<line x1="39.70" y1="67.19" x2="41.30" y2="67.19" stroke="#333" stroke-width="0.8" />
<line x1="39.70" y1="65.47" x2="41.30" y2="65.47" stroke="#333" stroke-width="0.8" />
<line x1="39.70" y1="63.95" x2="41.30" y2="63.95" stroke="#333" stroke-width="0.8" />
<line x1="39.70" y1="54.35" x2="41.30" y2="54.35" stroke="#333" stroke-width="0.8" />
<line x1="39.70" y1="49.53" x2="41.30" y2="49.53" stroke="#333" stroke-width="0.8" />
<line x1="39.70" y1="46.10" x2="41.30" y2="46.10" stroke="#333" stroke-width="0.8" />
<line x1="39.70" y1="43.45" x2="41.30" y2="43.45" stroke="#333" stroke-width="0.8" />
<line x1="39.70" y1="41.28" x2="41.30" y2="41.28" stroke="#333" stroke-width="0.8" />
<line x1="39.70" y1="39.44" x2="41.30" y2="39.44" stroke="#333" stroke-width="0.8" />
<line x1="39.70" y1="37.86" x2="41.30" y2="37.86" stroke="#333" stroke-width="0.8" />
<line x1="39.70" y1="36.45" x2="41.30" y2="36.45" stroke="#333" stroke-width="0.8" />
<line x1="39.70" y1="126.00" x2="41.30" y2="126.00" stroke="#333" stroke-width="0.8" />
<line x1="39.70" y1="128.60" x2="41.30" y2="128.60" stroke="#333" stroke-width="0.8" />
<line x1="39.70" y1="131.00" x2="41.30" y2="131.00" stroke="#333" stroke-width="0.8" />
<line x1="39.70" y1="133.00" x2="41.30" y2="133.00" stroke="#333" stroke-width="0.8" />
<line x1="39.70" y1="135.00" x2="41.30" y2="135.00" stroke="#333" stroke-width="0.8" />
<line x1="39.70" y1="139.40" x2="41.30" y2="139.40" stroke="#333" stroke-width="0.8" />
<line x1="39.70" y1="141.60" x2="41.30" y2="141.60" stroke="#333" stroke-width="0.8" />
<line x1="39.70" y1="143.60" x2="41.30" y2="143.60" stroke="#333" stroke-width="0.8" />
<line x1="39.70" y1="145.40" x2="41.30" y2="145.40" stroke="#333" stroke-width="0.8" />
<line x1="39.70" y1="147.00" x2="41.30" y2="147.00" stroke="#333" stroke-width="0.8" />
<line x1="54.60" y1="149.00" x2="54.60" y2="152.00" stroke="#222" stroke-width="1.0" />
<line x1="67.40" y1="149.00" x2="67.40" y2="152.00" stroke="#222" stroke-width="1.0" />
<line x1="98.60" y1="149.00" x2="98.60" y2="152.00" stroke="#222" stroke-width="1.0" />
<line x1="128.20" y1="149.00" x2="128.20" y2="152.00" stroke="#222" stroke-width="1.0" />
<line x1="156.20" y1="149.00" x2="156.20" y2="152.00" stroke="#222" stroke-width="1.0" />
<line x1="76.79" y1="149.00" x2="76.79" y2="150.60" stroke="#333" stroke-width="0.8" />
<line x1="82.29" y1="149.00" x2="82.29" y2="150.60" stroke="#333" stroke-width="0.8" />
<line x1="86.18" y1="149.00" x2="86.18" y2="150.60" stroke="#333" stroke-width="0.8" />
<line x1="89.21" y1="149.00" x2="89.21" y2="150.60" stroke="#333" stroke-width="0.8" />
<line x1="91.68" y1="149.00" x2="91.68" y2="150.60" stroke="#333" stroke-width="0.8" />
<line x1="93.77" y1="149.00" x2="93.77" y2="150.60" stroke="#333" stroke-width="0.8" />
<line x1="95.58" y1="149.00" x2="95.58" y2="150.60" stroke="#333" stroke-width="0.8" />
<line x1="97.17" y1="149.00" x2="97.17" y2="150.60" stroke="#333" stroke-width="0.8" />
<line x1="107.51" y1="149.00" x2="107.51" y2="150.60" stroke="#333" stroke-width="0.8" />
<line x1="112.72" y1="149.00" x2="112.72" y2="150.60" stroke="#333" stroke-width="0.8" />
<line x1="116.42" y1="149.00" x2="116.42" y2="150.60" stroke="#333" stroke-width="0.8" />
<line x1="119.29" y1="149.00" x2="119.29" y2="150.60" stroke="#333" stroke-width="0.8" />
<line x1="121.63" y1="149.00" x2="121.63" y2="150.60" stroke="#333" stroke-width="0.8" />
<line x1="123.61" y1="149.00" x2="123.61" y2="150.60" stroke="#333" stroke-width="0.8" />
<line x1="125.33" y1="149.00" x2="125.33" y2="150.60" stroke="#333" stroke-width="0.8" />
<line x1="126.85" y1="149.00" x2="126.85" y2="150.60" stroke="#333" stroke-width="0.8" />
<line x1="136.63" y1="149.00" x2="136.63" y2="150.60" stroke="#333" stroke-width="0.8" />
<line x1="141.56" y1="149.00" x2="141.56" y2="150.60" stroke="#333" stroke-width="0.8" />
<line x1="145.06" y1="149.00" x2="145.06" y2="150.60" stroke="#333" stroke-width="0.8" />
<line x1="147.77" y1="149.00" x2="147.77" y2="150.60" stroke="#333" stroke-width="0.8" />
<line x1="149.99" y1="149.00" x2="149.99" y2="150.60" stroke="#333" stroke-width="0.8" />
<line x1="151.86" y1="149.00" x2="151.86" y2="150.60" stroke="#333" stroke-width="0.8" />
<line x1="153.49" y1="149.00" x2="153.49" y2="150.60" stroke="#333" stroke-width="0.8" />
<line x1="154.92" y1="149.00" x2="154.92" y2="150.60" stroke="#333" stroke-width="0.8" />
<line x1="44.10" y1="149.00" x2="44.10" y2="150.60" stroke="#333" stroke-width="0.8" />
<line x1="46.00" y1="149.00" x2="46.00" y2="150.60" stroke="#333" stroke-width="0.8" />
<line x1="47.60" y1="149.00" x2="47.60" y2="150.60" stroke="#333" stroke-width="0.8" />
<line x1="49.20" y1="149.00" x2="49.20" y2="150.60" stroke="#333" stroke-width="0.8" />
<line x1="50.80" y1="149.00" x2="50.80" y2="150.60" stroke="#333" stroke-width="0.8" />
<line x1="52.40" y1="149.00" x2="52.40" y2="150.60" stroke="#333" stroke-width="0.8" />
<line x1="56.80" y1="149.00" x2="56.80" y2="150.60" stroke="#333" stroke-width="0.8" />
<line x1="58.80" y1="149.00" x2="58.80" y2="150.60" stroke="#333" stroke-width="0.8" />
<line x1="60.80" y1="149.00" x2="60.80" y2="150.60" stroke="#333" stroke-width="0.8" />
<line x1="62.60" y1="149.00" x2="62.60" y2="150.60" stroke="#333" stroke-width="0.8" />
<line x1="64.20" y1="149.00" x2="64.20" y2="150.60" stroke="#333" stroke-width="0.8" />
<line x1="65.60" y1="149.00" x2="65.60" y2="150.60" stroke="#333" stroke-width="0.8" />
<line x1="164.80" y1="149.00" x2="164.80" y2="150.60" stroke="#333" stroke-width="0.8" />
<text x="54.90" y="164.40" font-size="9.6" text-anchor="middle" fill="#000" textLength="4.80" lengthAdjust="spacingAndGlyphs" >0</text>
<text x="67.80" y="164.40" font-size="9.6" text-anchor="middle" textLength="9.80" lengthAdjust="spacingAndGlyphs">10<tspan font-size="6.91" dy="-3.4">2</tspan></text>
<text x="99.00" y="164.40" font-size="9.6" text-anchor="middle" textLength="9.80" lengthAdjust="spacingAndGlyphs">10<tspan font-size="6.91" dy="-3.4">3</tspan></text>
<text x="128.60" y="164.40" font-size="9.6" text-anchor="middle" textLength="9.80" lengthAdjust="spacingAndGlyphs">10<tspan font-size="6.91" dy="-3.4">4</tspan></text>
<text x="156.60" y="164.40" font-size="9.6" text-anchor="middle" textLength="9.80" lengthAdjust="spacingAndGlyphs">10<tspan font-size="6.91" dy="-3.4">5</tspan></text>
<g filter="url(#soft)"><path d="M129 18h1v1h-1zM50 19h1v1h-1zM123 19h1v1h-1zM127 20h1v1h-1zM129 20h1v1h-1zM140 20h1v1h-1zM103 21h1v1h-1zM123 21h1v1h-1zM133 21h1v1h-1zM138 21h1v1h-1zM112 22h1v1h-1zM40 23h2v1h-2zM122 23h1v1h-1zM137 23h1v1h-1zM40 24h1v1h-1zM74 24h1v1h-1zM100 24h1v1h-1zM122 24h1v1h-1zM124 24h1v1h-1zM127 24h1v1h-1zM134 24h1v1h-1zM68 25h1v1h-1zM95 25h1v1h-1zM100 25h1v1h-1zM125 25h1v1h-1zM127 25h1v1h-1zM44 26h1v1h-1zM49 26h1v1h-1zM63 26h1v1h-1zM89 26h1v1h-1zM112 26h1v1h-1zM114 26h1v1h-1zM122 26h1v1h-1zM126 26h1v1h-1zM128 26h2v1h-2zM132 26h1v1h-1zM134 26h1v1h-1zM136 26h1v1h-1zM150 26h1v1h-1zM42 27h1v1h-1zM86 27h1v1h-1zM89 27h1v1h-1zM117 27h2v1h-2zM120 27h1v1h-1zM122 27h1v1h-1zM125 27h1v1h-1zM127 27h1v1h-1zM129 27h1v1h-1zM131 27h2v1h-2zM136 27h3v1h-3zM148 27h1v1h-1zM158 27h1v1h-1zM50 28h1v1h-1zM79 28h1v1h-1zM82 28h1v1h-1zM84 28h1v1h-1zM109 28h1v1h-1zM111 28h1v1h-1zM121 28h2v1h-2zM125 28h1v1h-1zM127 28h2v1h-2zM134 28h2v1h-2zM151 28h1v1h-1zM50 29h1v1h-1zM53 29h1v1h-1zM64 29h1v1h-1zM74 29h1v1h-1zM85 29h1v1h-1zM91 29h1v1h-1zM93 29h1v1h-1zM100 29h2v1h-2zM111 29h1v1h-1zM113 29h2v1h-2zM116 29h1v1h-1zM118 29h1v1h-1zM120 29h1v1h-1zM122 29h3v1h-3zM126 29h1v1h-1zM128 29h2v1h-2zM138 29h1v1h-1zM53 30h1v1h-1zM67 30h1v1h-1zM79 30h1v1h-1zM86 30h2v1h-2zM90 30h1v1h-1zM95 30h1v1h-1zM102 30h1v1h-1zM109 30h4v1h-4zM117 30h2v1h-2zM121 30h4v1h-4zM126 30h4v1h-4zM131 30h1v1h-1zM134 30h1v1h-1zM136 30h2v1h-2zM139 30h1v1h-1zM143 30h1v1h-1zM148 30h1v1h-1zM152 30h1v1h-1zM160 30h1v1h-1zM37 31h1v1h-1zM44 31h1v1h-1zM47 31h1v1h-1zM62 31h1v1h-1zM65 31h1v1h-1zM70 31h3v1h-3zM76 31h1v1h-1zM81 31h1v1h-1zM86 31h1v1h-1zM88 31h1v1h-1zM90 31h1v1h-1zM92 31h1v1h-1zM94 31h1v1h-1zM96 31h2v1h-2zM102 31h1v1h-1zM107 31h1v1h-1zM109 31h1v1h-1zM114 31h1v1h-1zM116 31h2v1h-2zM119 31h1v1h-1zM121 31h5v1h-5zM127 31h5v1h-5zM133 31h2v1h-2zM136 31h4v1h-4zM149 31h1v1h-1zM156 31h1v1h-1zM31 32h1v1h-1zM36 32h1v1h-1zM56 32h1v1h-1zM58 32h1v1h-1zM63 32h1v1h-1zM81 32h1v1h-1zM83 32h1v1h-1zM87 32h1v1h-1zM92 32h1v1h-1zM94 32h2v1h-2zM100 32h3v1h-3zM104 32h1v1h-1zM106 32h1v1h-1zM112 32h1v1h-1zM114 32h19v1h-19zM134 32h3v1h-3zM138 32h1v1h-1zM141 32h1v1h-1zM143 32h1v1h-1zM145 32h2v1h-2zM148 32h2v1h-2zM153 32h1v1h-1zM157 32h1v1h-1zM28 33h2v1h-2zM37 33h1v1h-1zM41 33h1v1h-1zM48 33h1v1h-1zM50 33h1v1h-1zM55 33h1v1h-1zM62 33h1v1h-1zM66 33h2v1h-2zM76 33h2v1h-2zM82 33h1v1h-1zM89 33h1v1h-1zM96 33h4v1h-4zM103 33h3v1h-3zM107 33h2v1h-2zM110 33h21v1h-21zM132 33h4v1h-4zM137 33h1v1h-1zM139 33h2v1h-2zM146 33h1v1h-1zM38 34h1v1h-1zM46 34h1v1h-1zM53 34h1v1h-1zM64 34h1v1h-1zM68 34h1v1h-1zM78 34h1v1h-1zM80 34h1v1h-1zM86 34h1v1h-1zM88 34h1v1h-1zM90 34h1v1h-1zM92 34h1v1h-1zM94 34h1v1h-1zM98 34h3v1h-3zM106 34h1v1h-1zM108 34h2v1h-2zM111 34h10v1h-10zM122 34h16v1h-16zM140 34h1v1h-1zM143 34h3v1h-3zM148 34h1v1h-1zM158 34h1v1h-1zM26 35h1v1h-1zM33 35h1v1h-1zM48 35h1v1h-1zM51 35h2v1h-2zM54 35h1v1h-1zM56 35h2v1h-2zM59 35h1v1h-1zM62 35h1v1h-1zM66 35h1v1h-1zM68 35h1v1h-1zM71 35h3v1h-3zM75 35h1v1h-1zM79 35h3v1h-3zM83 35h1v1h-1zM87 35h2v1h-2zM91 35h1v1h-1zM93 35h3v1h-3zM98 35h3v1h-3zM103 35h22v1h-22zM126 35h13v1h-13zM140 35h3v1h-3zM153 35h1v1h-1zM34 36h1v1h-1zM37 36h1v1h-1zM39 36h1v1h-1zM42 36h1v1h-1zM44 36h1v1h-1zM51 36h2v1h-2zM54 36h2v1h-2zM58 36h4v1h-4zM67 36h1v1h-1zM69 36h1v1h-1zM75 36h2v1h-2zM78 36h3v1h-3zM82 36h1v1h-1zM84 36h1v1h-1zM86 36h1v1h-1zM88 36h1v1h-1zM90 36h2v1h-2zM93 36h1v1h-1zM95 36h4v1h-4zM100 36h2v1h-2zM103 36h9v1h-9zM113 36h28v1h-28zM142 36h1v1h-1zM144 36h1v1h-1zM148 36h1v1h-1zM156 36h1v1h-1zM158 36h1v1h-1zM30 37h2v1h-2zM34 37h1v1h-1zM45 37h1v1h-1zM47 37h2v1h-2zM51 37h1v1h-1zM58 37h2v1h-2zM65 37h2v1h-2zM68 37h1v1h-1zM70 37h3v1h-3zM76 37h1v1h-1zM79 37h1v1h-1zM81 37h2v1h-2zM84 37h4v1h-4zM89 37h6v1h-6zM97 37h2v1h-2zM100 37h41v1h-41zM142 37h1v1h-1zM147 37h4v1h-4zM157 37h1v1h-1zM18 38h1v1h-1zM21 38h1v1h-1zM27 38h1v1h-1zM29 38h1v1h-1zM32 38h1v1h-1zM40 38h1v1h-1zM42 38h1v1h-1zM44 38h2v1h-2zM48 38h1v1h-1zM51 38h1v1h-1zM56 38h1v1h-1zM63 38h5v1h-5zM69 38h1v1h-1zM71 38h1v1h-1zM73 38h18v1h-18zM92 38h3v1h-3zM96 38h3v1h-3zM100 38h38v1h-38zM139 38h1v1h-1zM141 38h2v1h-2zM159 38h1v1h-1zM24 39h1v1h-1zM27 39h1v1h-1zM34 39h1v1h-1zM40 39h1v1h-1zM43 39h1v1h-1zM47 39h2v1h-2zM50 39h2v1h-2zM53 39h1v1h-1zM56 39h1v1h-1zM58 39h1v1h-1zM60 39h1v1h-1zM63 39h1v1h-1zM65 39h2v1h-2zM68 39h2v1h-2zM74 39h1v1h-1zM76 39h4v1h-4zM81 39h1v1h-1zM83 39h1v1h-1zM85 39h3v1h-3zM89 39h1v1h-1zM91 39h3v1h-3zM95 39h5v1h-5zM102 39h30v1h-30zM133 39h9v1h-9zM143 39h1v1h-1zM145 39h1v1h-1zM148 39h1v1h-1zM150 39h1v1h-1zM156 39h1v1h-1zM162 39h1v1h-1zM17 40h1v1h-1zM20 40h1v1h-1zM29 40h1v1h-1zM34 40h1v1h-1zM36 40h1v1h-1zM39 40h1v1h-1zM41 40h1v1h-1zM43 40h2v1h-2zM47 40h1v1h-1zM51 40h1v1h-1zM54 40h2v1h-2zM57 40h1v1h-1zM59 40h1v1h-1zM61 40h8v1h-8zM70 40h2v1h-2zM75 40h6v1h-6zM82 40h1v1h-1zM84 40h3v1h-3zM88 40h12v1h-12zM101 40h1v1h-1zM104 40h9v1h-9zM114 40h24v1h-24zM139 40h3v1h-3zM143 40h2v1h-2zM147 40h2v1h-2zM156 40h1v1h-1zM159 40h1v1h-1zM165 40h1v1h-1zM13 41h1v1h-1zM25 41h1v1h-1zM28 41h1v1h-1zM33 41h2v1h-2zM39 41h1v1h-1zM41 41h1v1h-1zM43 41h1v1h-1zM45 41h1v1h-1zM50 41h2v1h-2zM53 41h4v1h-4zM58 41h1v1h-1zM61 41h7v1h-7zM70 41h1v1h-1zM72 41h2v1h-2zM76 41h8v1h-8zM85 41h11v1h-11zM97 41h1v1h-1zM99 41h47v1h-47zM147 41h1v1h-1zM151 41h1v1h-1zM153 41h1v1h-1zM155 41h1v1h-1zM159 41h1v1h-1zM1 42h1v1h-1zM25 42h1v1h-1zM30 42h1v1h-1zM36 42h1v1h-1zM39 42h1v1h-1zM42 42h5v1h-5zM48 42h1v1h-1zM50 42h3v1h-3zM54 42h4v1h-4zM59 42h1v1h-1zM63 42h2v1h-2zM66 42h1v1h-1zM68 42h5v1h-5zM74 42h1v1h-1zM76 42h2v1h-2zM79 42h12v1h-12zM92 42h3v1h-3zM97 42h2v1h-2zM100 42h1v1h-1zM102 42h33v1h-33zM136 42h5v1h-5zM142 42h1v1h-1zM147 42h2v1h-2zM19 43h1v1h-1zM24 43h1v1h-1zM34 43h2v1h-2zM39 43h1v1h-1zM42 43h2v1h-2zM45 43h3v1h-3zM49 43h2v1h-2zM52 43h4v1h-4zM57 43h2v1h-2zM61 43h3v1h-3zM65 43h12v1h-12zM78 43h9v1h-9zM88 43h54v1h-54zM144 43h4v1h-4zM149 43h1v1h-1zM153 43h1v1h-1zM157 43h1v1h-1zM161 43h1v1h-1zM164 43h1v1h-1zM33 44h1v1h-1zM37 44h2v1h-2zM40 44h1v1h-1zM42 44h1v1h-1zM44 44h1v1h-1zM49 44h1v1h-1zM51 44h1v1h-1zM53 44h4v1h-4zM58 44h1v1h-1zM60 44h1v1h-1zM63 44h3v1h-3zM67 44h2v1h-2zM70 44h5v1h-5zM76 44h4v1h-4zM81 44h7v1h-7zM89 44h4v1h-4zM94 44h16v1h-16zM111 44h21v1h-21zM133 44h5v1h-5zM139 44h3v1h-3zM143 44h1v1h-1zM157 44h1v1h-1zM12 45h1v1h-1zM20 45h2v1h-2zM23 45h2v1h-2zM29 45h3v1h-3zM34 45h3v1h-3zM38 45h3v1h-3zM42 45h3v1h-3zM46 45h16v1h-16zM63 45h2v1h-2zM66 45h5v1h-5zM72 45h2v1h-2zM75 45h4v1h-4zM80 45h8v1h-8zM89 45h10v1h-10zM100 45h42v1h-42zM143 45h1v1h-1zM150 45h1v1h-1zM152 45h1v1h-1zM14 46h1v1h-1zM24 46h1v1h-1zM27 46h1v1h-1zM29 46h1v1h-1zM33 46h2v1h-2zM36 46h1v1h-1zM39 46h2v1h-2zM44 46h2v1h-2zM47 46h4v1h-4zM52 46h2v1h-2zM56 46h1v1h-1zM59 46h3v1h-3zM63 46h8v1h-8zM72 46h21v1h-21zM94 46h1v1h-1zM96 46h10v1h-10zM107 46h38v1h-38zM146 46h1v1h-1zM149 46h1v1h-1zM152 46h1v1h-1zM161 46h1v1h-1zM165 46h2v1h-2zM9 47h1v1h-1zM12 47h1v1h-1zM15 47h1v1h-1zM20 47h3v1h-3zM24 47h1v1h-1zM31 47h1v1h-1zM33 47h1v1h-1zM35 47h10v1h-10zM46 47h1v1h-1zM48 47h6v1h-6zM57 47h6v1h-6zM64 47h3v1h-3zM68 47h15v1h-15zM84 47h15v1h-15zM100 47h22v1h-22zM123 47h21v1h-21zM146 47h2v1h-2zM149 47h1v1h-1zM152 47h1v1h-1zM5 48h1v1h-1zM10 48h1v1h-1zM12 48h1v1h-1zM22 48h1v1h-1zM24 48h1v1h-1zM26 48h3v1h-3zM30 48h2v1h-2zM33 48h1v1h-1zM35 48h1v1h-1zM37 48h1v1h-1zM39 48h1v1h-1zM41 48h4v1h-4zM46 48h11v1h-11zM58 48h1v1h-1zM60 48h20v1h-20zM81 48h7v1h-7zM89 48h9v1h-9zM99 48h10v1h-10zM110 48h29v1h-29zM141 48h2v1h-2zM144 48h1v1h-1zM147 48h1v1h-1zM158 48h1v1h-1zM164 48h1v1h-1zM15 49h1v1h-1zM18 49h1v1h-1zM23 49h1v1h-1zM25 49h1v1h-1zM29 49h3v1h-3zM37 49h2v1h-2zM40 49h26v1h-26zM67 49h18v1h-18zM86 49h15v1h-15zM102 49h2v1h-2zM105 49h6v1h-6zM112 49h1v1h-1zM114 49h12v1h-12zM127 49h5v1h-5zM133 49h6v1h-6zM140 49h1v1h-1zM143 49h3v1h-3zM148 49h1v1h-1zM14 50h1v1h-1zM20 50h2v1h-2zM23 50h2v1h-2zM28 50h1v1h-1zM30 50h7v1h-7zM38 50h1v1h-1zM40 50h8v1h-8zM49 50h7v1h-7zM57 50h25v1h-25zM83 50h7v1h-7zM91 50h41v1h-41zM133 50h4v1h-4zM138 50h1v1h-1zM142 50h1v1h-1zM150 50h4v1h-4zM18 51h1v1h-1zM22 51h1v1h-1zM24 51h1v1h-1zM27 51h1v1h-1zM29 51h4v1h-4zM34 51h2v1h-2zM37 51h3v1h-3zM41 51h6v1h-6zM48 51h1v1h-1zM50 51h2v1h-2zM53 51h7v1h-7zM63 51h17v1h-17zM81 51h25v1h-25zM107 51h8v1h-8zM116 51h17v1h-17zM134 51h3v1h-3zM138 51h1v1h-1zM140 51h2v1h-2zM143 51h1v1h-1zM153 51h1v1h-1zM1 52h1v1h-1zM10 52h1v1h-1zM14 52h1v1h-1zM16 52h1v1h-1zM20 52h1v1h-1zM23 52h1v1h-1zM25 52h3v1h-3zM29 52h2v1h-2zM32 52h13v1h-13zM46 52h12v1h-12zM59 52h36v1h-36zM96 52h6v1h-6zM103 52h8v1h-8zM112 52h3v1h-3zM116 52h13v1h-13zM130 52h3v1h-3zM135 52h5v1h-5zM141 52h1v1h-1zM144 52h1v1h-1zM151 52h1v1h-1zM6 53h1v1h-1zM10 53h1v1h-1zM13 53h2v1h-2zM20 53h1v1h-1zM22 53h2v1h-2zM29 53h25v1h-25zM55 53h4v1h-4zM60 53h17v1h-17zM78 53h17v1h-17zM96 53h10v1h-10zM107 53h7v1h-7zM115 53h19v1h-19zM135 53h2v1h-2zM140 53h1v1h-1zM142 53h1v1h-1zM15 54h1v1h-1zM19 54h1v1h-1zM22 54h1v1h-1zM24 54h5v1h-5zM30 54h9v1h-9zM40 54h29v1h-29zM70 54h9v1h-9zM80 54h8v1h-8zM89 54h4v1h-4zM94 54h8v1h-8zM104 54h1v1h-1zM106 54h10v1h-10zM117 54h1v1h-1zM119 54h1v1h-1zM121 54h3v1h-3zM125 54h1v1h-1zM127 54h7v1h-7zM135 54h1v1h-1zM140 54h1v1h-1zM146 54h1v1h-1zM151 54h1v1h-1zM10 55h1v1h-1zM13 55h1v1h-1zM16 55h1v1h-1zM19 55h4v1h-4zM24 55h1v1h-1zM26 55h2v1h-2zM29 55h26v1h-26zM56 55h23v1h-23zM80 55h18v1h-18zM99 55h10v1h-10zM110 55h1v1h-1zM113 55h2v1h-2zM116 55h18v1h-18zM137 55h1v1h-1zM139 55h2v1h-2zM146 55h2v1h-2zM156 55h1v1h-1zM15 56h1v1h-1zM17 56h6v1h-6zM25 56h1v1h-1zM27 56h3v1h-3zM31 56h16v1h-16zM49 56h56v1h-56zM106 56h4v1h-4zM111 56h1v1h-1zM113 56h3v1h-3zM117 56h2v1h-2zM120 56h4v1h-4zM126 56h3v1h-3zM130 56h1v1h-1zM134 56h2v1h-2zM137 56h1v1h-1zM141 56h2v1h-2zM144 56h1v1h-1zM146 56h1v1h-1zM154 56h1v1h-1zM4 57h1v1h-1zM12 57h1v1h-1zM17 57h2v1h-2zM20 57h1v1h-1zM22 57h1v1h-1zM24 57h4v1h-4zM29 57h25v1h-25zM55 57h6v1h-6zM62 57h4v1h-4zM67 57h20v1h-20zM89 57h7v1h-7zM100 57h2v1h-2zM103 57h1v1h-1zM106 57h3v1h-3zM110 57h1v1h-1zM112 57h1v1h-1zM114 57h7v1h-7zM127 57h2v1h-2zM135 57h2v1h-2zM140 57h1v1h-1zM148 57h1v1h-1zM7 58h1v1h-1zM16 58h1v1h-1zM18 58h3v1h-3zM22 58h4v1h-4zM27 58h19v1h-19zM47 58h20v1h-20zM69 58h18v1h-18zM88 58h8v1h-8zM97 58h6v1h-6zM106 58h1v1h-1zM108 58h7v1h-7zM117 58h2v1h-2zM120 58h5v1h-5zM126 58h4v1h-4zM131 58h1v1h-1zM133 58h2v1h-2zM138 58h1v1h-1zM140 58h1v1h-1zM148 58h2v1h-2zM12 59h2v1h-2zM18 59h1v1h-1zM20 59h2v1h-2zM23 59h6v1h-6zM30 59h35v1h-35zM66 59h16v1h-16zM83 59h7v1h-7zM91 59h6v1h-6zM98 59h5v1h-5zM104 59h3v1h-3zM108 59h1v1h-1zM110 59h3v1h-3zM114 59h1v1h-1zM116 59h1v1h-1zM119 59h6v1h-6zM127 59h2v1h-2zM130 59h3v1h-3zM138 59h2v1h-2zM2 60h1v1h-1zM8 60h1v1h-1zM14 60h2v1h-2zM19 60h1v1h-1zM21 60h7v1h-7zM29 60h55v1h-55zM85 60h1v1h-1zM87 60h3v1h-3zM91 60h8v1h-8zM100 60h2v1h-2zM103 60h4v1h-4zM110 60h2v1h-2zM116 60h2v1h-2zM119 60h4v1h-4zM124 60h1v1h-1zM127 60h1v1h-1zM129 60h5v1h-5zM148 60h1v1h-1zM151 60h1v1h-1zM4 61h1v1h-1zM11 61h14v1h-14zM26 61h33v1h-33zM60 61h3v1h-3zM64 61h8v1h-8zM73 61h4v1h-4zM78 61h5v1h-5zM84 61h2v1h-2zM87 61h2v1h-2zM90 61h3v1h-3zM94 61h1v1h-1zM98 61h7v1h-7zM106 61h1v1h-1zM109 61h3v1h-3zM115 61h1v1h-1zM117 61h1v1h-1zM119 61h2v1h-2zM122 61h1v1h-1zM124 61h1v1h-1zM126 61h2v1h-2zM129 61h1v1h-1zM136 61h2v1h-2zM142 61h1v1h-1zM145 61h2v1h-2zM160 61h1v1h-1zM15 62h1v1h-1zM18 62h7v1h-7zM26 62h8v1h-8zM35 62h51v1h-51zM87 62h4v1h-4zM92 62h1v1h-1zM94 62h7v1h-7zM103 62h1v1h-1zM105 62h1v1h-1zM107 62h1v1h-1zM111 62h1v1h-1zM113 62h3v1h-3zM117 62h4v1h-4zM123 62h6v1h-6zM132 62h2v1h-2zM139 62h2v1h-2zM9 63h1v1h-1zM11 63h1v1h-1zM15 63h1v1h-1zM17 63h5v1h-5zM23 63h15v1h-15zM39 63h27v1h-27zM67 63h2v1h-2zM70 63h6v1h-6zM77 63h13v1h-13zM91 63h2v1h-2zM94 63h1v1h-1zM96 63h2v1h-2zM100 63h3v1h-3zM105 63h4v1h-4zM110 63h1v1h-1zM114 63h7v1h-7zM122 63h3v1h-3zM126 63h1v1h-1zM128 63h7v1h-7zM137 63h1v1h-1zM139 63h1v1h-1zM4 64h1v1h-1zM6 64h1v1h-1zM8 64h1v1h-1zM13 64h18v1h-18zM32 64h36v1h-36zM69 64h17v1h-17zM88 64h4v1h-4zM93 64h2v1h-2zM96 64h4v1h-4zM101 64h1v1h-1zM105 64h1v1h-1zM108 64h8v1h-8zM120 64h3v1h-3zM124 64h1v1h-1zM128 64h3v1h-3zM133 64h3v1h-3zM137 64h1v1h-1zM140 64h1v1h-1zM142 64h1v1h-1zM11 65h1v1h-1zM19 65h6v1h-6zM27 65h33v1h-33zM61 65h9v1h-9zM72 65h11v1h-11zM84 65h3v1h-3zM90 65h3v1h-3zM94 65h2v1h-2zM98 65h4v1h-4zM105 65h1v1h-1zM109 65h1v1h-1zM114 65h1v1h-1zM116 65h1v1h-1zM119 65h1v1h-1zM122 65h3v1h-3zM127 65h1v1h-1zM129 65h1v1h-1zM131 65h1v1h-1zM135 65h1v1h-1zM137 65h1v1h-1zM139 65h1v1h-1zM143 65h1v1h-1zM145 65h1v1h-1zM6 66h1v1h-1zM10 66h2v1h-2zM14 66h1v1h-1zM16 66h2v1h-2zM19 66h1v1h-1zM22 66h52v1h-52zM75 66h7v1h-7zM85 66h3v1h-3zM89 66h3v1h-3zM99 66h1v1h-1zM101 66h1v1h-1zM106 66h1v1h-1zM115 66h8v1h-8zM124 66h1v1h-1zM128 66h1v1h-1zM130 66h1v1h-1zM132 66h2v1h-2zM146 66h1v1h-1zM11 67h1v1h-1zM14 67h1v1h-1zM16 67h3v1h-3zM21 67h10v1h-10zM32 67h26v1h-26zM59 67h7v1h-7zM67 67h2v1h-2zM70 67h4v1h-4zM76 67h1v1h-1zM79 67h4v1h-4zM84 67h2v1h-2zM87 67h1v1h-1zM89 67h3v1h-3zM93 67h2v1h-2zM98 67h1v1h-1zM100 67h2v1h-2zM105 67h1v1h-1zM108 67h1v1h-1zM110 67h1v1h-1zM114 67h2v1h-2zM117 67h6v1h-6zM125 67h2v1h-2zM129 67h1v1h-1zM137 67h1v1h-1zM3 68h1v1h-1zM8 68h1v1h-1zM14 68h1v1h-1zM17 68h10v1h-10zM28 68h38v1h-38zM67 68h15v1h-15zM84 68h1v1h-1zM87 68h2v1h-2zM90 68h1v1h-1zM97 68h1v1h-1zM101 68h1v1h-1zM103 68h1v1h-1zM107 68h1v1h-1zM113 68h4v1h-4zM118 68h1v1h-1zM120 68h1v1h-1zM122 68h1v1h-1zM125 68h1v1h-1zM127 68h1v1h-1zM129 68h1v1h-1zM132 68h4v1h-4zM138 68h1v1h-1zM141 68h1v1h-1zM12 69h1v1h-1zM14 69h1v1h-1zM19 69h8v1h-8zM28 69h49v1h-49zM78 69h3v1h-3zM86 69h4v1h-4zM93 69h1v1h-1zM101 69h1v1h-1zM104 69h1v1h-1zM111 69h7v1h-7zM119 69h1v1h-1zM121 69h2v1h-2zM129 69h2v1h-2zM136 69h1v1h-1zM3 70h3v1h-3zM8 70h1v1h-1zM13 70h1v1h-1zM17 70h8v1h-8zM26 70h40v1h-40zM67 70h10v1h-10zM78 70h1v1h-1zM82 70h1v1h-1zM84 70h3v1h-3zM88 70h1v1h-1zM92 70h1v1h-1zM103 70h1v1h-1zM111 70h3v1h-3zM115 70h5v1h-5zM121 70h2v1h-2zM125 70h3v1h-3zM130 70h1v1h-1zM132 70h1v1h-1zM136 70h1v1h-1zM145 70h1v1h-1zM7 71h2v1h-2zM11 71h1v1h-1zM14 71h1v1h-1zM16 71h4v1h-4zM22 71h1v1h-1zM24 71h1v1h-1zM26 71h41v1h-41zM68 71h4v1h-4zM73 71h2v1h-2zM76 71h3v1h-3zM85 71h1v1h-1zM90 71h1v1h-1zM93 71h1v1h-1zM97 71h1v1h-1zM101 71h1v1h-1zM103 71h1v1h-1zM105 71h1v1h-1zM112 71h6v1h-6zM120 71h1v1h-1zM122 71h1v1h-1zM124 71h6v1h-6zM132 71h1v1h-1zM135 71h1v1h-1zM139 71h1v1h-1zM147 71h1v1h-1zM4 72h1v1h-1zM6 72h1v1h-1zM13 72h1v1h-1zM15 72h1v1h-1zM18 72h7v1h-7zM26 72h44v1h-44zM71 72h3v1h-3zM82 72h2v1h-2zM85 72h1v1h-1zM102 72h1v1h-1zM111 72h3v1h-3zM115 72h1v1h-1zM117 72h6v1h-6zM125 72h2v1h-2zM128 72h1v1h-1zM130 72h1v1h-1zM132 72h1v1h-1zM134 72h1v1h-1zM9 73h1v1h-1zM14 73h1v1h-1zM17 73h1v1h-1zM20 73h1v1h-1zM22 73h5v1h-5zM28 73h44v1h-44zM73 73h1v1h-1zM75 73h3v1h-3zM81 73h1v1h-1zM86 73h1v1h-1zM99 73h1v1h-1zM106 73h2v1h-2zM110 73h1v1h-1zM113 73h1v1h-1zM115 73h6v1h-6zM122 73h1v1h-1zM124 73h3v1h-3zM128 73h2v1h-2zM133 73h2v1h-2zM142 73h1v1h-1zM147 73h1v1h-1zM10 74h1v1h-1zM12 74h1v1h-1zM14 74h1v1h-1zM17 74h3v1h-3zM22 74h50v1h-50zM73 74h1v1h-1zM75 74h2v1h-2zM78 74h1v1h-1zM81 74h2v1h-2zM84 74h1v1h-1zM96 74h1v1h-1zM98 74h1v1h-1zM103 74h1v1h-1zM114 74h3v1h-3zM118 74h1v1h-1zM120 74h1v1h-1zM126 74h1v1h-1zM130 74h2v1h-2zM133 74h1v1h-1zM12 75h2v1h-2zM15 75h60v1h-60zM76 75h2v1h-2zM79 75h3v1h-3zM84 75h1v1h-1zM90 75h1v1h-1zM101 75h1v1h-1zM108 75h1v1h-1zM110 75h1v1h-1zM112 75h1v1h-1zM114 75h7v1h-7zM122 75h4v1h-4zM128 75h2v1h-2zM131 75h1v1h-1zM140 75h1v1h-1zM6 76h1v1h-1zM13 76h1v1h-1zM15 76h2v1h-2zM18 76h1v1h-1zM21 76h43v1h-43zM65 76h1v1h-1zM67 76h10v1h-10zM89 76h1v1h-1zM96 76h1v1h-1zM103 76h2v1h-2zM108 76h1v1h-1zM110 76h1v1h-1zM114 76h1v1h-1zM117 76h2v1h-2zM120 76h1v1h-1zM122 76h2v1h-2zM127 76h1v1h-1zM129 76h1v1h-1zM131 76h1v1h-1zM155 76h1v1h-1zM15 77h1v1h-1zM18 77h24v1h-24zM43 77h28v1h-28zM73 77h2v1h-2zM80 77h1v1h-1zM86 77h2v1h-2zM107 77h8v1h-8zM116 77h4v1h-4zM121 77h2v1h-2zM126 77h1v1h-1zM128 77h1v1h-1zM131 77h1v1h-1zM136 77h1v1h-1zM139 77h1v1h-1zM152 77h1v1h-1zM9 78h1v1h-1zM13 78h2v1h-2zM21 78h1v1h-1zM23 78h1v1h-1zM25 78h41v1h-41zM67 78h4v1h-4zM72 78h2v1h-2zM78 78h1v1h-1zM103 78h1v1h-1zM108 78h1v1h-1zM110 78h1v1h-1zM112 78h7v1h-7zM121 78h1v1h-1zM123 78h2v1h-2zM126 78h1v1h-1zM130 78h1v1h-1zM137 78h1v1h-1zM10 79h1v1h-1zM13 79h1v1h-1zM15 79h3v1h-3zM20 79h55v1h-55zM76 79h2v1h-2zM94 79h1v1h-1zM107 79h10v1h-10zM118 79h3v1h-3zM122 79h1v1h-1zM127 79h1v1h-1zM132 79h1v1h-1zM140 79h1v1h-1zM15 80h4v1h-4zM21 80h1v1h-1zM24 80h48v1h-48zM73 80h1v1h-1zM75 80h2v1h-2zM98 80h1v1h-1zM102 80h1v1h-1zM112 80h2v1h-2zM115 80h7v1h-7zM124 80h1v1h-1zM127 80h1v1h-1zM131 80h1v1h-1zM134 80h1v1h-1zM140 80h1v1h-1zM12 81h1v1h-1zM15 81h2v1h-2zM20 81h55v1h-55zM77 81h1v1h-1zM81 81h1v1h-1zM99 81h1v1h-1zM110 81h9v1h-9zM120 81h2v1h-2zM126 81h1v1h-1zM128 81h1v1h-1zM130 81h3v1h-3zM142 81h1v1h-1zM12 82h1v1h-1zM15 82h1v1h-1zM18 82h1v1h-1zM21 82h4v1h-4zM26 82h41v1h-41zM68 82h4v1h-4zM74 82h2v1h-2zM79 82h1v1h-1zM88 82h1v1h-1zM95 82h1v1h-1zM97 82h1v1h-1zM103 82h1v1h-1zM107 82h13v1h-13zM121 82h2v1h-2zM126 82h1v1h-1zM133 82h1v1h-1zM141 82h1v1h-1zM13 83h1v1h-1zM18 83h2v1h-2zM21 83h45v1h-45zM67 83h6v1h-6zM74 83h1v1h-1zM77 83h1v1h-1zM79 83h1v1h-1zM82 83h1v1h-1zM84 83h1v1h-1zM96 83h1v1h-1zM106 83h1v1h-1zM108 83h7v1h-7zM116 83h3v1h-3zM120 83h1v1h-1zM122 83h1v1h-1zM127 83h1v1h-1zM129 83h1v1h-1zM131 83h1v1h-1zM16 84h1v1h-1zM18 84h1v1h-1zM21 84h53v1h-53zM75 84h2v1h-2zM87 84h2v1h-2zM101 84h1v1h-1zM106 84h13v1h-13zM120 84h4v1h-4zM130 84h1v1h-1zM134 84h1v1h-1zM145 84h1v1h-1zM14 85h2v1h-2zM17 85h1v1h-1zM20 85h3v1h-3zM24 85h44v1h-44zM71 85h8v1h-8zM82 85h1v1h-1zM86 85h1v1h-1zM90 85h1v1h-1zM95 85h1v1h-1zM98 85h1v1h-1zM106 85h1v1h-1zM108 85h6v1h-6zM115 85h8v1h-8zM140 85h1v1h-1zM149 85h1v1h-1zM16 86h4v1h-4zM21 86h46v1h-46zM68 86h1v1h-1zM70 86h1v1h-1zM72 86h1v1h-1zM74 86h1v1h-1zM76 86h2v1h-2zM86 86h1v1h-1zM89 86h1v1h-1zM91 86h2v1h-2zM95 86h1v1h-1zM97 86h1v1h-1zM100 86h1v1h-1zM105 86h1v1h-1zM107 86h1v1h-1zM109 86h11v1h-11zM121 86h1v1h-1zM128 86h1v1h-1zM130 86h1v1h-1zM149 86h1v1h-1zM156 86h1v1h-1zM19 87h3v1h-3zM23 87h45v1h-45zM69 87h2v1h-2zM72 87h1v1h-1zM74 87h1v1h-1zM81 87h1v1h-1zM107 87h5v1h-5zM113 87h7v1h-7zM122 87h1v1h-1zM130 87h1v1h-1zM134 87h1v1h-1zM137 87h1v1h-1zM16 88h1v1h-1zM19 88h46v1h-46zM66 88h2v1h-2zM69 88h2v1h-2zM74 88h3v1h-3zM78 88h1v1h-1zM100 88h1v1h-1zM104 88h1v1h-1zM107 88h13v1h-13zM121 88h1v1h-1zM123 88h1v1h-1zM139 88h1v1h-1zM13 89h1v1h-1zM15 89h1v1h-1zM19 89h2v1h-2zM22 89h46v1h-46zM70 89h2v1h-2zM73 89h1v1h-1zM75 89h1v1h-1zM79 89h1v1h-1zM99 89h1v1h-1zM105 89h13v1h-13zM119 89h4v1h-4zM125 89h1v1h-1zM160 89h1v1h-1zM4 90h1v1h-1zM7 90h1v1h-1zM14 90h1v1h-1zM16 90h2v1h-2zM19 90h3v1h-3zM24 90h1v1h-1zM26 90h36v1h-36zM63 90h3v1h-3zM67 90h1v1h-1zM69 90h2v1h-2zM72 90h2v1h-2zM75 90h1v1h-1zM77 90h1v1h-1zM82 90h2v1h-2zM87 90h3v1h-3zM92 90h1v1h-1zM96 90h1v1h-1zM102 90h2v1h-2zM105 90h6v1h-6zM113 90h7v1h-7zM121 90h2v1h-2zM5 91h1v1h-1zM19 91h2v1h-2zM22 91h39v1h-39zM62 91h6v1h-6zM70 91h3v1h-3zM75 91h1v1h-1zM81 91h1v1h-1zM85 91h1v1h-1zM89 91h1v1h-1zM97 91h1v1h-1zM100 91h1v1h-1zM103 91h1v1h-1zM105 91h15v1h-15zM15 92h1v1h-1zM17 92h2v1h-2zM20 92h46v1h-46zM67 92h2v1h-2zM70 92h2v1h-2zM76 92h1v1h-1zM84 92h3v1h-3zM100 92h1v1h-1zM102 92h6v1h-6zM109 92h11v1h-11zM121 92h1v1h-1zM167 92h1v1h-1zM15 93h1v1h-1zM19 93h1v1h-1zM21 93h43v1h-43zM65 93h1v1h-1zM67 93h1v1h-1zM70 93h2v1h-2zM73 93h1v1h-1zM75 93h1v1h-1zM80 93h1v1h-1zM84 93h1v1h-1zM88 93h1v1h-1zM91 93h1v1h-1zM101 93h1v1h-1zM105 93h9v1h-9zM115 93h3v1h-3zM122 93h1v1h-1zM127 93h2v1h-2zM135 93h1v1h-1zM19 94h2v1h-2zM22 94h43v1h-43zM66 94h1v1h-1zM68 94h1v1h-1zM70 94h1v1h-1zM73 94h1v1h-1zM78 94h1v1h-1zM96 94h1v1h-1zM103 94h2v1h-2zM106 94h13v1h-13zM120 94h1v1h-1zM128 94h1v1h-1zM133 94h1v1h-1zM17 95h1v1h-1zM22 95h43v1h-43zM66 95h2v1h-2zM70 95h1v1h-1zM76 95h1v1h-1zM81 95h1v1h-1zM105 95h16v1h-16zM124 95h1v1h-1zM131 95h1v1h-1zM135 95h1v1h-1zM163 95h1v1h-1zM17 96h2v1h-2zM21 96h2v1h-2zM24 96h38v1h-38zM63 96h6v1h-6zM88 96h1v1h-1zM102 96h1v1h-1zM104 96h3v1h-3zM108 96h11v1h-11zM127 96h1v1h-1zM129 96h3v1h-3zM135 96h1v1h-1zM158 96h1v1h-1zM18 97h49v1h-49zM70 97h1v1h-1zM73 97h1v1h-1zM75 97h1v1h-1zM93 97h1v1h-1zM103 97h7v1h-7zM111 97h11v1h-11zM125 97h1v1h-1zM127 97h1v1h-1zM20 98h1v1h-1zM22 98h41v1h-41zM64 98h1v1h-1zM67 98h1v1h-1zM76 98h1v1h-1zM78 98h1v1h-1zM83 98h1v1h-1zM104 98h17v1h-17zM127 98h1v1h-1zM131 98h2v1h-2zM135 98h3v1h-3zM14 99h1v1h-1zM18 99h5v1h-5zM24 99h33v1h-33zM58 99h3v1h-3zM62 99h1v1h-1zM66 99h3v1h-3zM70 99h1v1h-1zM74 99h1v1h-1zM77 99h1v1h-1zM83 99h1v1h-1zM86 99h1v1h-1zM96 99h1v1h-1zM100 99h1v1h-1zM102 99h1v1h-1zM105 99h14v1h-14zM120 99h2v1h-2zM128 99h5v1h-5zM159 99h1v1h-1zM161 99h1v1h-1zM15 100h1v1h-1zM18 100h1v1h-1zM21 100h41v1h-41zM63 100h3v1h-3zM67 100h1v1h-1zM71 100h1v1h-1zM74 100h1v1h-1zM76 100h2v1h-2zM81 100h1v1h-1zM94 100h2v1h-2zM100 100h3v1h-3zM104 100h15v1h-15zM121 100h1v1h-1zM128 100h2v1h-2zM131 100h4v1h-4zM158 100h1v1h-1zM19 101h1v1h-1zM23 101h45v1h-45zM74 101h2v1h-2zM79 101h1v1h-1zM81 101h1v1h-1zM87 101h1v1h-1zM103 101h17v1h-17zM121 101h1v1h-1zM124 101h1v1h-1zM126 101h2v1h-2zM129 101h1v1h-1zM131 101h1v1h-1zM134 101h2v1h-2zM143 101h1v1h-1zM13 102h2v1h-2zM21 102h42v1h-42zM64 102h2v1h-2zM67 102h6v1h-6zM98 102h1v1h-1zM100 102h2v1h-2zM103 102h2v1h-2zM106 102h16v1h-16zM125 102h1v1h-1zM128 102h1v1h-1zM130 102h1v1h-1zM132 102h2v1h-2zM135 102h2v1h-2zM138 102h1v1h-1zM147 102h1v1h-1zM12 103h1v1h-1zM20 103h1v1h-1zM22 103h42v1h-42zM66 103h1v1h-1zM73 103h1v1h-1zM79 103h1v1h-1zM84 103h1v1h-1zM87 103h1v1h-1zM94 103h1v1h-1zM102 103h1v1h-1zM104 103h16v1h-16zM122 103h7v1h-7zM131 103h2v1h-2zM140 103h2v1h-2zM16 104h1v1h-1zM20 104h43v1h-43zM64 104h1v1h-1zM66 104h1v1h-1zM70 104h1v1h-1zM72 104h1v1h-1zM75 104h2v1h-2zM92 104h2v1h-2zM98 104h1v1h-1zM102 104h20v1h-20zM123 104h1v1h-1zM125 104h1v1h-1zM128 104h2v1h-2zM131 104h1v1h-1zM133 104h1v1h-1zM14 105h1v1h-1zM17 105h2v1h-2zM20 105h43v1h-43zM64 105h1v1h-1zM66 105h1v1h-1zM69 105h2v1h-2zM75 105h1v1h-1zM84 105h2v1h-2zM87 105h1v1h-1zM100 105h22v1h-22zM123 105h1v1h-1zM125 105h3v1h-3zM129 105h2v1h-2zM135 105h3v1h-3zM19 106h42v1h-42zM62 106h2v1h-2zM66 106h1v1h-1zM69 106h1v1h-1zM77 106h1v1h-1zM91 106h1v1h-1zM96 106h1v1h-1zM100 106h1v1h-1zM104 106h11v1h-11zM116 106h4v1h-4zM124 106h5v1h-5zM130 106h2v1h-2zM133 106h1v1h-1zM12 107h1v1h-1zM18 107h47v1h-47zM67 107h1v1h-1zM70 107h2v1h-2zM77 107h1v1h-1zM82 107h1v1h-1zM86 107h1v1h-1zM88 107h1v1h-1zM90 107h1v1h-1zM95 107h1v1h-1zM99 107h1v1h-1zM102 107h1v1h-1zM104 107h17v1h-17zM122 107h5v1h-5zM128 107h4v1h-4zM133 107h3v1h-3zM19 108h43v1h-43zM63 108h7v1h-7zM77 108h1v1h-1zM83 108h1v1h-1zM88 108h1v1h-1zM100 108h1v1h-1zM102 108h2v1h-2zM105 108h18v1h-18zM125 108h8v1h-8zM134 108h2v1h-2zM13 109h1v1h-1zM18 109h45v1h-45zM64 109h1v1h-1zM66 109h2v1h-2zM71 109h1v1h-1zM79 109h2v1h-2zM82 109h1v1h-1zM85 109h1v1h-1zM99 109h1v1h-1zM102 109h19v1h-19zM122 109h1v1h-1zM124 109h1v1h-1zM127 109h3v1h-3zM131 109h1v1h-1zM133 109h1v1h-1zM138 109h1v1h-1zM21 110h41v1h-41zM64 110h3v1h-3zM69 110h1v1h-1zM74 110h2v1h-2zM77 110h1v1h-1zM83 110h1v1h-1zM95 110h1v1h-1zM97 110h1v1h-1zM100 110h11v1h-11zM112 110h8v1h-8zM121 110h3v1h-3zM127 110h1v1h-1zM130 110h3v1h-3zM135 110h1v1h-1zM11 111h1v1h-1zM18 111h50v1h-50zM70 111h1v1h-1zM73 111h1v1h-1zM88 111h1v1h-1zM101 111h19v1h-19zM123 111h3v1h-3zM127 111h10v1h-10zM147 111h1v1h-1zM14 112h1v1h-1zM21 112h2v1h-2zM24 112h39v1h-39zM64 112h1v1h-1zM67 112h2v1h-2zM70 112h2v1h-2zM74 112h1v1h-1zM85 112h1v1h-1zM87 112h1v1h-1zM100 112h1v1h-1zM102 112h1v1h-1zM105 112h14v1h-14zM121 112h1v1h-1zM123 112h2v1h-2zM126 112h3v1h-3zM130 112h5v1h-5zM136 112h1v1h-1zM166 112h1v1h-1zM17 113h1v1h-1zM20 113h44v1h-44zM66 113h1v1h-1zM70 113h1v1h-1zM74 113h1v1h-1zM76 113h1v1h-1zM82 113h1v1h-1zM85 113h1v1h-1zM90 113h1v1h-1zM101 113h17v1h-17zM119 113h1v1h-1zM122 113h1v1h-1zM125 113h9v1h-9zM139 113h1v1h-1zM142 113h1v1h-1zM147 113h1v1h-1zM167 113h1v1h-1zM19 114h39v1h-39zM59 114h3v1h-3zM63 114h1v1h-1zM65 114h2v1h-2zM75 114h1v1h-1zM79 114h1v1h-1zM88 114h2v1h-2zM93 114h1v1h-1zM98 114h1v1h-1zM101 114h1v1h-1zM103 114h18v1h-18zM122 114h9v1h-9zM132 114h3v1h-3zM136 114h1v1h-1zM141 114h1v1h-1zM144 114h1v1h-1zM17 115h1v1h-1zM19 115h42v1h-42zM62 115h3v1h-3zM69 115h3v1h-3zM74 115h2v1h-2zM77 115h3v1h-3zM85 115h1v1h-1zM99 115h1v1h-1zM101 115h1v1h-1zM103 115h31v1h-31zM135 115h1v1h-1zM137 115h2v1h-2zM15 116h47v1h-47zM63 116h1v1h-1zM74 116h1v1h-1zM84 116h1v1h-1zM100 116h17v1h-17zM118 116h2v1h-2zM123 116h1v1h-1zM125 116h5v1h-5zM131 116h2v1h-2zM134 116h1v1h-1zM11 117h1v1h-1zM16 117h1v1h-1zM19 117h39v1h-39zM59 117h5v1h-5zM70 117h1v1h-1zM76 117h1v1h-1zM79 117h1v1h-1zM82 117h1v1h-1zM90 117h1v1h-1zM99 117h1v1h-1zM101 117h18v1h-18zM121 117h13v1h-13zM135 117h3v1h-3zM13 118h2v1h-2zM18 118h3v1h-3zM22 118h41v1h-41zM66 118h2v1h-2zM73 118h2v1h-2zM77 118h1v1h-1zM80 118h1v1h-1zM83 118h1v1h-1zM86 118h2v1h-2zM93 118h1v1h-1zM97 118h1v1h-1zM99 118h3v1h-3zM103 118h16v1h-16zM122 118h13v1h-13zM139 118h1v1h-1zM13 119h1v1h-1zM19 119h46v1h-46zM78 119h1v1h-1zM82 119h2v1h-2zM88 119h1v1h-1zM90 119h1v1h-1zM94 119h2v1h-2zM97 119h2v1h-2zM100 119h6v1h-6zM107 119h15v1h-15zM123 119h3v1h-3zM127 119h7v1h-7zM135 119h3v1h-3zM15 120h2v1h-2zM18 120h46v1h-46zM72 120h1v1h-1zM75 120h2v1h-2zM78 120h1v1h-1zM81 120h1v1h-1zM87 120h3v1h-3zM96 120h1v1h-1zM100 120h19v1h-19zM120 120h13v1h-13zM134 120h3v1h-3zM139 120h1v1h-1zM13 121h1v1h-1zM17 121h5v1h-5zM23 121h41v1h-41zM67 121h1v1h-1zM70 121h1v1h-1zM72 121h1v1h-1zM76 121h1v1h-1zM79 121h1v1h-1zM82 121h1v1h-1zM86 121h1v1h-1zM90 121h2v1h-2zM98 121h1v1h-1zM101 121h2v1h-2zM104 121h3v1h-3zM108 121h17v1h-17zM126 121h10v1h-10zM138 121h1v1h-1zM141 121h1v1h-1zM15 122h1v1h-1zM17 122h1v1h-1zM20 122h40v1h-40zM61 122h3v1h-3zM65 122h2v1h-2zM99 122h1v1h-1zM101 122h18v1h-18zM121 122h2v1h-2zM124 122h2v1h-2zM129 122h2v1h-2zM132 122h1v1h-1zM135 122h1v1h-1zM140 122h1v1h-1zM142 122h1v1h-1zM17 123h43v1h-43zM61 123h2v1h-2zM65 123h1v1h-1zM73 123h1v1h-1zM75 123h2v1h-2zM91 123h1v1h-1zM100 123h18v1h-18zM119 123h3v1h-3zM123 123h10v1h-10zM11 124h1v1h-1zM13 124h1v1h-1zM16 124h1v1h-1zM19 124h49v1h-49zM73 124h2v1h-2zM77 124h1v1h-1zM81 124h1v1h-1zM85 124h1v1h-1zM98 124h2v1h-2zM101 124h16v1h-16zM118 124h2v1h-2zM121 124h8v1h-8zM130 124h5v1h-5zM140 124h1v1h-1zM151 124h1v1h-1zM17 125h43v1h-43zM61 125h1v1h-1zM63 125h1v1h-1zM67 125h1v1h-1zM73 125h1v1h-1zM88 125h1v1h-1zM97 125h2v1h-2zM101 125h1v1h-1zM103 125h12v1h-12zM116 125h2v1h-2zM120 125h14v1h-14zM136 125h1v1h-1zM149 125h1v1h-1zM14 126h1v1h-1zM17 126h43v1h-43zM61 126h5v1h-5zM67 126h1v1h-1zM69 126h1v1h-1zM75 126h1v1h-1zM77 126h1v1h-1zM86 126h1v1h-1zM90 126h1v1h-1zM92 126h1v1h-1zM98 126h1v1h-1zM100 126h19v1h-19zM120 126h3v1h-3zM124 126h9v1h-9zM143 126h1v1h-1zM15 127h1v1h-1zM20 127h44v1h-44zM67 127h1v1h-1zM76 127h2v1h-2zM81 127h1v1h-1zM92 127h1v1h-1zM99 127h19v1h-19zM119 127h1v1h-1zM121 127h15v1h-15zM159 127h1v1h-1zM19 128h42v1h-42zM62 128h1v1h-1zM65 128h1v1h-1zM82 128h1v1h-1zM88 128h3v1h-3zM97 128h2v1h-2zM100 128h19v1h-19zM120 128h14v1h-14zM135 128h1v1h-1zM17 129h1v1h-1zM20 129h39v1h-39zM60 129h5v1h-5zM66 129h3v1h-3zM72 129h1v1h-1zM74 129h1v1h-1zM76 129h1v1h-1zM78 129h1v1h-1zM80 129h1v1h-1zM82 129h1v1h-1zM87 129h1v1h-1zM95 129h1v1h-1zM98 129h4v1h-4zM103 129h14v1h-14zM118 129h1v1h-1zM120 129h13v1h-13zM138 129h1v1h-1zM150 129h1v1h-1zM8 130h1v1h-1zM14 130h1v1h-1zM16 130h45v1h-45zM62 130h4v1h-4zM67 130h2v1h-2zM72 130h1v1h-1zM75 130h1v1h-1zM77 130h1v1h-1zM79 130h1v1h-1zM82 130h1v1h-1zM88 130h1v1h-1zM93 130h1v1h-1zM98 130h3v1h-3zM102 130h22v1h-22zM125 130h11v1h-11zM137 130h1v1h-1zM143 130h1v1h-1zM12 131h1v1h-1zM19 131h1v1h-1zM21 131h36v1h-36zM58 131h2v1h-2zM61 131h1v1h-1zM63 131h2v1h-2zM66 131h1v1h-1zM69 131h1v1h-1zM73 131h1v1h-1zM77 131h3v1h-3zM82 131h1v1h-1zM99 131h1v1h-1zM101 131h18v1h-18zM121 131h1v1h-1zM123 131h12v1h-12zM137 131h4v1h-4zM19 132h2v1h-2zM22 132h38v1h-38zM64 132h2v1h-2zM67 132h1v1h-1zM74 132h1v1h-1zM79 132h1v1h-1zM83 132h1v1h-1zM85 132h1v1h-1zM90 132h2v1h-2zM100 132h15v1h-15zM116 132h2v1h-2zM119 132h7v1h-7zM127 132h7v1h-7zM136 132h2v1h-2zM149 132h1v1h-1zM20 133h44v1h-44zM69 133h1v1h-1zM75 133h2v1h-2zM79 133h1v1h-1zM84 133h1v1h-1zM86 133h1v1h-1zM94 133h1v1h-1zM101 133h1v1h-1zM103 133h7v1h-7zM111 133h7v1h-7zM121 133h2v1h-2zM124 133h10v1h-10zM17 134h4v1h-4zM22 134h35v1h-35zM58 134h9v1h-9zM73 134h2v1h-2zM93 134h1v1h-1zM95 134h2v1h-2zM98 134h1v1h-1zM100 134h8v1h-8zM109 134h5v1h-5zM115 134h15v1h-15zM131 134h2v1h-2zM135 134h1v1h-1zM138 134h1v1h-1zM144 134h1v1h-1zM17 135h42v1h-42zM60 135h2v1h-2zM63 135h1v1h-1zM67 135h1v1h-1zM70 135h2v1h-2zM75 135h2v1h-2zM87 135h1v1h-1zM90 135h1v1h-1zM97 135h1v1h-1zM99 135h2v1h-2zM102 135h1v1h-1zM104 135h5v1h-5zM110 135h5v1h-5zM116 135h16v1h-16zM133 135h1v1h-1zM135 135h1v1h-1zM137 135h1v1h-1zM142 135h1v1h-1zM18 136h1v1h-1zM20 136h2v1h-2zM23 136h37v1h-37zM62 136h2v1h-2zM68 136h1v1h-1zM70 136h2v1h-2zM76 136h3v1h-3zM85 136h1v1h-1zM91 136h1v1h-1zM96 136h1v1h-1zM101 136h7v1h-7zM110 136h22v1h-22zM133 136h1v1h-1zM15 137h1v1h-1zM19 137h40v1h-40zM60 137h2v1h-2zM66 137h1v1h-1zM74 137h1v1h-1zM77 137h1v1h-1zM86 137h3v1h-3zM92 137h1v1h-1zM96 137h1v1h-1zM99 137h1v1h-1zM101 137h11v1h-11zM113 137h2v1h-2zM116 137h16v1h-16zM133 137h4v1h-4zM138 137h1v1h-1zM140 137h1v1h-1zM18 138h3v1h-3zM22 138h2v1h-2zM25 138h35v1h-35zM61 138h2v1h-2zM65 138h1v1h-1zM68 138h1v1h-1zM75 138h1v1h-1zM82 138h1v1h-1zM88 138h1v1h-1zM91 138h1v1h-1zM99 138h2v1h-2zM102 138h30v1h-30zM134 138h3v1h-3zM138 138h1v1h-1zM140 138h1v1h-1zM143 138h1v1h-1zM9 139h1v1h-1zM18 139h4v1h-4zM23 139h39v1h-39zM67 139h1v1h-1zM70 139h1v1h-1zM80 139h1v1h-1zM88 139h2v1h-2zM91 139h1v1h-1zM102 139h1v1h-1zM104 139h16v1h-16zM121 139h13v1h-13zM135 139h2v1h-2zM138 139h4v1h-4zM146 139h1v1h-1zM18 140h4v1h-4zM23 140h40v1h-40zM67 140h1v1h-1zM69 140h3v1h-3zM75 140h1v1h-1zM77 140h2v1h-2zM82 140h2v1h-2zM88 140h1v1h-1zM96 140h1v1h-1zM98 140h1v1h-1zM100 140h4v1h-4zM105 140h6v1h-6zM112 140h17v1h-17zM130 140h5v1h-5zM136 140h1v1h-1zM139 140h1v1h-1zM144 140h1v1h-1zM17 141h45v1h-45zM63 141h2v1h-2zM72 141h1v1h-1zM79 141h1v1h-1zM83 141h1v1h-1zM88 141h1v1h-1zM91 141h1v1h-1zM96 141h1v1h-1zM98 141h5v1h-5zM104 141h31v1h-31zM136 141h1v1h-1zM138 141h3v1h-3zM145 141h1v1h-1zM149 141h1v1h-1zM15 142h1v1h-1zM17 142h1v1h-1zM19 142h1v1h-1zM21 142h35v1h-35zM57 142h4v1h-4zM68 142h1v1h-1zM73 142h1v1h-1zM77 142h1v1h-1zM81 142h1v1h-1zM96 142h1v1h-1zM98 142h1v1h-1zM101 142h1v1h-1zM103 142h4v1h-4zM108 142h8v1h-8zM117 142h1v1h-1zM119 142h19v1h-19zM141 142h1v1h-1zM146 142h1v1h-1zM16 143h1v1h-1zM18 143h2v1h-2zM22 143h38v1h-38zM68 143h1v1h-1zM73 143h1v1h-1zM76 143h2v1h-2zM89 143h2v1h-2zM97 143h17v1h-17zM115 143h13v1h-13zM130 143h4v1h-4zM135 143h4v1h-4zM140 143h2v1h-2zM18 144h2v1h-2zM22 144h37v1h-37zM60 144h1v1h-1zM70 144h1v1h-1zM78 144h1v1h-1zM80 144h1v1h-1zM92 144h1v1h-1zM94 144h1v1h-1zM97 144h1v1h-1zM99 144h1v1h-1zM101 144h30v1h-30zM132 144h2v1h-2zM135 144h4v1h-4zM140 144h1v1h-1zM143 144h1v1h-1zM11 145h1v1h-1zM14 145h1v1h-1zM16 145h1v1h-1zM18 145h1v1h-1zM21 145h36v1h-36zM63 145h2v1h-2zM82 145h1v1h-1zM85 145h1v1h-1zM89 145h1v1h-1zM93 145h1v1h-1zM96 145h2v1h-2zM100 145h14v1h-14zM115 145h3v1h-3zM119 145h12v1h-12zM132 145h3v1h-3zM136 145h6v1h-6zM145 145h1v1h-1zM150 145h1v1h-1zM18 146h41v1h-41zM60 146h1v1h-1zM77 146h1v1h-1zM80 146h2v1h-2zM90 146h1v1h-1zM95 146h1v1h-1zM98 146h4v1h-4zM103 146h4v1h-4zM108 146h11v1h-11zM120 146h20v1h-20zM141 146h1v1h-1zM144 146h1v1h-1zM17 147h2v1h-2zM21 147h2v1h-2zM24 147h37v1h-37zM70 147h1v1h-1zM75 147h1v1h-1zM78 147h1v1h-1zM81 147h2v1h-2zM88 147h1v1h-1zM91 147h1v1h-1zM95 147h2v1h-2zM98 147h2v1h-2zM101 147h14v1h-14zM116 147h13v1h-13zM130 147h3v1h-3zM134 147h2v1h-2zM139 147h4v1h-4zM14 148h1v1h-1zM17 148h1v1h-1zM19 148h1v1h-1zM22 148h4v1h-4zM27 148h26v1h-26zM54 148h6v1h-6zM65 148h1v1h-1zM70 148h1v1h-1zM72 148h1v1h-1zM76 148h1v1h-1zM89 148h1v1h-1zM91 148h1v1h-1zM93 148h2v1h-2zM96 148h1v1h-1zM101 148h33v1h-33zM135 148h5v1h-5zM143 148h1v1h-1zM148 148h1v1h-1zM20 149h1v1h-1zM22 149h38v1h-38zM65 149h1v1h-1zM70 149h1v1h-1zM82 149h1v1h-1zM93 149h1v1h-1zM96 149h2v1h-2zM99 149h2v1h-2zM103 149h5v1h-5zM109 149h7v1h-7zM117 149h12v1h-12zM130 149h3v1h-3zM135 149h1v1h-1zM137 149h1v1h-1zM139 149h5v1h-5zM147 149h1v1h-1zM17 150h1v1h-1zM19 150h1v1h-1zM21 150h1v1h-1zM23 150h34v1h-34zM61 150h1v1h-1zM66 150h1v1h-1zM71 150h1v1h-1zM79 150h1v1h-1zM82 150h1v1h-1zM92 150h1v1h-1zM96 150h4v1h-4zM102 150h8v1h-8zM112 150h7v1h-7zM121 150h15v1h-15zM143 150h1v1h-1zM147 150h1v1h-1zM149 150h1v1h-1zM21 151h2v1h-2zM24 151h33v1h-33zM58 151h1v1h-1zM61 151h1v1h-1zM69 151h1v1h-1zM71 151h1v1h-1zM79 151h1v1h-1zM90 151h1v1h-1zM99 151h5v1h-5zM105 151h4v1h-4zM110 151h2v1h-2zM113 151h5v1h-5zM119 151h9v1h-9zM129 151h5v1h-5zM135 151h2v1h-2zM139 151h1v1h-1zM142 151h2v1h-2zM15 152h1v1h-1zM18 152h1v1h-1zM21 152h38v1h-38zM60 152h2v1h-2zM63 152h2v1h-2zM70 152h1v1h-1zM77 152h1v1h-1zM80 152h1v1h-1zM86 152h1v1h-1zM92 152h1v1h-1zM98 152h1v1h-1zM103 152h1v1h-1zM106 152h7v1h-7zM114 152h2v1h-2zM117 152h4v1h-4zM122 152h5v1h-5zM128 152h1v1h-1zM130 152h5v1h-5zM145 152h1v1h-1zM17 153h3v1h-3zM21 153h5v1h-5zM27 153h29v1h-29zM58 153h3v1h-3zM62 153h1v1h-1zM73 153h1v1h-1zM76 153h1v1h-1zM79 153h1v1h-1zM83 153h1v1h-1zM88 153h1v1h-1zM90 153h1v1h-1zM95 153h1v1h-1zM98 153h3v1h-3zM103 153h2v1h-2zM106 153h1v1h-1zM108 153h3v1h-3zM112 153h8v1h-8zM121 153h6v1h-6zM128 153h6v1h-6zM136 153h2v1h-2zM140 153h1v1h-1zM142 153h1v1h-1zM24 154h2v1h-2zM28 154h29v1h-29zM58 154h3v1h-3zM65 154h2v1h-2zM80 154h1v1h-1zM83 154h2v1h-2zM87 154h1v1h-1zM91 154h1v1h-1zM99 154h6v1h-6zM106 154h7v1h-7zM114 154h1v1h-1zM117 154h5v1h-5zM123 154h6v1h-6zM130 154h1v1h-1zM133 154h1v1h-1zM135 154h1v1h-1zM137 154h1v1h-1zM146 154h1v1h-1zM18 155h1v1h-1zM20 155h5v1h-5zM26 155h1v1h-1zM28 155h28v1h-28zM58 155h2v1h-2zM64 155h1v1h-1zM67 155h1v1h-1zM71 155h1v1h-1zM73 155h2v1h-2zM79 155h1v1h-1zM81 155h1v1h-1zM83 155h1v1h-1zM88 155h1v1h-1zM90 155h1v1h-1zM97 155h2v1h-2zM103 155h3v1h-3zM107 155h2v1h-2zM110 155h1v1h-1zM112 155h2v1h-2zM115 155h1v1h-1zM117 155h2v1h-2zM120 155h9v1h-9zM130 155h3v1h-3zM138 155h1v1h-1zM140 155h2v1h-2zM143 155h1v1h-1zM16 156h1v1h-1zM19 156h1v1h-1zM21 156h1v1h-1zM25 156h5v1h-5zM31 156h19v1h-19zM51 156h3v1h-3zM56 156h2v1h-2zM67 156h1v1h-1zM82 156h1v1h-1zM87 156h1v1h-1zM93 156h2v1h-2zM98 156h3v1h-3zM103 156h1v1h-1zM106 156h1v1h-1zM109 156h3v1h-3zM113 156h2v1h-2zM117 156h1v1h-1zM119 156h4v1h-4zM125 156h1v1h-1zM129 156h4v1h-4zM137 156h1v1h-1zM139 156h1v1h-1zM141 156h1v1h-1zM23 157h27v1h-27zM54 157h4v1h-4zM76 157h1v1h-1zM83 157h1v1h-1zM86 157h1v1h-1zM99 157h1v1h-1zM104 157h1v1h-1zM106 157h5v1h-5zM112 157h8v1h-8zM122 157h1v1h-1zM124 157h3v1h-3zM128 157h3v1h-3zM132 157h1v1h-1zM135 157h1v1h-1zM137 157h1v1h-1zM16 158h1v1h-1zM22 158h1v1h-1zM24 158h1v1h-1zM27 158h26v1h-26zM54 158h1v1h-1zM61 158h2v1h-2zM78 158h1v1h-1zM84 158h1v1h-1zM96 158h2v1h-2zM102 158h1v1h-1zM106 158h1v1h-1zM108 158h1v1h-1zM110 158h4v1h-4zM117 158h2v1h-2zM120 158h3v1h-3zM124 158h1v1h-1zM126 158h2v1h-2zM129 158h2v1h-2zM132 158h1v1h-1zM134 158h1v1h-1zM140 158h1v1h-1zM145 158h1v1h-1zM19 159h1v1h-1zM25 159h1v1h-1zM27 159h16v1h-16zM44 159h8v1h-8zM53 159h1v1h-1zM58 159h2v1h-2zM62 159h1v1h-1zM67 159h1v1h-1zM97 159h1v1h-1zM100 159h1v1h-1zM103 159h1v1h-1zM107 159h2v1h-2zM113 159h1v1h-1zM115 159h9v1h-9zM126 159h2v1h-2zM129 159h1v1h-1zM131 159h2v1h-2zM134 159h1v1h-1zM139 159h1v1h-1zM144 159h1v1h-1zM21 160h1v1h-1zM23 160h1v1h-1zM25 160h7v1h-7zM33 160h18v1h-18zM53 160h1v1h-1zM55 160h1v1h-1zM58 160h3v1h-3zM71 160h2v1h-2zM80 160h1v1h-1zM82 160h2v1h-2zM88 160h1v1h-1zM101 160h2v1h-2zM107 160h4v1h-4zM113 160h3v1h-3zM117 160h1v1h-1zM119 160h2v1h-2zM123 160h5v1h-5zM133 160h2v1h-2zM26 161h25v1h-25zM54 161h4v1h-4zM64 161h2v1h-2zM73 161h1v1h-1zM97 161h1v1h-1zM103 161h1v1h-1zM107 161h3v1h-3zM113 161h2v1h-2zM116 161h1v1h-1zM120 161h1v1h-1zM123 161h4v1h-4zM132 161h1v1h-1zM136 161h1v1h-1zM25 162h2v1h-2zM28 162h24v1h-24zM53 162h2v1h-2zM56 162h1v1h-1zM58 162h1v1h-1zM64 162h1v1h-1zM80 162h1v1h-1zM86 162h1v1h-1zM100 162h1v1h-1zM104 162h1v1h-1zM109 162h4v1h-4zM114 162h2v1h-2zM117 162h1v1h-1zM119 162h3v1h-3zM123 162h2v1h-2zM129 162h1v1h-1zM19 163h1v1h-1zM21 163h2v1h-2zM25 163h1v1h-1zM27 163h3v1h-3zM32 163h16v1h-16zM49 163h2v1h-2zM52 163h1v1h-1zM54 163h1v1h-1zM57 163h2v1h-2zM60 163h1v1h-1zM83 163h1v1h-1zM105 163h1v1h-1zM111 163h1v1h-1zM113 163h1v1h-1zM116 163h1v1h-1zM118 163h2v1h-2zM121 163h1v1h-1zM123 163h2v1h-2zM128 163h1v1h-1zM133 163h1v1h-1zM138 163h1v1h-1zM28 164h2v1h-2zM31 164h4v1h-4zM36 164h9v1h-9zM46 164h2v1h-2zM49 164h2v1h-2zM52 164h1v1h-1zM54 164h1v1h-1zM57 164h4v1h-4zM64 164h1v1h-1zM85 164h1v1h-1zM96 164h1v1h-1zM105 164h1v1h-1zM113 164h1v1h-1zM115 164h1v1h-1zM117 164h1v1h-1zM123 164h1v1h-1zM131 164h1v1h-1z" fill="#000" stroke="none" transform="translate(190.3,24.6) scale(0.75)"/></g>
<rect x="190.30" y="24.60" width="127.10" height="124.80" fill="none" stroke="#444" stroke-width="1"/>
<line x1="248.20" y1="24.60" x2="248.20" y2="149.40" stroke="#666" stroke-width="0.9" />
<line x1="190.30" y1="92.80" x2="317.40" y2="92.80" stroke="#666" stroke-width="0.9" />
<text x="300.80" y="35.70" font-size="9.4" text-anchor="start" fill="#000" textLength="12.20" lengthAdjust="spacingAndGlyphs" >5.1</text>
<line x1="187.30" y1="35.20" x2="190.30" y2="35.20" stroke="#222" stroke-width="1.0" />
<text x="179.40" y="38.50" font-size="9.6" text-anchor="middle" textLength="9.80" lengthAdjust="spacingAndGlyphs">10<tspan font-size="6.91" dy="-3.4">5</tspan></text>
<line x1="187.30" y1="62.60" x2="190.30" y2="62.60" stroke="#222" stroke-width="1.0" />
<text x="179.40" y="65.90" font-size="9.6" text-anchor="middle" textLength="9.80" lengthAdjust="spacingAndGlyphs">10<tspan font-size="6.91" dy="-3.4">4</tspan></text>
<line x1="187.30" y1="92.20" x2="190.30" y2="92.20" stroke="#222" stroke-width="1.0" />
<text x="179.40" y="95.50" font-size="9.6" text-anchor="middle" textLength="9.80" lengthAdjust="spacingAndGlyphs">10<tspan font-size="6.91" dy="-3.4">3</tspan></text>
<line x1="187.30" y1="122.80" x2="190.30" y2="122.80" stroke="#222" stroke-width="1.0" />
<text x="179.40" y="126.10" font-size="9.6" text-anchor="middle" textLength="9.80" lengthAdjust="spacingAndGlyphs">10<tspan font-size="6.91" dy="-3.4">2</tspan></text>
<text x="181.40" y="139.80" font-size="9.6" text-anchor="middle" fill="#000" textLength="4.80" lengthAdjust="spacingAndGlyphs" >0</text>
<line x1="187.30" y1="137.00" x2="190.30" y2="137.00" stroke="#222" stroke-width="1.0" />
<line x1="188.70" y1="113.59" x2="190.30" y2="113.59" stroke="#333" stroke-width="0.8" />
<line x1="188.70" y1="108.20" x2="190.30" y2="108.20" stroke="#333" stroke-width="0.8" />
<line x1="188.70" y1="104.38" x2="190.30" y2="104.38" stroke="#333" stroke-width="0.8" />
<line x1="188.70" y1="101.41" x2="190.30" y2="101.41" stroke="#333" stroke-width="0.8" />
<line x1="188.70" y1="98.99" x2="190.30" y2="98.99" stroke="#333" stroke-width="0.8" />
<line x1="188.70" y1="96.94" x2="190.30" y2="96.94" stroke="#333" stroke-width="0.8" />
<line x1="188.70" y1="95.17" x2="190.30" y2="95.17" stroke="#333" stroke-width="0.8" />
<line x1="188.70" y1="93.60" x2="190.30" y2="93.60" stroke="#333" stroke-width="0.8" />
<line x1="188.70" y1="83.29" x2="190.30" y2="83.29" stroke="#333" stroke-width="0.8" />
<line x1="188.70" y1="78.08" x2="190.30" y2="78.08" stroke="#333" stroke-width="0.8" />
<line x1="188.70" y1="74.38" x2="190.30" y2="74.38" stroke="#333" stroke-width="0.8" />
<line x1="188.70" y1="71.51" x2="190.30" y2="71.51" stroke="#333" stroke-width="0.8" />
<line x1="188.70" y1="69.17" x2="190.30" y2="69.17" stroke="#333" stroke-width="0.8" />
<line x1="188.70" y1="67.19" x2="190.30" y2="67.19" stroke="#333" stroke-width="0.8" />
<line x1="188.70" y1="65.47" x2="190.30" y2="65.47" stroke="#333" stroke-width="0.8" />
<line x1="188.70" y1="63.95" x2="190.30" y2="63.95" stroke="#333" stroke-width="0.8" />
<line x1="188.70" y1="54.35" x2="190.30" y2="54.35" stroke="#333" stroke-width="0.8" />
<line x1="188.70" y1="49.53" x2="190.30" y2="49.53" stroke="#333" stroke-width="0.8" />
<line x1="188.70" y1="46.10" x2="190.30" y2="46.10" stroke="#333" stroke-width="0.8" />
<line x1="188.70" y1="43.45" x2="190.30" y2="43.45" stroke="#333" stroke-width="0.8" />
<line x1="188.70" y1="41.28" x2="190.30" y2="41.28" stroke="#333" stroke-width="0.8" />
<line x1="188.70" y1="39.44" x2="190.30" y2="39.44" stroke="#333" stroke-width="0.8" />
<line x1="188.70" y1="37.86" x2="190.30" y2="37.86" stroke="#333" stroke-width="0.8" />
<line x1="188.70" y1="36.45" x2="190.30" y2="36.45" stroke="#333" stroke-width="0.8" />
<line x1="188.70" y1="126.00" x2="190.30" y2="126.00" stroke="#333" stroke-width="0.8" />
<line x1="188.70" y1="128.60" x2="190.30" y2="128.60" stroke="#333" stroke-width="0.8" />
<line x1="188.70" y1="131.00" x2="190.30" y2="131.00" stroke="#333" stroke-width="0.8" />
<line x1="188.70" y1="133.00" x2="190.30" y2="133.00" stroke="#333" stroke-width="0.8" />
<line x1="188.70" y1="135.00" x2="190.30" y2="135.00" stroke="#333" stroke-width="0.8" />
<line x1="188.70" y1="139.40" x2="190.30" y2="139.40" stroke="#333" stroke-width="0.8" />
<line x1="188.70" y1="141.60" x2="190.30" y2="141.60" stroke="#333" stroke-width="0.8" />
<line x1="188.70" y1="143.60" x2="190.30" y2="143.60" stroke="#333" stroke-width="0.8" />
<line x1="188.70" y1="145.40" x2="190.30" y2="145.40" stroke="#333" stroke-width="0.8" />
<line x1="188.70" y1="147.00" x2="190.30" y2="147.00" stroke="#333" stroke-width="0.8" />
<line x1="204.40" y1="149.40" x2="204.40" y2="152.40" stroke="#222" stroke-width="1.0" />
<line x1="217.20" y1="149.40" x2="217.20" y2="152.40" stroke="#222" stroke-width="1.0" />
<line x1="249.00" y1="149.40" x2="249.00" y2="152.40" stroke="#222" stroke-width="1.0" />
<line x1="278.20" y1="149.40" x2="278.20" y2="152.40" stroke="#222" stroke-width="1.0" />
<line x1="306.20" y1="149.40" x2="306.20" y2="152.40" stroke="#222" stroke-width="1.0" />
<line x1="226.77" y1="149.40" x2="226.77" y2="151.00" stroke="#333" stroke-width="0.8" />
<line x1="232.37" y1="149.40" x2="232.37" y2="151.00" stroke="#333" stroke-width="0.8" />
<line x1="236.35" y1="149.40" x2="236.35" y2="151.00" stroke="#333" stroke-width="0.8" />
<line x1="239.43" y1="149.40" x2="239.43" y2="151.00" stroke="#333" stroke-width="0.8" />
<line x1="241.95" y1="149.40" x2="241.95" y2="151.00" stroke="#333" stroke-width="0.8" />
<line x1="244.07" y1="149.40" x2="244.07" y2="151.00" stroke="#333" stroke-width="0.8" />
<line x1="245.92" y1="149.40" x2="245.92" y2="151.00" stroke="#333" stroke-width="0.8" />
<line x1="247.54" y1="149.40" x2="247.54" y2="151.00" stroke="#333" stroke-width="0.8" />
<line x1="257.79" y1="149.40" x2="257.79" y2="151.00" stroke="#333" stroke-width="0.8" />
<line x1="262.93" y1="149.40" x2="262.93" y2="151.00" stroke="#333" stroke-width="0.8" />
<line x1="266.58" y1="149.40" x2="266.58" y2="151.00" stroke="#333" stroke-width="0.8" />
<line x1="269.41" y1="149.40" x2="269.41" y2="151.00" stroke="#333" stroke-width="0.8" />
<line x1="271.72" y1="149.40" x2="271.72" y2="151.00" stroke="#333" stroke-width="0.8" />
<line x1="273.68" y1="149.40" x2="273.68" y2="151.00" stroke="#333" stroke-width="0.8" />
<line x1="275.37" y1="149.40" x2="275.37" y2="151.00" stroke="#333" stroke-width="0.8" />
<line x1="276.86" y1="149.40" x2="276.86" y2="151.00" stroke="#333" stroke-width="0.8" />
<line x1="286.63" y1="149.40" x2="286.63" y2="151.00" stroke="#333" stroke-width="0.8" />
<line x1="291.56" y1="149.40" x2="291.56" y2="151.00" stroke="#333" stroke-width="0.8" />
<line x1="295.06" y1="149.40" x2="295.06" y2="151.00" stroke="#333" stroke-width="0.8" />
<line x1="297.77" y1="149.40" x2="297.77" y2="151.00" stroke="#333" stroke-width="0.8" />
<line x1="299.99" y1="149.40" x2="299.99" y2="151.00" stroke="#333" stroke-width="0.8" />
<line x1="301.86" y1="149.40" x2="301.86" y2="151.00" stroke="#333" stroke-width="0.8" />
<line x1="303.49" y1="149.40" x2="303.49" y2="151.00" stroke="#333" stroke-width="0.8" />
<line x1="304.92" y1="149.40" x2="304.92" y2="151.00" stroke="#333" stroke-width="0.8" />
<line x1="193.90" y1="149.40" x2="193.90" y2="151.00" stroke="#333" stroke-width="0.8" />
<line x1="195.80" y1="149.40" x2="195.80" y2="151.00" stroke="#333" stroke-width="0.8" />
<line x1="197.40" y1="149.40" x2="197.40" y2="151.00" stroke="#333" stroke-width="0.8" />
<line x1="199.00" y1="149.40" x2="199.00" y2="151.00" stroke="#333" stroke-width="0.8" />
<line x1="200.60" y1="149.40" x2="200.60" y2="151.00" stroke="#333" stroke-width="0.8" />
<line x1="202.20" y1="149.40" x2="202.20" y2="151.00" stroke="#333" stroke-width="0.8" />
<line x1="206.60" y1="149.40" x2="206.60" y2="151.00" stroke="#333" stroke-width="0.8" />
<line x1="208.60" y1="149.40" x2="208.60" y2="151.00" stroke="#333" stroke-width="0.8" />
<line x1="210.60" y1="149.40" x2="210.60" y2="151.00" stroke="#333" stroke-width="0.8" />
<line x1="212.40" y1="149.40" x2="212.40" y2="151.00" stroke="#333" stroke-width="0.8" />
<line x1="214.00" y1="149.40" x2="214.00" y2="151.00" stroke="#333" stroke-width="0.8" />
<line x1="215.40" y1="149.40" x2="215.40" y2="151.00" stroke="#333" stroke-width="0.8" />
<line x1="314.80" y1="149.40" x2="314.80" y2="151.00" stroke="#333" stroke-width="0.8" />
<text x="204.70" y="164.40" font-size="9.6" text-anchor="middle" fill="#000" textLength="4.80" lengthAdjust="spacingAndGlyphs" >0</text>
<text x="217.60" y="164.40" font-size="9.6" text-anchor="middle" textLength="9.80" lengthAdjust="spacingAndGlyphs">10<tspan font-size="6.91" dy="-3.4">2</tspan></text>
<text x="249.40" y="164.40" font-size="9.6" text-anchor="middle" textLength="9.80" lengthAdjust="spacingAndGlyphs">10<tspan font-size="6.91" dy="-3.4">3</tspan></text>
<text x="278.60" y="164.40" font-size="9.6" text-anchor="middle" textLength="9.80" lengthAdjust="spacingAndGlyphs">10<tspan font-size="6.91" dy="-3.4">4</tspan></text>
<text x="306.60" y="164.40" font-size="9.6" text-anchor="middle" textLength="9.80" lengthAdjust="spacingAndGlyphs">10<tspan font-size="6.91" dy="-3.4">5</tspan></text>
<text x="396.80" y="12.40" font-size="13.7" text-anchor="start" fill="#000" textLength="105.00" lengthAdjust="spacingAndGlyphs" >c-Kit<tspan font-size="7.6" dy="-3.6">+</tspan><tspan dy="3.6">GFP</tspan><tspan font-size="7.6" dy="-3.6">+</tspan><tspan dy="3.6"> fraction</tspan></text>
<rect x="410.30" y="114.45" width="22.30" height="45.95" fill="#fff" stroke="#000" stroke-width="1"/>
<line x1="421.50" y1="108.40" x2="421.50" y2="114.45" stroke="#000" stroke-width="1.6" />
<line x1="418.50" y1="108.80" x2="424.50" y2="108.80" stroke="#000" stroke-width="2.0" />
<rect x="443.50" y="65.60" width="22.10" height="94.80" fill="#b3b3b3" stroke="#000" stroke-width="1"/>
<line x1="454.60" y1="61.60" x2="454.60" y2="65.60" stroke="#000" stroke-width="1.6" />
<line x1="451.60" y1="62.00" x2="457.60" y2="62.00" stroke="#000" stroke-width="2.0" />
<rect x="477.00" y="43.80" width="22.20" height="116.60" fill="#000" stroke="#000" stroke-width="1"/>
<line x1="488.10" y1="38.80" x2="488.10" y2="43.80" stroke="#000" stroke-width="1.6" />
<line x1="485.10" y1="39.20" x2="491.10" y2="39.20" stroke="#000" stroke-width="2.0" />
<line x1="392.80" y1="26.20" x2="392.80" y2="161.50" stroke="#000" stroke-width="2.3" />
<line x1="391.70" y1="160.40" x2="516.50" y2="160.40" stroke="#000" stroke-width="2.3" />
<line x1="388.60" y1="160.40" x2="392.80" y2="160.40" stroke="#000" stroke-width="1.8" />
<text x="380.80" y="165.20" font-size="11" text-anchor="end" fill="#000" >0</text>
<line x1="388.60" y1="138.20" x2="392.80" y2="138.20" stroke="#000" stroke-width="1.8" />
<text x="380.80" y="143.00" font-size="11" text-anchor="end" fill="#000" >1</text>
<line x1="388.60" y1="116.00" x2="392.80" y2="116.00" stroke="#000" stroke-width="1.8" />
<text x="380.80" y="120.80" font-size="11" text-anchor="end" fill="#000" >2</text>
<line x1="388.60" y1="93.80" x2="392.80" y2="93.80" stroke="#000" stroke-width="1.8" />
<text x="380.80" y="98.60" font-size="11" text-anchor="end" fill="#000" >3</text>
<line x1="388.60" y1="71.60" x2="392.80" y2="71.60" stroke="#000" stroke-width="1.8" />
<text x="380.80" y="76.40" font-size="11" text-anchor="end" fill="#000" >4</text>
<line x1="388.60" y1="49.40" x2="392.80" y2="49.40" stroke="#000" stroke-width="1.8" />
<text x="380.80" y="54.20" font-size="11" text-anchor="end" fill="#000" >5</text>
<line x1="388.60" y1="27.20" x2="392.80" y2="27.20" stroke="#000" stroke-width="1.8" />
<text x="380.80" y="32.00" font-size="11" text-anchor="end" fill="#000" >6</text>
<text transform="translate(366.20,89.70) rotate(-90)" x="0" y="0" font-size="12.6" text-anchor="middle" textLength="85.40" lengthAdjust="spacingAndGlyphs">cell number (%)</text>
<path d="M416.00 57.50 V54.70 Q416.00 53.00 417.70 53.00 H452.70 Q454.40 53.00 454.40 54.70 V57.50" fill="none" stroke="#000" stroke-width="1.15" />
<path d="M417.20 35.40 V31.70 Q417.20 30.00 418.90 30.00 H486.30 Q488.00 30.00 488.00 31.70 V35.40" fill="none" stroke="#000" stroke-width="1.15" />
<text x="436.00" y="54.20" font-size="10" text-anchor="middle" fill="#000" textLength="11.50" lengthAdjust="spacingAndGlyphs" >***</text>
<text x="451.30" y="30.60" font-size="10" text-anchor="middle" fill="#000" textLength="11.50" lengthAdjust="spacingAndGlyphs" >***</text>
<text x="410.00" y="174.20" font-size="10.6" text-anchor="start" fill="#000" textLength="20.50" lengthAdjust="spacingAndGlyphs" >G1B-</text>
<text x="410.00" y="184.20" font-size="10.6" text-anchor="start" fill="#000" textLength="15.50" lengthAdjust="spacingAndGlyphs" >GFP</text>
<text x="439.80" y="174.20" font-size="10.6" text-anchor="start" fill="#000" textLength="31.80" lengthAdjust="spacingAndGlyphs" >MG-GFP</text>
<text x="440.20" y="184.20" font-size="10.6" text-anchor="start" fill="#000" textLength="26.50" lengthAdjust="spacingAndGlyphs" >line 19</text>
<text x="474.60" y="174.20" font-size="10.6" text-anchor="start" fill="#000" textLength="31.80" lengthAdjust="spacingAndGlyphs" >MG-GFP</text>
<text x="475.00" y="184.20" font-size="10.6" text-anchor="start" fill="#000" textLength="26.50" lengthAdjust="spacingAndGlyphs" >line 20</text>
<text x="52.60" y="210.90" font-size="13.5" text-anchor="start" fill="#000" textLength="54.00" lengthAdjust="spacingAndGlyphs" >c-Kit<tspan font-size="7.6" dy="-3.6">+</tspan><tspan dy="3.6"> cell</tspan></text>
<rect x="42.70" y="336.05" width="20.50" height="36.95" fill="#fff" stroke="#000" stroke-width="1"/>
<line x1="53.00" y1="334.40" x2="53.00" y2="336.05" stroke="#000" stroke-width="1.6" />
<line x1="50.00" y1="334.80" x2="56.00" y2="334.80" stroke="#000" stroke-width="2.0" />
<rect x="73.30" y="282.60" width="20.50" height="90.40" fill="#b3b3b3" stroke="#000" stroke-width="1"/>
<line x1="83.60" y1="254.50" x2="83.60" y2="282.60" stroke="#000" stroke-width="1.6" />
<line x1="80.40" y1="254.90" x2="86.80" y2="254.90" stroke="#000" stroke-width="2.0" />
<rect x="103.80" y="271.80" width="20.60" height="101.20" fill="#000" stroke="#000" stroke-width="1"/>
<line x1="114.30" y1="232.40" x2="114.30" y2="271.80" stroke="#000" stroke-width="1.6" />
<line x1="111.10" y1="232.80" x2="117.50" y2="232.80" stroke="#000" stroke-width="2.0" />
<line x1="37.60" y1="224.20" x2="37.60" y2="374.10" stroke="#000" stroke-width="2.2" />
<line x1="33.20" y1="373.00" x2="126.30" y2="373.00" stroke="#000" stroke-width="2.2" />
<line x1="33.80" y1="373.00" x2="37.60" y2="373.00" stroke="#000" stroke-width="1.7" />
<text x="26.00" y="377.60" font-size="11.8" text-anchor="end" fill="#000" textLength="5.70" lengthAdjust="spacingAndGlyphs" >0</text>
<line x1="33.80" y1="336.05" x2="37.60" y2="336.05" stroke="#000" stroke-width="1.7" />
<text x="26.00" y="340.65" font-size="11.8" text-anchor="end" fill="#000" textLength="5.70" lengthAdjust="spacingAndGlyphs" >1</text>
<line x1="33.80" y1="299.10" x2="37.60" y2="299.10" stroke="#000" stroke-width="1.7" />
<text x="26.00" y="303.70" font-size="11.8" text-anchor="end" fill="#000" textLength="5.70" lengthAdjust="spacingAndGlyphs" >2</text>
<line x1="33.80" y1="262.15" x2="37.60" y2="262.15" stroke="#000" stroke-width="1.7" />
<text x="26.00" y="266.75" font-size="11.8" text-anchor="end" fill="#000" textLength="5.70" lengthAdjust="spacingAndGlyphs" >3</text>
<line x1="33.80" y1="225.20" x2="37.60" y2="225.20" stroke="#000" stroke-width="1.7" />
<text x="26.00" y="229.80" font-size="11.8" text-anchor="end" fill="#000" textLength="5.70" lengthAdjust="spacingAndGlyphs" >4</text>
<text transform="translate(13.00,300.00) rotate(-90)" x="0" y="0" font-size="12.6" text-anchor="middle" textLength="117.00" lengthAdjust="spacingAndGlyphs">Relative GFP intensity</text>
<path d="M49.30 251.40 V248.50 Q49.30 246.80 51.00 246.80 H82.00 Q83.70 246.80 83.70 248.50 V251.40" fill="none" stroke="#000" stroke-width="1.15" />
<path d="M49.30 228.90 V226.20 Q49.30 224.50 51.00 224.50 H112.70 Q114.40 224.50 114.40 226.20 V228.90" fill="none" stroke="#000" stroke-width="1.15" />
<text x="67.60" y="248.00" font-size="10" text-anchor="middle" fill="#000" textLength="11.20" lengthAdjust="spacingAndGlyphs" >***</text>
<text x="81.80" y="224.80" font-size="10" text-anchor="middle" fill="#000" textLength="11.20" lengthAdjust="spacingAndGlyphs" >***</text>
<text x="43.30" y="386.30" font-size="11.2" text-anchor="start" fill="#000" textLength="19.20" lengthAdjust="spacingAndGlyphs" >G1B-</text>
<text x="43.30" y="397.10" font-size="11.2" text-anchor="start" fill="#000" textLength="14.30" lengthAdjust="spacingAndGlyphs" >GFP</text>
<text x="68.30" y="386.30" font-size="11.2" text-anchor="start" fill="#000" textLength="33.00" lengthAdjust="spacingAndGlyphs" >MG-GFP</text>
<text x="68.80" y="397.10" font-size="11.2" text-anchor="start" fill="#000" textLength="26.70" lengthAdjust="spacingAndGlyphs" >line 19</text>
<text x="105.00" y="386.30" font-size="11.2" text-anchor="start" fill="#000" textLength="33.00" lengthAdjust="spacingAndGlyphs" >MG-GFP</text>
<text x="105.50" y="397.10" font-size="11.2" text-anchor="start" fill="#000" textLength="26.50" lengthAdjust="spacingAndGlyphs" >line 20</text>
<text x="176.60" y="210.90" font-size="13.5" text-anchor="start" fill="#000" textLength="53.40" lengthAdjust="spacingAndGlyphs" >c-Kit<tspan font-size="8.4" dy="-4.0">&#8722;</tspan><tspan dy="4.0"> cell</tspan></text>
<rect x="156.80" y="335.00" width="20.20" height="37.10" fill="#fff" stroke="#000" stroke-width="1"/>
<line x1="166.90" y1="333.10" x2="166.90" y2="335.00" stroke="#000" stroke-width="1.6" />
<line x1="163.90" y1="333.50" x2="169.90" y2="333.50" stroke="#000" stroke-width="2.0" />
<rect x="187.00" y="336.30" width="20.00" height="35.80" fill="#b3b3b3" stroke="#000" stroke-width="1"/>
<line x1="197.00" y1="308.00" x2="197.00" y2="336.30" stroke="#000" stroke-width="1.6" />
<line x1="193.80" y1="308.40" x2="200.20" y2="308.40" stroke="#000" stroke-width="2.0" />
<rect x="217.00" y="329.30" width="20.50" height="42.80" fill="#000" stroke="#000" stroke-width="1"/>
<line x1="227.40" y1="290.60" x2="227.40" y2="329.30" stroke="#000" stroke-width="1.6" />
<line x1="224.20" y1="291.00" x2="230.60" y2="291.00" stroke="#000" stroke-width="2.0" />
<line x1="151.80" y1="221.00" x2="151.80" y2="373.20" stroke="#000" stroke-width="2.2" />
<line x1="148.00" y1="372.10" x2="242.50" y2="372.10" stroke="#000" stroke-width="2.2" />
<line x1="148.00" y1="372.10" x2="151.80" y2="372.10" stroke="#000" stroke-width="1.7" />
<text x="140.60" y="375.80" font-size="11.8" text-anchor="end" fill="#000" textLength="5.70" lengthAdjust="spacingAndGlyphs" >0</text>
<line x1="148.00" y1="334.90" x2="151.80" y2="334.90" stroke="#000" stroke-width="1.7" />
<text x="140.60" y="338.60" font-size="11.8" text-anchor="end" fill="#000" textLength="5.70" lengthAdjust="spacingAndGlyphs" >1</text>
<line x1="148.00" y1="297.70" x2="151.80" y2="297.70" stroke="#000" stroke-width="1.7" />
<text x="140.60" y="301.40" font-size="11.8" text-anchor="end" fill="#000" textLength="5.70" lengthAdjust="spacingAndGlyphs" >2</text>
<line x1="148.00" y1="260.50" x2="151.80" y2="260.50" stroke="#000" stroke-width="1.7" />
<text x="140.60" y="264.20" font-size="11.8" text-anchor="end" fill="#000" textLength="5.70" lengthAdjust="spacingAndGlyphs" >3</text>
<line x1="148.00" y1="223.30" x2="151.80" y2="223.30" stroke="#000" stroke-width="1.7" />
<text x="140.60" y="227.00" font-size="11.8" text-anchor="end" fill="#000" textLength="5.70" lengthAdjust="spacingAndGlyphs" >4</text>
<path d="M163.80 303.80 V300.50 Q163.80 298.80 165.50 298.80 H194.60 Q196.30 298.80 196.30 300.50 V304.20" fill="none" stroke="#000" stroke-width="1.15" />
<path d="M164.30 275.00 V271.00 Q164.30 269.30 166.00 269.30 H226.30 Q228.00 269.30 228.00 271.00 V275.00" fill="none" stroke="#000" stroke-width="1.15" />
<text x="173.00" y="293.00" font-size="12.6" text-anchor="start" fill="#000" textLength="16.70" lengthAdjust="spacingAndGlyphs" >n.s.</text>
<text x="189.50" y="265.00" font-size="12.6" text-anchor="start" fill="#000" textLength="16.70" lengthAdjust="spacingAndGlyphs" >n.s.</text>
<text x="158.50" y="385.10" font-size="11.2" text-anchor="start" fill="#000" textLength="18.50" lengthAdjust="spacingAndGlyphs" >G1B-</text>
<text x="158.50" y="395.20" font-size="11.2" text-anchor="start" fill="#000" textLength="13.00" lengthAdjust="spacingAndGlyphs" >GFP</text>
<text x="181.50" y="385.10" font-size="11.2" text-anchor="start" fill="#000" textLength="32.30" lengthAdjust="spacingAndGlyphs" >MG-GFP</text>
<text x="181.80" y="395.20" font-size="11.2" text-anchor="start" fill="#000" textLength="26.30" lengthAdjust="spacingAndGlyphs" >line 19</text>
<text x="218.50" y="385.10" font-size="11.2" text-anchor="start" fill="#000" textLength="32.00" lengthAdjust="spacingAndGlyphs" >MG-GFP</text>
<text x="218.80" y="395.20" font-size="11.2" text-anchor="start" fill="#000" textLength="26.30" lengthAdjust="spacingAndGlyphs" >line 20</text>
<line x1="296.80" y1="221.00" x2="296.80" y2="375.70" stroke="#000" stroke-width="2.2" />
<line x1="294.20" y1="374.60" x2="517.00" y2="374.60" stroke="#000" stroke-width="2.2" />
<line x1="293.80" y1="374.60" x2="296.80" y2="374.60" stroke="#000" stroke-width="1.7" />
<text x="287.20" y="379.70" font-size="10.8" text-anchor="end" fill="#000" textLength="5.20" lengthAdjust="spacingAndGlyphs" >1</text>
<line x1="293.80" y1="323.65" x2="296.80" y2="323.65" stroke="#000" stroke-width="1.7" />
<text x="287.20" y="328.55" font-size="10.8" text-anchor="end" fill="#000" textLength="10.60" lengthAdjust="spacingAndGlyphs" >10</text>
<line x1="293.80" y1="272.70" x2="296.80" y2="272.70" stroke="#000" stroke-width="1.7" />
<text x="287.20" y="277.60" font-size="10.8" text-anchor="end" fill="#000" textLength="16.20" lengthAdjust="spacingAndGlyphs" >100</text>
<line x1="293.80" y1="221.75" x2="296.80" y2="221.75" stroke="#000" stroke-width="1.7" />
<text x="287.20" y="226.65" font-size="10.8" text-anchor="end" fill="#000" textLength="21.80" lengthAdjust="spacingAndGlyphs" >1000</text>
<text transform="translate(266.20,300.00) rotate(-90)" x="0" y="0" font-size="12.6" text-anchor="middle" textLength="117.00" lengthAdjust="spacingAndGlyphs">Relative GFP intensity</text>
<path d="M313.30 292.00 C321.54 295.41 327.61 305.44 344.20 304.80 C360.79 304.16 358.67 299.07 375.50 289.60 C392.33 280.13 390.47 273.30 407.30 269.30 C424.13 265.30 421.93 267.59 438.60 274.60 C455.27 281.61 453.16 284.91 469.80 295.60 C486.44 306.29 492.68 309.61 501.00 314.70" fill="none" stroke="#a9a9a9" stroke-width="2.2" />
<path d="M313.30 375.00 C320.72 365.30 329.27 351.04 344.20 334.60 C359.13 318.16 360.36 322.96 375.50 306.50 C390.64 290.04 392.16 274.76 407.30 266.00 C422.44 257.24 423.60 263.69 438.60 270.00 C453.60 276.31 454.82 282.94 469.80 292.30 C484.78 301.66 493.51 304.99 501.00 309.00" fill="none" stroke="#000" stroke-width="2.3" stroke-dasharray="6.4 3.2"/>
<path d="M313.30 297.80 C321.54 299.99 327.61 308.29 344.20 306.00 C360.79 303.71 358.67 297.73 375.50 289.20 C392.33 280.67 390.47 276.77 407.30 274.00 C424.13 271.23 421.93 272.08 438.60 278.80 C455.27 285.52 453.16 289.97 469.80 299.20 C486.44 308.43 492.68 309.61 501.00 313.40" fill="none" stroke="#000" stroke-width="2.5" />
<line x1="375.70" y1="297.40" x2="375.70" y2="306.00" stroke="#000" stroke-width="1.6" />
<line x1="373.20" y1="297.80" x2="378.20" y2="297.80" stroke="#000" stroke-width="2.0" />
<line x1="375.70" y1="306.00" x2="375.70" y2="315.60" stroke="#000" stroke-width="1" />
<line x1="373.20" y1="315.60" x2="378.20" y2="315.60" stroke="#000" stroke-width="1" />
<line x1="344.20" y1="334.00" x2="344.20" y2="342.00" stroke="#000" stroke-width="1" />
<line x1="375.50" y1="281.80" x2="375.50" y2="284.00" stroke="#000" stroke-width="1" />
<line x1="372.00" y1="281.80" x2="379.00" y2="281.80" stroke="#000" stroke-width="1.2" />
<path d="M313.30 369.40 L318.70 375.00 L313.30 380.60 L307.90 375.00 Z" fill="#fff" stroke="#000" stroke-width="1.4" />
<path d="M344.20 329.00 L349.60 334.60 L344.20 340.20 L338.80 334.60 Z" fill="#fff" stroke="#000" stroke-width="1.4" />
<path d="M375.50 300.90 L380.90 306.50 L375.50 312.10 L370.10 306.50 Z" fill="#fff" stroke="#000" stroke-width="1.4" />
<path d="M407.30 260.40 L412.70 266.00 L407.30 271.60 L401.90 266.00 Z" fill="#fff" stroke="#000" stroke-width="1.4" />
<path d="M438.60 264.40 L444.00 270.00 L438.60 275.60 L433.20 270.00 Z" fill="#fff" stroke="#000" stroke-width="1.4" />
<path d="M469.80 286.70 L475.20 292.30 L469.80 297.90 L464.40 292.30 Z" fill="#fff" stroke="#000" stroke-width="1.4" />
<path d="M501.00 303.40 L506.40 309.00 L501.00 314.60 L495.60 309.00 Z" fill="#fff" stroke="#000" stroke-width="1.4" />
<rect x="307.80" y="286.50" width="11.00" height="11.00" fill="#9c9c9c" stroke="#000" stroke-width="1.4"/>
<rect x="338.70" y="299.30" width="11.00" height="11.00" fill="#9c9c9c" stroke="#000" stroke-width="1.4"/>
<rect x="370.00" y="284.10" width="11.00" height="11.00" fill="#9c9c9c" stroke="#000" stroke-width="1.4"/>
<rect x="401.80" y="263.80" width="11.00" height="11.00" fill="#9c9c9c" stroke="#000" stroke-width="1.4"/>
<rect x="433.10" y="269.10" width="11.00" height="11.00" fill="#9c9c9c" stroke="#000" stroke-width="1.4"/>
<rect x="464.30" y="290.10" width="11.00" height="11.00" fill="#9c9c9c" stroke="#000" stroke-width="1.4"/>
<rect x="495.50" y="309.20" width="11.00" height="11.00" fill="#9c9c9c" stroke="#000" stroke-width="1.4"/>
<path d="M313.30 290.60 L319.40 302.60 L307.20 302.60 Z" fill="#000" stroke="#000" stroke-width="0.6" />
<path d="M344.20 298.80 L350.30 310.80 L338.10 310.80 Z" fill="#000" stroke="#000" stroke-width="0.6" />
<path d="M375.50 282.00 L381.60 294.00 L369.40 294.00 Z" fill="#000" stroke="#000" stroke-width="0.6" />
<path d="M407.30 266.80 L413.40 278.80 L401.20 278.80 Z" fill="#000" stroke="#000" stroke-width="0.6" />
<path d="M438.60 271.60 L444.70 283.60 L432.50 283.60 Z" fill="#000" stroke="#000" stroke-width="0.6" />
<path d="M469.80 292.00 L475.90 304.00 L463.70 304.00 Z" fill="#000" stroke="#000" stroke-width="0.6" />
<path d="M501.00 306.20 L507.10 318.20 L494.90 318.20 Z" fill="#000" stroke="#000" stroke-width="0.6" />
<text x="313.80" y="285.20" font-size="10" text-anchor="middle" fill="#000" textLength="10.60" lengthAdjust="spacingAndGlyphs" >***</text>
<text x="343.80" y="295.80" font-size="10" text-anchor="middle" fill="#000" textLength="7.00" lengthAdjust="spacingAndGlyphs" >**</text>
<line x1="389.40" y1="330.30" x2="418.40" y2="330.30" stroke="#000" stroke-width="1.7" stroke-dasharray="4.6 2.4"/>
<path d="M403.80 327.40 L406.70 330.30 L403.80 333.20 L400.90 330.30 Z" fill="#fff" stroke="#000" stroke-width="1.0" />
<text x="421.70" y="334.00" font-size="10.5" text-anchor="start" fill="#000" textLength="35.60" lengthAdjust="spacingAndGlyphs" >G1B-GFP</text>
<line x1="389.40" y1="345.60" x2="418.40" y2="345.60" stroke="#a9a9a9" stroke-width="1.5" />
<rect x="400.80" y="342.60" width="6.00" height="6.00" fill="#9c9c9c" stroke="#000" stroke-width="1.3"/>
<text x="421.70" y="349.40" font-size="10.5" text-anchor="start" fill="#000" textLength="62.80" lengthAdjust="spacingAndGlyphs" >MG-GFP line 19</text>
<line x1="389.40" y1="361.20" x2="418.40" y2="361.20" stroke="#000" stroke-width="1.9" />
<path d="M403.80 357.00 L407.60 364.20 L400.00 364.20 Z" fill="#000" stroke="#000" stroke-width="0.6" />
<text x="421.70" y="365.00" font-size="10.5" text-anchor="start" fill="#000" textLength="62.80" lengthAdjust="spacingAndGlyphs" >MG-GFP line 20</text>
<text x="304.60" y="397.40" font-size="11.4" text-anchor="start" fill="#000" textLength="16.60" lengthAdjust="spacingAndGlyphs" >LSK</text>
<text x="333.80" y="397.40" font-size="11.4" text-anchor="start" fill="#000" textLength="20.60" lengthAdjust="spacingAndGlyphs" >CMP</text>
<text x="365.60" y="397.40" font-size="11.4" text-anchor="start" fill="#000" textLength="19.80" lengthAdjust="spacingAndGlyphs" >MEP</text>
<text x="394.00" y="397.40" font-size="11.4" text-anchor="start" fill="#000" textLength="26.40" lengthAdjust="spacingAndGlyphs" >CFU-E</text>
<text x="424.40" y="397.40" font-size="11.4" text-anchor="start" fill="#000" textLength="27.00" lengthAdjust="spacingAndGlyphs" >ProEB</text>
<text x="459.00" y="397.40" font-size="11.4" text-anchor="start" fill="#000" textLength="22.00" lengthAdjust="spacingAndGlyphs" >Baso</text>
<text x="491.70" y="397.40" font-size="11.4" text-anchor="start" fill="#000" textLength="18.40" lengthAdjust="spacingAndGlyphs" >Poly</text>
<rect x="54.30" y="441.30" width="8.70" height="8.70" fill="#000" stroke="#000" stroke-width="0.8"/>
<text x="68.20" y="450.20" font-size="12.4" text-anchor="start" fill="#000" textLength="44.40" lengthAdjust="spacingAndGlyphs" >G1B-GFP</text>
<rect x="150.4" y="441.4" width="8.2" height="8.4" fill="#b9b9b9" stroke="#4a4a4a" stroke-width="1.5"/>
<text x="166.80" y="450.20" font-size="12" text-anchor="start" fill="#000" textLength="76.60" lengthAdjust="spacingAndGlyphs" >MG-GFP line 20</text>
<rect x="59.60" y="590.80" width="20.40" height="14.60" fill="#000" stroke="#000" stroke-width="1"/>
<line x1="69.50" y1="588.00" x2="69.50" y2="590.80" stroke="#000" stroke-width="1.2" />
<line x1="66.80" y1="588.40" x2="72.20" y2="588.40" stroke="#000" stroke-width="1.6" />
<rect x="89.30" y="511.80" width="20.20" height="93.60" fill="#b3b3b3" stroke="#000" stroke-width="1"/>
<line x1="99.50" y1="492.40" x2="99.50" y2="511.80" stroke="#000" stroke-width="1.2" />
<line x1="96.80" y1="492.80" x2="102.20" y2="492.80" stroke="#000" stroke-width="1.6" />
<line x1="39.50" y1="457.60" x2="39.50" y2="606.50" stroke="#000" stroke-width="2.2" />
<line x1="36.20" y1="605.40" x2="128.80" y2="605.40" stroke="#000" stroke-width="2.2" />
<line x1="35.90" y1="605.40" x2="39.50" y2="605.40" stroke="#000" stroke-width="1.7" />
<text x="29.30" y="609.70" font-size="11.5" text-anchor="end" fill="#000" textLength="5.40" lengthAdjust="spacingAndGlyphs" >0</text>
<line x1="35.90" y1="590.70" x2="39.50" y2="590.70" stroke="#000" stroke-width="1.7" />
<text x="29.30" y="595.00" font-size="11.5" text-anchor="end" fill="#000" textLength="5.40" lengthAdjust="spacingAndGlyphs" >1</text>
<line x1="35.90" y1="576.00" x2="39.50" y2="576.00" stroke="#000" stroke-width="1.7" />
<text x="29.30" y="580.30" font-size="11.5" text-anchor="end" fill="#000" textLength="5.40" lengthAdjust="spacingAndGlyphs" >2</text>
<line x1="35.90" y1="561.30" x2="39.50" y2="561.30" stroke="#000" stroke-width="1.7" />
<text x="29.30" y="565.60" font-size="11.5" text-anchor="end" fill="#000" textLength="5.40" lengthAdjust="spacingAndGlyphs" >3</text>
<line x1="35.90" y1="546.60" x2="39.50" y2="546.60" stroke="#000" stroke-width="1.7" />
<text x="29.30" y="550.90" font-size="11.5" text-anchor="end" fill="#000" textLength="5.40" lengthAdjust="spacingAndGlyphs" >4</text>
<line x1="35.90" y1="531.90" x2="39.50" y2="531.90" stroke="#000" stroke-width="1.7" />
<text x="29.30" y="536.20" font-size="11.5" text-anchor="end" fill="#000" textLength="5.40" lengthAdjust="spacingAndGlyphs" >5</text>
<line x1="35.90" y1="517.20" x2="39.50" y2="517.20" stroke="#000" stroke-width="1.7" />
<text x="29.30" y="521.50" font-size="11.5" text-anchor="end" fill="#000" textLength="5.40" lengthAdjust="spacingAndGlyphs" >6</text>
<line x1="35.90" y1="502.50" x2="39.50" y2="502.50" stroke="#000" stroke-width="1.7" />
<text x="29.30" y="506.80" font-size="11.5" text-anchor="end" fill="#000" textLength="5.40" lengthAdjust="spacingAndGlyphs" >7</text>
<line x1="35.90" y1="487.80" x2="39.50" y2="487.80" stroke="#000" stroke-width="1.7" />
<text x="29.30" y="492.10" font-size="11.5" text-anchor="end" fill="#000" textLength="5.40" lengthAdjust="spacingAndGlyphs" >8</text>
<line x1="35.90" y1="473.10" x2="39.50" y2="473.10" stroke="#000" stroke-width="1.7" />
<text x="29.30" y="477.40" font-size="11.5" text-anchor="end" fill="#000" textLength="5.40" lengthAdjust="spacingAndGlyphs" >9</text>
<line x1="35.90" y1="458.40" x2="39.50" y2="458.40" stroke="#000" stroke-width="1.7" />
<text x="29.30" y="462.70" font-size="11.5" text-anchor="end" fill="#000" textLength="10.20" lengthAdjust="spacingAndGlyphs" >10</text>
<text transform="translate(13.20,529.20) rotate(-90)" x="0" y="0" font-size="12.6" text-anchor="middle" textLength="110.50" lengthAdjust="spacingAndGlyphs">Relative mRNA level</text>
<text x="100.40" y="493.20" font-size="10" text-anchor="middle" fill="#000" textLength="11.20" lengthAdjust="spacingAndGlyphs" >***</text>
<text x="55.30" y="623.20" font-size="12.4" text-anchor="start" fill="#000" textLength="61.20" lengthAdjust="spacingAndGlyphs" >LSK fraction</text>
<rect x="176.30" y="532.60" width="16.90" height="72.60" fill="#000" stroke="#000" stroke-width="1"/>
<line x1="185.00" y1="500.00" x2="185.00" y2="532.60" stroke="#000" stroke-width="1.2" />
<line x1="182.30" y1="500.40" x2="187.70" y2="500.40" stroke="#000" stroke-width="1.6" />
<rect x="202.60" y="542.00" width="16.80" height="63.20" fill="#b3b3b3" stroke="#000" stroke-width="1"/>
<line x1="210.70" y1="528.80" x2="210.70" y2="542.00" stroke="#000" stroke-width="1.2" />
<line x1="208.00" y1="529.20" x2="213.40" y2="529.20" stroke="#000" stroke-width="1.6" />
<line x1="158.80" y1="458.50" x2="158.80" y2="606.30" stroke="#000" stroke-width="2.2" />
<line x1="155.40" y1="605.20" x2="236.30" y2="605.20" stroke="#000" stroke-width="2.2" />
<line x1="155.20" y1="605.20" x2="158.80" y2="605.20" stroke="#000" stroke-width="1.7" />
<text x="148.60" y="609.60" font-size="11.5" text-anchor="end" fill="#000" textLength="5.40" lengthAdjust="spacingAndGlyphs" >0</text>
<line x1="155.20" y1="568.70" x2="158.80" y2="568.70" stroke="#000" stroke-width="1.7" />
<text x="148.60" y="573.10" font-size="11.5" text-anchor="end" fill="#000" textLength="14.20" lengthAdjust="spacingAndGlyphs" >0.5</text>
<line x1="155.20" y1="532.20" x2="158.80" y2="532.20" stroke="#000" stroke-width="1.7" />
<text x="148.60" y="536.60" font-size="11.5" text-anchor="end" fill="#000" textLength="5.40" lengthAdjust="spacingAndGlyphs" >1</text>
<line x1="155.20" y1="495.70" x2="158.80" y2="495.70" stroke="#000" stroke-width="1.7" />
<text x="148.60" y="500.10" font-size="11.5" text-anchor="end" fill="#000" textLength="14.20" lengthAdjust="spacingAndGlyphs" >1.5</text>
<line x1="155.20" y1="459.20" x2="158.80" y2="459.20" stroke="#000" stroke-width="1.7" />
<text x="148.60" y="463.60" font-size="11.5" text-anchor="end" fill="#000" textLength="5.40" lengthAdjust="spacingAndGlyphs" >2</text>
<text x="203.00" y="520.00" font-size="12.6" text-anchor="start" fill="#000" textLength="16.70" lengthAdjust="spacingAndGlyphs" >n.s.</text>
<text x="166.00" y="623.00" font-size="12.4" text-anchor="start" fill="#000" textLength="67.40" lengthAdjust="spacingAndGlyphs" >Basophilic EB</text>
<rect x="311.6" y="442.8" width="8.6" height="8.4" fill="#b9b9b9" stroke="#4a4a4a" stroke-width="1.5"/>
<text x="326.60" y="451.80" font-size="13.4" text-anchor="start" fill="#000" textLength="47.40" lengthAdjust="spacingAndGlyphs" >G1B-GFP</text>
<rect x="412.00" y="442.80" width="9.60" height="8.70" fill="#000" stroke="#000" stroke-width="0.6"/>
<text x="425.00" y="452.00" font-size="13.4" text-anchor="start" fill="#000" textLength="84.00" lengthAdjust="spacingAndGlyphs" >MG-GFP line 20</text>
<path d="M334.2 600.4 L338.0 597.0 L340.6 592.0 L343.1 576.8 L345.1 564.1 L346.9 559.5 L348.7 548.9 L350.7 526.0 L352.0 508.3 L353.0 497.4 L354.0 508.3 L355.3 521.0 L356.8 524.8 L358.3 536.2 L359.8 556.5 L361.6 574.2 L364.7 586.9 L368.5 593.3 L372.3 594.0 L376.0 597.0 L381.1 599.6 L386.2 600.4 Z" fill="#a6a6a6" stroke="#000" stroke-width="2.0" stroke-linejoin="round"/>
<path d="M434.6 600.4 L438.6 596.5 L440.6 586.4 L442.2 566.1 L443.4 546.3 L444.8 528.6 L446.8 518.5 L448.2 505.8 L450.0 503.2 L451.4 493.1 L452.6 488.0 L453.8 495.6 L455.3 509.6 L456.9 519.7 L458.6 515.4 L459.8 526.1 L460.9 551.4 L462.4 571.7 L464.3 586.9 L467.1 595.0 L471.5 598.6 L476.5 600.4 Z" fill="#000" stroke="#000" stroke-width="0.8" stroke-linejoin="round"/>
<rect x="311.90" y="461.90" width="200.40" height="138.50" fill="none" stroke="#777" stroke-width="1"/>
<line x1="311.90" y1="461.90" x2="311.90" y2="600.40" stroke="#333" stroke-width="1.1" />
<line x1="311.90" y1="600.40" x2="512.30" y2="600.40" stroke="#333" stroke-width="1.1" />
<line x1="307.30" y1="600.40" x2="311.90" y2="600.40" stroke="#333" stroke-width="0.9" />
<line x1="309.70" y1="593.48" x2="311.90" y2="593.48" stroke="#333" stroke-width="0.9" />
<line x1="309.70" y1="586.55" x2="311.90" y2="586.55" stroke="#333" stroke-width="0.9" />
<line x1="309.70" y1="579.62" x2="311.90" y2="579.62" stroke="#333" stroke-width="0.9" />
<line x1="307.30" y1="572.70" x2="311.90" y2="572.70" stroke="#333" stroke-width="0.9" />
<line x1="309.70" y1="565.77" x2="311.90" y2="565.77" stroke="#333" stroke-width="0.9" />
<line x1="309.70" y1="558.85" x2="311.90" y2="558.85" stroke="#333" stroke-width="0.9" />
<line x1="309.70" y1="551.92" x2="311.90" y2="551.92" stroke="#333" stroke-width="0.9" />
<line x1="307.30" y1="545.00" x2="311.90" y2="545.00" stroke="#333" stroke-width="0.9" />
<line x1="309.70" y1="538.07" x2="311.90" y2="538.07" stroke="#333" stroke-width="0.9" />
<line x1="309.70" y1="531.15" x2="311.90" y2="531.15" stroke="#333" stroke-width="0.9" />
<line x1="309.70" y1="524.23" x2="311.90" y2="524.23" stroke="#333" stroke-width="0.9" />
<line x1="307.30" y1="517.30" x2="311.90" y2="517.30" stroke="#333" stroke-width="0.9" />
<line x1="309.70" y1="510.38" x2="311.90" y2="510.38" stroke="#333" stroke-width="0.9" />
<line x1="309.70" y1="503.45" x2="311.90" y2="503.45" stroke="#333" stroke-width="0.9" />
<line x1="309.70" y1="496.52" x2="311.90" y2="496.52" stroke="#333" stroke-width="0.9" />
<line x1="307.30" y1="489.60" x2="311.90" y2="489.60" stroke="#333" stroke-width="0.9" />
<line x1="309.70" y1="482.67" x2="311.90" y2="482.67" stroke="#333" stroke-width="0.9" />
<line x1="309.70" y1="475.75" x2="311.90" y2="475.75" stroke="#333" stroke-width="0.9" />
<line x1="309.70" y1="468.82" x2="311.90" y2="468.82" stroke="#333" stroke-width="0.9" />
<line x1="307.30" y1="461.90" x2="311.90" y2="461.90" stroke="#333" stroke-width="0.9" />
<text x="300.20" y="605.80" font-size="10" text-anchor="end" fill="#000" >0</text>
<text x="300.20" y="578.10" font-size="10" text-anchor="end" fill="#000" textLength="10.20" lengthAdjust="spacingAndGlyphs" >10</text>
<text x="300.20" y="550.40" font-size="10" text-anchor="end" fill="#000" textLength="10.20" lengthAdjust="spacingAndGlyphs" >20</text>
<text x="300.20" y="522.70" font-size="10" text-anchor="end" fill="#000" textLength="10.20" lengthAdjust="spacingAndGlyphs" >30</text>
<text x="300.20" y="495.00" font-size="10" text-anchor="end" fill="#000" textLength="10.20" lengthAdjust="spacingAndGlyphs" >40</text>
<text x="300.20" y="467.30" font-size="10" text-anchor="end" fill="#000" textLength="10.20" lengthAdjust="spacingAndGlyphs" >50</text>
<text transform="translate(279.60,533.00) rotate(-90)" x="0" y="0" font-size="12.4" text-anchor="middle" textLength="62.50" lengthAdjust="spacingAndGlyphs">Cell number</text>
<line x1="330.20" y1="600.40" x2="330.20" y2="604.80" stroke="#111" stroke-width="1.1" />
<line x1="352.60" y1="600.40" x2="352.60" y2="604.80" stroke="#111" stroke-width="1.1" />
<line x1="403.20" y1="600.40" x2="403.20" y2="604.80" stroke="#111" stroke-width="1.1" />
<line x1="450.30" y1="600.40" x2="450.30" y2="604.80" stroke="#111" stroke-width="1.1" />
<line x1="494.70" y1="600.40" x2="494.70" y2="604.80" stroke="#111" stroke-width="1.1" />
<line x1="367.83" y1="600.40" x2="367.83" y2="602.60" stroke="#222" stroke-width="0.9" />
<line x1="376.74" y1="600.40" x2="376.74" y2="602.60" stroke="#222" stroke-width="0.9" />
<line x1="383.06" y1="600.40" x2="383.06" y2="602.60" stroke="#222" stroke-width="0.9" />
<line x1="387.97" y1="600.40" x2="387.97" y2="602.60" stroke="#222" stroke-width="0.9" />
<line x1="391.97" y1="600.40" x2="391.97" y2="602.60" stroke="#222" stroke-width="0.9" />
<line x1="395.36" y1="600.40" x2="395.36" y2="602.60" stroke="#222" stroke-width="0.9" />
<line x1="398.30" y1="600.40" x2="398.30" y2="602.60" stroke="#222" stroke-width="0.9" />
<line x1="400.88" y1="600.40" x2="400.88" y2="602.60" stroke="#222" stroke-width="0.9" />
<line x1="417.38" y1="600.40" x2="417.38" y2="602.60" stroke="#222" stroke-width="0.9" />
<line x1="425.67" y1="600.40" x2="425.67" y2="602.60" stroke="#222" stroke-width="0.9" />
<line x1="431.56" y1="600.40" x2="431.56" y2="602.60" stroke="#222" stroke-width="0.9" />
<line x1="436.12" y1="600.40" x2="436.12" y2="602.60" stroke="#222" stroke-width="0.9" />
<line x1="439.85" y1="600.40" x2="439.85" y2="602.60" stroke="#222" stroke-width="0.9" />
<line x1="443.00" y1="600.40" x2="443.00" y2="602.60" stroke="#222" stroke-width="0.9" />
<line x1="445.74" y1="600.40" x2="445.74" y2="602.60" stroke="#222" stroke-width="0.9" />
<line x1="448.14" y1="600.40" x2="448.14" y2="602.60" stroke="#222" stroke-width="0.9" />
<line x1="463.67" y1="600.40" x2="463.67" y2="602.60" stroke="#222" stroke-width="0.9" />
<line x1="471.48" y1="600.40" x2="471.48" y2="602.60" stroke="#222" stroke-width="0.9" />
<line x1="477.03" y1="600.40" x2="477.03" y2="602.60" stroke="#222" stroke-width="0.9" />
<line x1="481.33" y1="600.40" x2="481.33" y2="602.60" stroke="#222" stroke-width="0.9" />
<line x1="484.85" y1="600.40" x2="484.85" y2="602.60" stroke="#222" stroke-width="0.9" />
<line x1="487.82" y1="600.40" x2="487.82" y2="602.60" stroke="#222" stroke-width="0.9" />
<line x1="490.40" y1="600.40" x2="490.40" y2="602.60" stroke="#222" stroke-width="0.9" />
<line x1="492.67" y1="600.40" x2="492.67" y2="602.60" stroke="#222" stroke-width="0.9" />
<line x1="508.55" y1="600.40" x2="508.55" y2="602.60" stroke="#222" stroke-width="0.9" />
<line x1="314.50" y1="600.40" x2="314.50" y2="602.60" stroke="#222" stroke-width="0.9" />
<line x1="317.80" y1="600.40" x2="317.80" y2="602.60" stroke="#222" stroke-width="0.9" />
<line x1="320.20" y1="600.40" x2="320.20" y2="602.60" stroke="#222" stroke-width="0.9" />
<line x1="322.40" y1="600.40" x2="322.40" y2="602.60" stroke="#222" stroke-width="0.9" />
<line x1="324.20" y1="600.40" x2="324.20" y2="602.60" stroke="#222" stroke-width="0.9" />
<line x1="325.80" y1="600.40" x2="325.80" y2="602.60" stroke="#222" stroke-width="0.9" />
<line x1="327.40" y1="600.40" x2="327.40" y2="602.60" stroke="#222" stroke-width="0.9" />
<line x1="333.00" y1="600.40" x2="333.00" y2="602.60" stroke="#222" stroke-width="0.9" />
<line x1="336.00" y1="600.40" x2="336.00" y2="602.60" stroke="#222" stroke-width="0.9" />
<line x1="338.60" y1="600.40" x2="338.60" y2="602.60" stroke="#222" stroke-width="0.9" />
<line x1="341.00" y1="600.40" x2="341.00" y2="602.60" stroke="#222" stroke-width="0.9" />
<line x1="343.20" y1="600.40" x2="343.20" y2="602.60" stroke="#222" stroke-width="0.9" />
<line x1="345.20" y1="600.40" x2="345.20" y2="602.60" stroke="#222" stroke-width="0.9" />
<line x1="347.20" y1="600.40" x2="347.20" y2="602.60" stroke="#222" stroke-width="0.9" />
<line x1="349.00" y1="600.40" x2="349.00" y2="602.60" stroke="#222" stroke-width="0.9" />
<text x="329.80" y="616.40" font-size="10.8" text-anchor="middle" fill="#000" textLength="5.20" lengthAdjust="spacingAndGlyphs" >0</text>
<text x="353.00" y="616.40" font-size="10.8" text-anchor="middle" textLength="12.00" lengthAdjust="spacingAndGlyphs">10<tspan font-size="7.78" dy="-3.4">2</tspan></text>
<text x="403.00" y="616.40" font-size="10.8" text-anchor="middle" textLength="12.00" lengthAdjust="spacingAndGlyphs">10<tspan font-size="7.78" dy="-3.4">3</tspan></text>
<text x="451.20" y="616.40" font-size="10.8" text-anchor="middle" textLength="12.00" lengthAdjust="spacingAndGlyphs">10<tspan font-size="7.78" dy="-3.4">4</tspan></text>
<text x="495.60" y="616.40" font-size="10.8" text-anchor="middle" textLength="12.00" lengthAdjust="spacingAndGlyphs">10<tspan font-size="7.78" dy="-3.4">5</tspan></text>
<line x1="311.80" y1="624.40" x2="471.00" y2="624.40" stroke="#000" stroke-width="2.2" />
<path d="M477.4 624.4 L469.4 620.4 L469.4 628.4 Z" fill="#000" stroke="#000" stroke-width="0.3" />
<text x="482.40" y="629.30" font-size="13.4" text-anchor="start" fill="#000" textLength="20.80" lengthAdjust="spacingAndGlyphs" >GFP</text>
<text x="0.80" y="10.80" font-size="14.2" text-anchor="start" fill="#000" >A</text>
<text x="348.20" y="10.50" font-size="14" text-anchor="start" fill="#000" >B</text>
<text x="1.00" y="209.40" font-size="14.4" text-anchor="start" fill="#000" >C</text>
<text x="253.60" y="209.40" font-size="14.6" text-anchor="start" fill="#000" >D</text>
<text x="0.10" y="423.20" font-size="14.6" text-anchor="start" fill="#000" >E</text>
<text x="253.80" y="423.00" font-size="14.6" text-anchor="start" fill="#000" >F</text>
</svg></body></html>
